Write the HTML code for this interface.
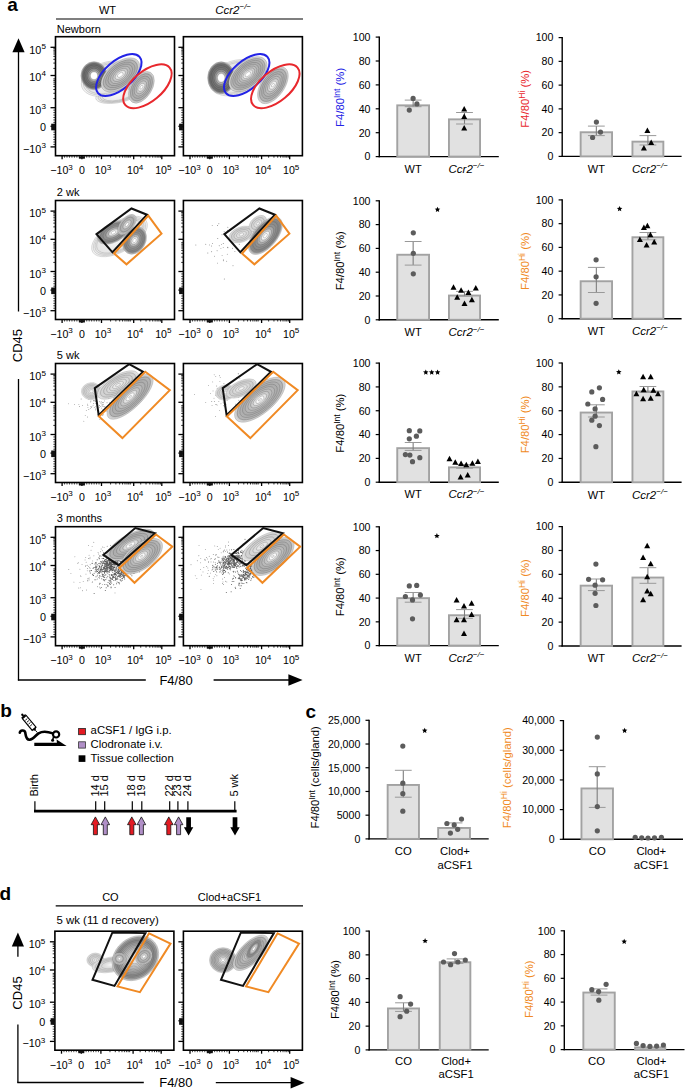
<!DOCTYPE html>
<html><head><meta charset="utf-8"><style>
html,body{margin:0;padding:0;background:#fff;}
svg{display:block;font-family:"Liberation Sans", sans-serif;}
</style></head><body>
<svg width="685" height="1090" viewBox="0 0 685 1090">
<rect width="685" height="1090" fill="#fff"/>
<defs><radialGradient id="g_vdark" cx="0.5" cy="0.5" r="0.5"><stop offset="0" stop-color="#ffffff"/><stop offset="0.2" stop-color="#ffffff"/><stop offset="0.36" stop-color="#b0b0b0"/><stop offset="0.55" stop-color="#7a7a7a"/><stop offset="0.82" stop-color="#6c6c6c"/><stop offset="0.93" stop-color="#8c8c8c"/><stop offset="1" stop-color="#d8d8d8"/></radialGradient><radialGradient id="g_dark" cx="0.5" cy="0.5" r="0.5"><stop offset="0" stop-color="#ffffff"/><stop offset="0.14" stop-color="#ffffff"/><stop offset="0.3" stop-color="#c8c8c8"/><stop offset="0.5" stop-color="#959595"/><stop offset="0.8" stop-color="#848484"/><stop offset="0.92" stop-color="#a0a0a0"/><stop offset="1" stop-color="#e0e0e0"/></radialGradient><radialGradient id="g_med" cx="0.5" cy="0.5" r="0.5"><stop offset="0" stop-color="#ffffff"/><stop offset="0.12" stop-color="#fbfbfb"/><stop offset="0.35" stop-color="#c4c4c4"/><stop offset="0.65" stop-color="#acacac"/><stop offset="0.88" stop-color="#b6b6b6"/><stop offset="1" stop-color="#e6e6e6"/></radialGradient><radialGradient id="g_light" cx="0.5" cy="0.5" r="0.5"><stop offset="0" stop-color="#f6f6f6"/><stop offset="0.3" stop-color="#e0e0e0"/><stop offset="0.7" stop-color="#d0d0d0"/><stop offset="0.9" stop-color="#d8d8d8"/><stop offset="1" stop-color="#f2f2f2"/></radialGradient><radialGradient id="g_ring" cx="0.5" cy="0.5" r="0.5"><stop offset="0" stop-color="#eeeeee"/><stop offset="0.35" stop-color="#d4d4d4"/><stop offset="0.6" stop-color="#a8a8a8"/><stop offset="0.8" stop-color="#858585"/><stop offset="0.92" stop-color="#a4a4a4"/><stop offset="1" stop-color="#e4e4e4"/></radialGradient><radialGradient id="g_faint" cx="0.5" cy="0.5" r="0.5"><stop offset="0" stop-color="#f8f8f8"/><stop offset="0.5" stop-color="#eeeeee"/><stop offset="0.85" stop-color="#e4e4e4"/><stop offset="1" stop-color="#f8f8f8"/></radialGradient></defs>
<text x="7.2" y="10.6" font-size="19" text-anchor="start" fill="#000" font-weight="bold" font-style="normal">a</text>
<text x="0.2" y="717.4" font-size="19" text-anchor="start" fill="#000" font-weight="bold" font-style="normal">b</text>
<text x="305.6" y="717.8" font-size="19" text-anchor="start" fill="#000" font-weight="bold" font-style="normal">c</text>
<text x="-0.6" y="899.6" font-size="19" text-anchor="start" fill="#000" font-weight="bold" font-style="normal">d</text>
<text x="107.5" y="13.8" font-size="11" text-anchor="middle" fill="#000" font-weight="normal" font-style="normal">WT</text>
<text x="215.2" y="13.8" font-size="11" text-anchor="start" fill="#000" font-weight="normal" font-style="italic"><tspan font-size="11.5">Ccr2</tspan><tspan dy="-4.5" font-size="8">−/−</tspan></text>
<line x1="56" y1="19" x2="303" y2="19" stroke="#000" stroke-width="1.2"/>
<line x1="18.5" y1="50" x2="18.5" y2="311.6" stroke="#000" stroke-width="1.3"/>
<line x1="18.5" y1="379" x2="18.5" y2="680.6" stroke="#000" stroke-width="1.3"/>
<polygon points="18.5,38.2 12.4,52.3 24.6,52.3" fill="#000"/>
<text x="22" y="345.6" font-size="13" text-anchor="middle" fill="#000" font-weight="normal" font-style="normal" transform="rotate(-90 22 345.6)">CD45</text>
<line x1="17.9" y1="680" x2="145.8" y2="680" stroke="#000" stroke-width="1.3"/>
<line x1="213.6" y1="680" x2="290" y2="680" stroke="#000" stroke-width="1.3"/>
<polygon points="302.6,680 288.4,674.2 288.4,685.8" fill="#000"/>
<text x="159.4" y="685.2" font-size="13" text-anchor="start" fill="#000" font-weight="normal" font-style="normal">F4/80</text>
<text x="56.8" y="32.8" font-size="11" text-anchor="start" fill="#000" font-weight="normal" font-style="normal">Newborn</text>
<rect x="55.5" y="36.7" width="119" height="119" fill="none" stroke="#000" stroke-width="1.6"/>
<line x1="50.5" y1="47.3" x2="55.5" y2="47.3" stroke="#000" stroke-width="1.3"/>
<line x1="50.5" y1="75.5" x2="55.5" y2="75.5" stroke="#000" stroke-width="1.3"/>
<line x1="50.5" y1="107.7" x2="55.5" y2="107.7" stroke="#000" stroke-width="1.3"/>
<line x1="50.5" y1="126.3" x2="55.5" y2="126.3" stroke="#000" stroke-width="1.3"/>
<line x1="50.5" y1="146.9" x2="55.5" y2="146.9" stroke="#000" stroke-width="1.3"/>
<line x1="53.3" y1="98.61" x2="55.5" y2="98.61" stroke="#000" stroke-width="0.8"/>
<line x1="53.3" y1="93.29" x2="55.5" y2="93.29" stroke="#000" stroke-width="0.8"/>
<line x1="53.3" y1="89.52" x2="55.5" y2="89.52" stroke="#000" stroke-width="0.8"/>
<line x1="53.3" y1="86.59" x2="55.5" y2="86.59" stroke="#000" stroke-width="0.8"/>
<line x1="53.3" y1="84.2" x2="55.5" y2="84.2" stroke="#000" stroke-width="0.8"/>
<line x1="53.3" y1="82.18" x2="55.5" y2="82.18" stroke="#000" stroke-width="0.8"/>
<line x1="53.3" y1="80.43" x2="55.5" y2="80.43" stroke="#000" stroke-width="0.8"/>
<line x1="53.3" y1="78.88" x2="55.5" y2="78.88" stroke="#000" stroke-width="0.8"/>
<line x1="53.3" y1="68.41" x2="55.5" y2="68.41" stroke="#000" stroke-width="0.8"/>
<line x1="53.3" y1="63.09" x2="55.5" y2="63.09" stroke="#000" stroke-width="0.8"/>
<line x1="53.3" y1="59.32" x2="55.5" y2="59.32" stroke="#000" stroke-width="0.8"/>
<line x1="53.3" y1="56.39" x2="55.5" y2="56.39" stroke="#000" stroke-width="0.8"/>
<line x1="53.3" y1="54" x2="55.5" y2="54" stroke="#000" stroke-width="0.8"/>
<line x1="53.3" y1="51.98" x2="55.5" y2="51.98" stroke="#000" stroke-width="0.8"/>
<line x1="53.3" y1="50.23" x2="55.5" y2="50.23" stroke="#000" stroke-width="0.8"/>
<line x1="53.3" y1="48.68" x2="55.5" y2="48.68" stroke="#000" stroke-width="0.8"/>
<line x1="53.3" y1="110.15" x2="55.5" y2="110.15" stroke="#000" stroke-width="0.7"/>
<line x1="53.3" y1="112.6" x2="55.5" y2="112.6" stroke="#000" stroke-width="0.7"/>
<line x1="53.3" y1="115.05" x2="55.5" y2="115.05" stroke="#000" stroke-width="0.7"/>
<line x1="53.3" y1="117.5" x2="55.5" y2="117.5" stroke="#000" stroke-width="0.7"/>
<line x1="53.3" y1="119.95" x2="55.5" y2="119.95" stroke="#000" stroke-width="0.7"/>
<line x1="53.3" y1="122.4" x2="55.5" y2="122.4" stroke="#000" stroke-width="0.7"/>
<line x1="53.3" y1="124.85" x2="55.5" y2="124.85" stroke="#000" stroke-width="0.7"/>
<line x1="53.3" y1="127.3" x2="55.5" y2="127.3" stroke="#000" stroke-width="0.7"/>
<line x1="53.3" y1="129.75" x2="55.5" y2="129.75" stroke="#000" stroke-width="0.7"/>
<line x1="53.3" y1="132.2" x2="55.5" y2="132.2" stroke="#000" stroke-width="0.7"/>
<line x1="53.3" y1="134.65" x2="55.5" y2="134.65" stroke="#000" stroke-width="0.7"/>
<line x1="53.3" y1="137.1" x2="55.5" y2="137.1" stroke="#000" stroke-width="0.7"/>
<line x1="53.3" y1="139.55" x2="55.5" y2="139.55" stroke="#000" stroke-width="0.7"/>
<line x1="53.3" y1="142" x2="55.5" y2="142" stroke="#000" stroke-width="0.7"/>
<line x1="53.3" y1="144.45" x2="55.5" y2="144.45" stroke="#000" stroke-width="0.7"/>
<rect x="51.2" y="123.7" width="3.8" height="6.6" fill="#111"/>
<line x1="62.1" y1="155.7" x2="62.1" y2="159.2" stroke="#000" stroke-width="1.3"/>
<line x1="81.9" y1="155.7" x2="81.9" y2="159.2" stroke="#000" stroke-width="1.3"/>
<line x1="101.5" y1="155.7" x2="101.5" y2="159.2" stroke="#000" stroke-width="1.3"/>
<line x1="133.7" y1="155.7" x2="133.7" y2="159.2" stroke="#000" stroke-width="1.3"/>
<line x1="161.8" y1="155.7" x2="161.8" y2="159.2" stroke="#000" stroke-width="1.3"/>
<line x1="110.58" y1="155.7" x2="110.58" y2="157.7" stroke="#000" stroke-width="0.8"/>
<line x1="115.89" y1="155.7" x2="115.89" y2="157.7" stroke="#000" stroke-width="0.8"/>
<line x1="119.65" y1="155.7" x2="119.65" y2="157.7" stroke="#000" stroke-width="0.8"/>
<line x1="122.57" y1="155.7" x2="122.57" y2="157.7" stroke="#000" stroke-width="0.8"/>
<line x1="124.96" y1="155.7" x2="124.96" y2="157.7" stroke="#000" stroke-width="0.8"/>
<line x1="126.98" y1="155.7" x2="126.98" y2="157.7" stroke="#000" stroke-width="0.8"/>
<line x1="128.73" y1="155.7" x2="128.73" y2="157.7" stroke="#000" stroke-width="0.8"/>
<line x1="130.27" y1="155.7" x2="130.27" y2="157.7" stroke="#000" stroke-width="0.8"/>
<line x1="140.73" y1="155.7" x2="140.73" y2="157.7" stroke="#000" stroke-width="0.8"/>
<line x1="146.04" y1="155.7" x2="146.04" y2="157.7" stroke="#000" stroke-width="0.8"/>
<line x1="149.8" y1="155.7" x2="149.8" y2="157.7" stroke="#000" stroke-width="0.8"/>
<line x1="152.72" y1="155.7" x2="152.72" y2="157.7" stroke="#000" stroke-width="0.8"/>
<line x1="155.11" y1="155.7" x2="155.11" y2="157.7" stroke="#000" stroke-width="0.8"/>
<line x1="157.13" y1="155.7" x2="157.13" y2="157.7" stroke="#000" stroke-width="0.8"/>
<line x1="158.88" y1="155.7" x2="158.88" y2="157.7" stroke="#000" stroke-width="0.8"/>
<line x1="160.42" y1="155.7" x2="160.42" y2="157.7" stroke="#000" stroke-width="0.8"/>
<line x1="64.56" y1="155.7" x2="64.56" y2="157.7" stroke="#000" stroke-width="0.7"/>
<line x1="67.03" y1="155.7" x2="67.03" y2="157.7" stroke="#000" stroke-width="0.7"/>
<line x1="69.49" y1="155.7" x2="69.49" y2="157.7" stroke="#000" stroke-width="0.7"/>
<line x1="71.95" y1="155.7" x2="71.95" y2="157.7" stroke="#000" stroke-width="0.7"/>
<line x1="74.41" y1="155.7" x2="74.41" y2="157.7" stroke="#000" stroke-width="0.7"/>
<line x1="76.88" y1="155.7" x2="76.88" y2="157.7" stroke="#000" stroke-width="0.7"/>
<line x1="79.34" y1="155.7" x2="79.34" y2="157.7" stroke="#000" stroke-width="0.7"/>
<line x1="81.8" y1="155.7" x2="81.8" y2="157.7" stroke="#000" stroke-width="0.7"/>
<line x1="84.26" y1="155.7" x2="84.26" y2="157.7" stroke="#000" stroke-width="0.7"/>
<line x1="86.72" y1="155.7" x2="86.72" y2="157.7" stroke="#000" stroke-width="0.7"/>
<line x1="89.19" y1="155.7" x2="89.19" y2="157.7" stroke="#000" stroke-width="0.7"/>
<line x1="91.65" y1="155.7" x2="91.65" y2="157.7" stroke="#000" stroke-width="0.7"/>
<line x1="94.11" y1="155.7" x2="94.11" y2="157.7" stroke="#000" stroke-width="0.7"/>
<line x1="96.58" y1="155.7" x2="96.58" y2="157.7" stroke="#000" stroke-width="0.7"/>
<line x1="99.04" y1="155.7" x2="99.04" y2="157.7" stroke="#000" stroke-width="0.7"/>
<rect x="78.9" y="156.3" width="6" height="2.4" fill="#111"/>
<text x="61.6" y="174.1" font-size="10.6" text-anchor="middle" fill="#000" font-weight="normal" font-style="normal">−10<tspan dy="-4.5" font-size="8.1">3</tspan></text>
<text x="81.9" y="174.1" font-size="10.6" text-anchor="middle" fill="#000" font-weight="normal" font-style="normal">0</text>
<text x="103" y="174.1" font-size="10.6" text-anchor="middle" fill="#000" font-weight="normal" font-style="normal">10<tspan dy="-4.5" font-size="8.1">3</tspan></text>
<text x="135.2" y="174.1" font-size="10.6" text-anchor="middle" fill="#000" font-weight="normal" font-style="normal">10<tspan dy="-4.5" font-size="8.1">4</tspan></text>
<text x="163.3" y="174.1" font-size="10.6" text-anchor="middle" fill="#000" font-weight="normal" font-style="normal">10<tspan dy="-4.5" font-size="8.1">5</tspan></text>
<text x="45.9" y="53.5" font-size="10.8" text-anchor="end" fill="#000" font-weight="normal" font-style="normal">10<tspan dy="-4.5" font-size="8.1">5</tspan></text>
<text x="45.9" y="80.5" font-size="10.8" text-anchor="end" fill="#000" font-weight="normal" font-style="normal">10<tspan dy="-4.5" font-size="8.1">4</tspan></text>
<text x="45.9" y="113.7" font-size="10.8" text-anchor="end" fill="#000" font-weight="normal" font-style="normal">10<tspan dy="-4.5" font-size="8.1">3</tspan></text>
<text x="45.9" y="131.1" font-size="10.8" text-anchor="end" fill="#000" font-weight="normal" font-style="normal">0</text>
<text x="45.9" y="152.9" font-size="10.8" text-anchor="end" fill="#000" font-weight="normal" font-style="normal">−10<tspan dy="-4.5" font-size="8.1">3</tspan></text>
<rect x="183.4" y="36.7" width="119" height="119" fill="none" stroke="#000" stroke-width="1.6"/>
<line x1="178.4" y1="47.3" x2="183.4" y2="47.3" stroke="#000" stroke-width="1.3"/>
<line x1="178.4" y1="75.5" x2="183.4" y2="75.5" stroke="#000" stroke-width="1.3"/>
<line x1="178.4" y1="107.7" x2="183.4" y2="107.7" stroke="#000" stroke-width="1.3"/>
<line x1="178.4" y1="126.3" x2="183.4" y2="126.3" stroke="#000" stroke-width="1.3"/>
<line x1="178.4" y1="146.9" x2="183.4" y2="146.9" stroke="#000" stroke-width="1.3"/>
<line x1="181.2" y1="98.61" x2="183.4" y2="98.61" stroke="#000" stroke-width="0.8"/>
<line x1="181.2" y1="93.29" x2="183.4" y2="93.29" stroke="#000" stroke-width="0.8"/>
<line x1="181.2" y1="89.52" x2="183.4" y2="89.52" stroke="#000" stroke-width="0.8"/>
<line x1="181.2" y1="86.59" x2="183.4" y2="86.59" stroke="#000" stroke-width="0.8"/>
<line x1="181.2" y1="84.2" x2="183.4" y2="84.2" stroke="#000" stroke-width="0.8"/>
<line x1="181.2" y1="82.18" x2="183.4" y2="82.18" stroke="#000" stroke-width="0.8"/>
<line x1="181.2" y1="80.43" x2="183.4" y2="80.43" stroke="#000" stroke-width="0.8"/>
<line x1="181.2" y1="78.88" x2="183.4" y2="78.88" stroke="#000" stroke-width="0.8"/>
<line x1="181.2" y1="68.41" x2="183.4" y2="68.41" stroke="#000" stroke-width="0.8"/>
<line x1="181.2" y1="63.09" x2="183.4" y2="63.09" stroke="#000" stroke-width="0.8"/>
<line x1="181.2" y1="59.32" x2="183.4" y2="59.32" stroke="#000" stroke-width="0.8"/>
<line x1="181.2" y1="56.39" x2="183.4" y2="56.39" stroke="#000" stroke-width="0.8"/>
<line x1="181.2" y1="54" x2="183.4" y2="54" stroke="#000" stroke-width="0.8"/>
<line x1="181.2" y1="51.98" x2="183.4" y2="51.98" stroke="#000" stroke-width="0.8"/>
<line x1="181.2" y1="50.23" x2="183.4" y2="50.23" stroke="#000" stroke-width="0.8"/>
<line x1="181.2" y1="48.68" x2="183.4" y2="48.68" stroke="#000" stroke-width="0.8"/>
<line x1="181.2" y1="110.15" x2="183.4" y2="110.15" stroke="#000" stroke-width="0.7"/>
<line x1="181.2" y1="112.6" x2="183.4" y2="112.6" stroke="#000" stroke-width="0.7"/>
<line x1="181.2" y1="115.05" x2="183.4" y2="115.05" stroke="#000" stroke-width="0.7"/>
<line x1="181.2" y1="117.5" x2="183.4" y2="117.5" stroke="#000" stroke-width="0.7"/>
<line x1="181.2" y1="119.95" x2="183.4" y2="119.95" stroke="#000" stroke-width="0.7"/>
<line x1="181.2" y1="122.4" x2="183.4" y2="122.4" stroke="#000" stroke-width="0.7"/>
<line x1="181.2" y1="124.85" x2="183.4" y2="124.85" stroke="#000" stroke-width="0.7"/>
<line x1="181.2" y1="127.3" x2="183.4" y2="127.3" stroke="#000" stroke-width="0.7"/>
<line x1="181.2" y1="129.75" x2="183.4" y2="129.75" stroke="#000" stroke-width="0.7"/>
<line x1="181.2" y1="132.2" x2="183.4" y2="132.2" stroke="#000" stroke-width="0.7"/>
<line x1="181.2" y1="134.65" x2="183.4" y2="134.65" stroke="#000" stroke-width="0.7"/>
<line x1="181.2" y1="137.1" x2="183.4" y2="137.1" stroke="#000" stroke-width="0.7"/>
<line x1="181.2" y1="139.55" x2="183.4" y2="139.55" stroke="#000" stroke-width="0.7"/>
<line x1="181.2" y1="142" x2="183.4" y2="142" stroke="#000" stroke-width="0.7"/>
<line x1="181.2" y1="144.45" x2="183.4" y2="144.45" stroke="#000" stroke-width="0.7"/>
<rect x="179.1" y="123.7" width="3.8" height="6.6" fill="#111"/>
<line x1="190" y1="155.7" x2="190" y2="159.2" stroke="#000" stroke-width="1.3"/>
<line x1="209.8" y1="155.7" x2="209.8" y2="159.2" stroke="#000" stroke-width="1.3"/>
<line x1="229.4" y1="155.7" x2="229.4" y2="159.2" stroke="#000" stroke-width="1.3"/>
<line x1="261.6" y1="155.7" x2="261.6" y2="159.2" stroke="#000" stroke-width="1.3"/>
<line x1="289.7" y1="155.7" x2="289.7" y2="159.2" stroke="#000" stroke-width="1.3"/>
<line x1="238.48" y1="155.7" x2="238.48" y2="157.7" stroke="#000" stroke-width="0.8"/>
<line x1="243.79" y1="155.7" x2="243.79" y2="157.7" stroke="#000" stroke-width="0.8"/>
<line x1="247.55" y1="155.7" x2="247.55" y2="157.7" stroke="#000" stroke-width="0.8"/>
<line x1="250.47" y1="155.7" x2="250.47" y2="157.7" stroke="#000" stroke-width="0.8"/>
<line x1="252.86" y1="155.7" x2="252.86" y2="157.7" stroke="#000" stroke-width="0.8"/>
<line x1="254.88" y1="155.7" x2="254.88" y2="157.7" stroke="#000" stroke-width="0.8"/>
<line x1="256.63" y1="155.7" x2="256.63" y2="157.7" stroke="#000" stroke-width="0.8"/>
<line x1="258.17" y1="155.7" x2="258.17" y2="157.7" stroke="#000" stroke-width="0.8"/>
<line x1="268.63" y1="155.7" x2="268.63" y2="157.7" stroke="#000" stroke-width="0.8"/>
<line x1="273.94" y1="155.7" x2="273.94" y2="157.7" stroke="#000" stroke-width="0.8"/>
<line x1="277.7" y1="155.7" x2="277.7" y2="157.7" stroke="#000" stroke-width="0.8"/>
<line x1="280.62" y1="155.7" x2="280.62" y2="157.7" stroke="#000" stroke-width="0.8"/>
<line x1="283.01" y1="155.7" x2="283.01" y2="157.7" stroke="#000" stroke-width="0.8"/>
<line x1="285.03" y1="155.7" x2="285.03" y2="157.7" stroke="#000" stroke-width="0.8"/>
<line x1="286.78" y1="155.7" x2="286.78" y2="157.7" stroke="#000" stroke-width="0.8"/>
<line x1="288.32" y1="155.7" x2="288.32" y2="157.7" stroke="#000" stroke-width="0.8"/>
<line x1="192.46" y1="155.7" x2="192.46" y2="157.7" stroke="#000" stroke-width="0.7"/>
<line x1="194.93" y1="155.7" x2="194.93" y2="157.7" stroke="#000" stroke-width="0.7"/>
<line x1="197.39" y1="155.7" x2="197.39" y2="157.7" stroke="#000" stroke-width="0.7"/>
<line x1="199.85" y1="155.7" x2="199.85" y2="157.7" stroke="#000" stroke-width="0.7"/>
<line x1="202.31" y1="155.7" x2="202.31" y2="157.7" stroke="#000" stroke-width="0.7"/>
<line x1="204.78" y1="155.7" x2="204.78" y2="157.7" stroke="#000" stroke-width="0.7"/>
<line x1="207.24" y1="155.7" x2="207.24" y2="157.7" stroke="#000" stroke-width="0.7"/>
<line x1="209.7" y1="155.7" x2="209.7" y2="157.7" stroke="#000" stroke-width="0.7"/>
<line x1="212.16" y1="155.7" x2="212.16" y2="157.7" stroke="#000" stroke-width="0.7"/>
<line x1="214.62" y1="155.7" x2="214.62" y2="157.7" stroke="#000" stroke-width="0.7"/>
<line x1="217.09" y1="155.7" x2="217.09" y2="157.7" stroke="#000" stroke-width="0.7"/>
<line x1="219.55" y1="155.7" x2="219.55" y2="157.7" stroke="#000" stroke-width="0.7"/>
<line x1="222.01" y1="155.7" x2="222.01" y2="157.7" stroke="#000" stroke-width="0.7"/>
<line x1="224.47" y1="155.7" x2="224.47" y2="157.7" stroke="#000" stroke-width="0.7"/>
<line x1="226.94" y1="155.7" x2="226.94" y2="157.7" stroke="#000" stroke-width="0.7"/>
<rect x="206.8" y="156.3" width="6" height="2.4" fill="#111"/>
<text x="189.5" y="174.1" font-size="10.6" text-anchor="middle" fill="#000" font-weight="normal" font-style="normal">−10<tspan dy="-4.5" font-size="8.1">3</tspan></text>
<text x="209.8" y="174.1" font-size="10.6" text-anchor="middle" fill="#000" font-weight="normal" font-style="normal">0</text>
<text x="230.9" y="174.1" font-size="10.6" text-anchor="middle" fill="#000" font-weight="normal" font-style="normal">10<tspan dy="-4.5" font-size="8.1">3</tspan></text>
<text x="263.1" y="174.1" font-size="10.6" text-anchor="middle" fill="#000" font-weight="normal" font-style="normal">10<tspan dy="-4.5" font-size="8.1">4</tspan></text>
<text x="291.2" y="174.1" font-size="10.6" text-anchor="middle" fill="#000" font-weight="normal" font-style="normal">10<tspan dy="-4.5" font-size="8.1">5</tspan></text>
<text x="56.8" y="196.3" font-size="11" text-anchor="start" fill="#000" font-weight="normal" font-style="normal">2 wk</text>
<rect x="55.5" y="200.5" width="119" height="119" fill="none" stroke="#000" stroke-width="1.6"/>
<line x1="50.5" y1="211.1" x2="55.5" y2="211.1" stroke="#000" stroke-width="1.3"/>
<line x1="50.5" y1="239.3" x2="55.5" y2="239.3" stroke="#000" stroke-width="1.3"/>
<line x1="50.5" y1="271.5" x2="55.5" y2="271.5" stroke="#000" stroke-width="1.3"/>
<line x1="50.5" y1="290.1" x2="55.5" y2="290.1" stroke="#000" stroke-width="1.3"/>
<line x1="50.5" y1="310.7" x2="55.5" y2="310.7" stroke="#000" stroke-width="1.3"/>
<line x1="53.3" y1="262.41" x2="55.5" y2="262.41" stroke="#000" stroke-width="0.8"/>
<line x1="53.3" y1="257.09" x2="55.5" y2="257.09" stroke="#000" stroke-width="0.8"/>
<line x1="53.3" y1="253.32" x2="55.5" y2="253.32" stroke="#000" stroke-width="0.8"/>
<line x1="53.3" y1="250.39" x2="55.5" y2="250.39" stroke="#000" stroke-width="0.8"/>
<line x1="53.3" y1="248" x2="55.5" y2="248" stroke="#000" stroke-width="0.8"/>
<line x1="53.3" y1="245.98" x2="55.5" y2="245.98" stroke="#000" stroke-width="0.8"/>
<line x1="53.3" y1="244.23" x2="55.5" y2="244.23" stroke="#000" stroke-width="0.8"/>
<line x1="53.3" y1="242.68" x2="55.5" y2="242.68" stroke="#000" stroke-width="0.8"/>
<line x1="53.3" y1="232.21" x2="55.5" y2="232.21" stroke="#000" stroke-width="0.8"/>
<line x1="53.3" y1="226.89" x2="55.5" y2="226.89" stroke="#000" stroke-width="0.8"/>
<line x1="53.3" y1="223.12" x2="55.5" y2="223.12" stroke="#000" stroke-width="0.8"/>
<line x1="53.3" y1="220.19" x2="55.5" y2="220.19" stroke="#000" stroke-width="0.8"/>
<line x1="53.3" y1="217.8" x2="55.5" y2="217.8" stroke="#000" stroke-width="0.8"/>
<line x1="53.3" y1="215.78" x2="55.5" y2="215.78" stroke="#000" stroke-width="0.8"/>
<line x1="53.3" y1="214.03" x2="55.5" y2="214.03" stroke="#000" stroke-width="0.8"/>
<line x1="53.3" y1="212.48" x2="55.5" y2="212.48" stroke="#000" stroke-width="0.8"/>
<line x1="53.3" y1="273.95" x2="55.5" y2="273.95" stroke="#000" stroke-width="0.7"/>
<line x1="53.3" y1="276.4" x2="55.5" y2="276.4" stroke="#000" stroke-width="0.7"/>
<line x1="53.3" y1="278.85" x2="55.5" y2="278.85" stroke="#000" stroke-width="0.7"/>
<line x1="53.3" y1="281.3" x2="55.5" y2="281.3" stroke="#000" stroke-width="0.7"/>
<line x1="53.3" y1="283.75" x2="55.5" y2="283.75" stroke="#000" stroke-width="0.7"/>
<line x1="53.3" y1="286.2" x2="55.5" y2="286.2" stroke="#000" stroke-width="0.7"/>
<line x1="53.3" y1="288.65" x2="55.5" y2="288.65" stroke="#000" stroke-width="0.7"/>
<line x1="53.3" y1="291.1" x2="55.5" y2="291.1" stroke="#000" stroke-width="0.7"/>
<line x1="53.3" y1="293.55" x2="55.5" y2="293.55" stroke="#000" stroke-width="0.7"/>
<line x1="53.3" y1="296" x2="55.5" y2="296" stroke="#000" stroke-width="0.7"/>
<line x1="53.3" y1="298.45" x2="55.5" y2="298.45" stroke="#000" stroke-width="0.7"/>
<line x1="53.3" y1="300.9" x2="55.5" y2="300.9" stroke="#000" stroke-width="0.7"/>
<line x1="53.3" y1="303.35" x2="55.5" y2="303.35" stroke="#000" stroke-width="0.7"/>
<line x1="53.3" y1="305.8" x2="55.5" y2="305.8" stroke="#000" stroke-width="0.7"/>
<line x1="53.3" y1="308.25" x2="55.5" y2="308.25" stroke="#000" stroke-width="0.7"/>
<rect x="51.2" y="287.5" width="3.8" height="6.6" fill="#111"/>
<line x1="62.1" y1="319.5" x2="62.1" y2="323" stroke="#000" stroke-width="1.3"/>
<line x1="81.9" y1="319.5" x2="81.9" y2="323" stroke="#000" stroke-width="1.3"/>
<line x1="101.5" y1="319.5" x2="101.5" y2="323" stroke="#000" stroke-width="1.3"/>
<line x1="133.7" y1="319.5" x2="133.7" y2="323" stroke="#000" stroke-width="1.3"/>
<line x1="161.8" y1="319.5" x2="161.8" y2="323" stroke="#000" stroke-width="1.3"/>
<line x1="110.58" y1="319.5" x2="110.58" y2="321.5" stroke="#000" stroke-width="0.8"/>
<line x1="115.89" y1="319.5" x2="115.89" y2="321.5" stroke="#000" stroke-width="0.8"/>
<line x1="119.65" y1="319.5" x2="119.65" y2="321.5" stroke="#000" stroke-width="0.8"/>
<line x1="122.57" y1="319.5" x2="122.57" y2="321.5" stroke="#000" stroke-width="0.8"/>
<line x1="124.96" y1="319.5" x2="124.96" y2="321.5" stroke="#000" stroke-width="0.8"/>
<line x1="126.98" y1="319.5" x2="126.98" y2="321.5" stroke="#000" stroke-width="0.8"/>
<line x1="128.73" y1="319.5" x2="128.73" y2="321.5" stroke="#000" stroke-width="0.8"/>
<line x1="130.27" y1="319.5" x2="130.27" y2="321.5" stroke="#000" stroke-width="0.8"/>
<line x1="140.73" y1="319.5" x2="140.73" y2="321.5" stroke="#000" stroke-width="0.8"/>
<line x1="146.04" y1="319.5" x2="146.04" y2="321.5" stroke="#000" stroke-width="0.8"/>
<line x1="149.8" y1="319.5" x2="149.8" y2="321.5" stroke="#000" stroke-width="0.8"/>
<line x1="152.72" y1="319.5" x2="152.72" y2="321.5" stroke="#000" stroke-width="0.8"/>
<line x1="155.11" y1="319.5" x2="155.11" y2="321.5" stroke="#000" stroke-width="0.8"/>
<line x1="157.13" y1="319.5" x2="157.13" y2="321.5" stroke="#000" stroke-width="0.8"/>
<line x1="158.88" y1="319.5" x2="158.88" y2="321.5" stroke="#000" stroke-width="0.8"/>
<line x1="160.42" y1="319.5" x2="160.42" y2="321.5" stroke="#000" stroke-width="0.8"/>
<line x1="64.56" y1="319.5" x2="64.56" y2="321.5" stroke="#000" stroke-width="0.7"/>
<line x1="67.03" y1="319.5" x2="67.03" y2="321.5" stroke="#000" stroke-width="0.7"/>
<line x1="69.49" y1="319.5" x2="69.49" y2="321.5" stroke="#000" stroke-width="0.7"/>
<line x1="71.95" y1="319.5" x2="71.95" y2="321.5" stroke="#000" stroke-width="0.7"/>
<line x1="74.41" y1="319.5" x2="74.41" y2="321.5" stroke="#000" stroke-width="0.7"/>
<line x1="76.88" y1="319.5" x2="76.88" y2="321.5" stroke="#000" stroke-width="0.7"/>
<line x1="79.34" y1="319.5" x2="79.34" y2="321.5" stroke="#000" stroke-width="0.7"/>
<line x1="81.8" y1="319.5" x2="81.8" y2="321.5" stroke="#000" stroke-width="0.7"/>
<line x1="84.26" y1="319.5" x2="84.26" y2="321.5" stroke="#000" stroke-width="0.7"/>
<line x1="86.72" y1="319.5" x2="86.72" y2="321.5" stroke="#000" stroke-width="0.7"/>
<line x1="89.19" y1="319.5" x2="89.19" y2="321.5" stroke="#000" stroke-width="0.7"/>
<line x1="91.65" y1="319.5" x2="91.65" y2="321.5" stroke="#000" stroke-width="0.7"/>
<line x1="94.11" y1="319.5" x2="94.11" y2="321.5" stroke="#000" stroke-width="0.7"/>
<line x1="96.58" y1="319.5" x2="96.58" y2="321.5" stroke="#000" stroke-width="0.7"/>
<line x1="99.04" y1="319.5" x2="99.04" y2="321.5" stroke="#000" stroke-width="0.7"/>
<rect x="78.9" y="320.1" width="6" height="2.4" fill="#111"/>
<text x="61.6" y="337.9" font-size="10.6" text-anchor="middle" fill="#000" font-weight="normal" font-style="normal">−10<tspan dy="-4.5" font-size="8.1">3</tspan></text>
<text x="81.9" y="337.9" font-size="10.6" text-anchor="middle" fill="#000" font-weight="normal" font-style="normal">0</text>
<text x="103" y="337.9" font-size="10.6" text-anchor="middle" fill="#000" font-weight="normal" font-style="normal">10<tspan dy="-4.5" font-size="8.1">3</tspan></text>
<text x="135.2" y="337.9" font-size="10.6" text-anchor="middle" fill="#000" font-weight="normal" font-style="normal">10<tspan dy="-4.5" font-size="8.1">4</tspan></text>
<text x="163.3" y="337.9" font-size="10.6" text-anchor="middle" fill="#000" font-weight="normal" font-style="normal">10<tspan dy="-4.5" font-size="8.1">5</tspan></text>
<text x="45.9" y="217.3" font-size="10.8" text-anchor="end" fill="#000" font-weight="normal" font-style="normal">10<tspan dy="-4.5" font-size="8.1">5</tspan></text>
<text x="45.9" y="244.3" font-size="10.8" text-anchor="end" fill="#000" font-weight="normal" font-style="normal">10<tspan dy="-4.5" font-size="8.1">4</tspan></text>
<text x="45.9" y="277.5" font-size="10.8" text-anchor="end" fill="#000" font-weight="normal" font-style="normal">10<tspan dy="-4.5" font-size="8.1">3</tspan></text>
<text x="45.9" y="294.9" font-size="10.8" text-anchor="end" fill="#000" font-weight="normal" font-style="normal">0</text>
<text x="45.9" y="316.7" font-size="10.8" text-anchor="end" fill="#000" font-weight="normal" font-style="normal">−10<tspan dy="-4.5" font-size="8.1">3</tspan></text>
<rect x="183.4" y="200.5" width="119" height="119" fill="none" stroke="#000" stroke-width="1.6"/>
<line x1="178.4" y1="211.1" x2="183.4" y2="211.1" stroke="#000" stroke-width="1.3"/>
<line x1="178.4" y1="239.3" x2="183.4" y2="239.3" stroke="#000" stroke-width="1.3"/>
<line x1="178.4" y1="271.5" x2="183.4" y2="271.5" stroke="#000" stroke-width="1.3"/>
<line x1="178.4" y1="290.1" x2="183.4" y2="290.1" stroke="#000" stroke-width="1.3"/>
<line x1="178.4" y1="310.7" x2="183.4" y2="310.7" stroke="#000" stroke-width="1.3"/>
<line x1="181.2" y1="262.41" x2="183.4" y2="262.41" stroke="#000" stroke-width="0.8"/>
<line x1="181.2" y1="257.09" x2="183.4" y2="257.09" stroke="#000" stroke-width="0.8"/>
<line x1="181.2" y1="253.32" x2="183.4" y2="253.32" stroke="#000" stroke-width="0.8"/>
<line x1="181.2" y1="250.39" x2="183.4" y2="250.39" stroke="#000" stroke-width="0.8"/>
<line x1="181.2" y1="248" x2="183.4" y2="248" stroke="#000" stroke-width="0.8"/>
<line x1="181.2" y1="245.98" x2="183.4" y2="245.98" stroke="#000" stroke-width="0.8"/>
<line x1="181.2" y1="244.23" x2="183.4" y2="244.23" stroke="#000" stroke-width="0.8"/>
<line x1="181.2" y1="242.68" x2="183.4" y2="242.68" stroke="#000" stroke-width="0.8"/>
<line x1="181.2" y1="232.21" x2="183.4" y2="232.21" stroke="#000" stroke-width="0.8"/>
<line x1="181.2" y1="226.89" x2="183.4" y2="226.89" stroke="#000" stroke-width="0.8"/>
<line x1="181.2" y1="223.12" x2="183.4" y2="223.12" stroke="#000" stroke-width="0.8"/>
<line x1="181.2" y1="220.19" x2="183.4" y2="220.19" stroke="#000" stroke-width="0.8"/>
<line x1="181.2" y1="217.8" x2="183.4" y2="217.8" stroke="#000" stroke-width="0.8"/>
<line x1="181.2" y1="215.78" x2="183.4" y2="215.78" stroke="#000" stroke-width="0.8"/>
<line x1="181.2" y1="214.03" x2="183.4" y2="214.03" stroke="#000" stroke-width="0.8"/>
<line x1="181.2" y1="212.48" x2="183.4" y2="212.48" stroke="#000" stroke-width="0.8"/>
<line x1="181.2" y1="273.95" x2="183.4" y2="273.95" stroke="#000" stroke-width="0.7"/>
<line x1="181.2" y1="276.4" x2="183.4" y2="276.4" stroke="#000" stroke-width="0.7"/>
<line x1="181.2" y1="278.85" x2="183.4" y2="278.85" stroke="#000" stroke-width="0.7"/>
<line x1="181.2" y1="281.3" x2="183.4" y2="281.3" stroke="#000" stroke-width="0.7"/>
<line x1="181.2" y1="283.75" x2="183.4" y2="283.75" stroke="#000" stroke-width="0.7"/>
<line x1="181.2" y1="286.2" x2="183.4" y2="286.2" stroke="#000" stroke-width="0.7"/>
<line x1="181.2" y1="288.65" x2="183.4" y2="288.65" stroke="#000" stroke-width="0.7"/>
<line x1="181.2" y1="291.1" x2="183.4" y2="291.1" stroke="#000" stroke-width="0.7"/>
<line x1="181.2" y1="293.55" x2="183.4" y2="293.55" stroke="#000" stroke-width="0.7"/>
<line x1="181.2" y1="296" x2="183.4" y2="296" stroke="#000" stroke-width="0.7"/>
<line x1="181.2" y1="298.45" x2="183.4" y2="298.45" stroke="#000" stroke-width="0.7"/>
<line x1="181.2" y1="300.9" x2="183.4" y2="300.9" stroke="#000" stroke-width="0.7"/>
<line x1="181.2" y1="303.35" x2="183.4" y2="303.35" stroke="#000" stroke-width="0.7"/>
<line x1="181.2" y1="305.8" x2="183.4" y2="305.8" stroke="#000" stroke-width="0.7"/>
<line x1="181.2" y1="308.25" x2="183.4" y2="308.25" stroke="#000" stroke-width="0.7"/>
<rect x="179.1" y="287.5" width="3.8" height="6.6" fill="#111"/>
<line x1="190" y1="319.5" x2="190" y2="323" stroke="#000" stroke-width="1.3"/>
<line x1="209.8" y1="319.5" x2="209.8" y2="323" stroke="#000" stroke-width="1.3"/>
<line x1="229.4" y1="319.5" x2="229.4" y2="323" stroke="#000" stroke-width="1.3"/>
<line x1="261.6" y1="319.5" x2="261.6" y2="323" stroke="#000" stroke-width="1.3"/>
<line x1="289.7" y1="319.5" x2="289.7" y2="323" stroke="#000" stroke-width="1.3"/>
<line x1="238.48" y1="319.5" x2="238.48" y2="321.5" stroke="#000" stroke-width="0.8"/>
<line x1="243.79" y1="319.5" x2="243.79" y2="321.5" stroke="#000" stroke-width="0.8"/>
<line x1="247.55" y1="319.5" x2="247.55" y2="321.5" stroke="#000" stroke-width="0.8"/>
<line x1="250.47" y1="319.5" x2="250.47" y2="321.5" stroke="#000" stroke-width="0.8"/>
<line x1="252.86" y1="319.5" x2="252.86" y2="321.5" stroke="#000" stroke-width="0.8"/>
<line x1="254.88" y1="319.5" x2="254.88" y2="321.5" stroke="#000" stroke-width="0.8"/>
<line x1="256.63" y1="319.5" x2="256.63" y2="321.5" stroke="#000" stroke-width="0.8"/>
<line x1="258.17" y1="319.5" x2="258.17" y2="321.5" stroke="#000" stroke-width="0.8"/>
<line x1="268.63" y1="319.5" x2="268.63" y2="321.5" stroke="#000" stroke-width="0.8"/>
<line x1="273.94" y1="319.5" x2="273.94" y2="321.5" stroke="#000" stroke-width="0.8"/>
<line x1="277.7" y1="319.5" x2="277.7" y2="321.5" stroke="#000" stroke-width="0.8"/>
<line x1="280.62" y1="319.5" x2="280.62" y2="321.5" stroke="#000" stroke-width="0.8"/>
<line x1="283.01" y1="319.5" x2="283.01" y2="321.5" stroke="#000" stroke-width="0.8"/>
<line x1="285.03" y1="319.5" x2="285.03" y2="321.5" stroke="#000" stroke-width="0.8"/>
<line x1="286.78" y1="319.5" x2="286.78" y2="321.5" stroke="#000" stroke-width="0.8"/>
<line x1="288.32" y1="319.5" x2="288.32" y2="321.5" stroke="#000" stroke-width="0.8"/>
<line x1="192.46" y1="319.5" x2="192.46" y2="321.5" stroke="#000" stroke-width="0.7"/>
<line x1="194.93" y1="319.5" x2="194.93" y2="321.5" stroke="#000" stroke-width="0.7"/>
<line x1="197.39" y1="319.5" x2="197.39" y2="321.5" stroke="#000" stroke-width="0.7"/>
<line x1="199.85" y1="319.5" x2="199.85" y2="321.5" stroke="#000" stroke-width="0.7"/>
<line x1="202.31" y1="319.5" x2="202.31" y2="321.5" stroke="#000" stroke-width="0.7"/>
<line x1="204.78" y1="319.5" x2="204.78" y2="321.5" stroke="#000" stroke-width="0.7"/>
<line x1="207.24" y1="319.5" x2="207.24" y2="321.5" stroke="#000" stroke-width="0.7"/>
<line x1="209.7" y1="319.5" x2="209.7" y2="321.5" stroke="#000" stroke-width="0.7"/>
<line x1="212.16" y1="319.5" x2="212.16" y2="321.5" stroke="#000" stroke-width="0.7"/>
<line x1="214.62" y1="319.5" x2="214.62" y2="321.5" stroke="#000" stroke-width="0.7"/>
<line x1="217.09" y1="319.5" x2="217.09" y2="321.5" stroke="#000" stroke-width="0.7"/>
<line x1="219.55" y1="319.5" x2="219.55" y2="321.5" stroke="#000" stroke-width="0.7"/>
<line x1="222.01" y1="319.5" x2="222.01" y2="321.5" stroke="#000" stroke-width="0.7"/>
<line x1="224.47" y1="319.5" x2="224.47" y2="321.5" stroke="#000" stroke-width="0.7"/>
<line x1="226.94" y1="319.5" x2="226.94" y2="321.5" stroke="#000" stroke-width="0.7"/>
<rect x="206.8" y="320.1" width="6" height="2.4" fill="#111"/>
<text x="189.5" y="337.9" font-size="10.6" text-anchor="middle" fill="#000" font-weight="normal" font-style="normal">−10<tspan dy="-4.5" font-size="8.1">3</tspan></text>
<text x="209.8" y="337.9" font-size="10.6" text-anchor="middle" fill="#000" font-weight="normal" font-style="normal">0</text>
<text x="230.9" y="337.9" font-size="10.6" text-anchor="middle" fill="#000" font-weight="normal" font-style="normal">10<tspan dy="-4.5" font-size="8.1">3</tspan></text>
<text x="263.1" y="337.9" font-size="10.6" text-anchor="middle" fill="#000" font-weight="normal" font-style="normal">10<tspan dy="-4.5" font-size="8.1">4</tspan></text>
<text x="291.2" y="337.9" font-size="10.6" text-anchor="middle" fill="#000" font-weight="normal" font-style="normal">10<tspan dy="-4.5" font-size="8.1">5</tspan></text>
<text x="56.8" y="359.4" font-size="11" text-anchor="start" fill="#000" font-weight="normal" font-style="normal">5 wk</text>
<rect x="55.5" y="363.5" width="119" height="119" fill="none" stroke="#000" stroke-width="1.6"/>
<line x1="50.5" y1="374.1" x2="55.5" y2="374.1" stroke="#000" stroke-width="1.3"/>
<line x1="50.5" y1="402.3" x2="55.5" y2="402.3" stroke="#000" stroke-width="1.3"/>
<line x1="50.5" y1="434.5" x2="55.5" y2="434.5" stroke="#000" stroke-width="1.3"/>
<line x1="50.5" y1="453.1" x2="55.5" y2="453.1" stroke="#000" stroke-width="1.3"/>
<line x1="50.5" y1="473.7" x2="55.5" y2="473.7" stroke="#000" stroke-width="1.3"/>
<line x1="53.3" y1="425.41" x2="55.5" y2="425.41" stroke="#000" stroke-width="0.8"/>
<line x1="53.3" y1="420.09" x2="55.5" y2="420.09" stroke="#000" stroke-width="0.8"/>
<line x1="53.3" y1="416.32" x2="55.5" y2="416.32" stroke="#000" stroke-width="0.8"/>
<line x1="53.3" y1="413.39" x2="55.5" y2="413.39" stroke="#000" stroke-width="0.8"/>
<line x1="53.3" y1="411" x2="55.5" y2="411" stroke="#000" stroke-width="0.8"/>
<line x1="53.3" y1="408.98" x2="55.5" y2="408.98" stroke="#000" stroke-width="0.8"/>
<line x1="53.3" y1="407.23" x2="55.5" y2="407.23" stroke="#000" stroke-width="0.8"/>
<line x1="53.3" y1="405.68" x2="55.5" y2="405.68" stroke="#000" stroke-width="0.8"/>
<line x1="53.3" y1="395.21" x2="55.5" y2="395.21" stroke="#000" stroke-width="0.8"/>
<line x1="53.3" y1="389.89" x2="55.5" y2="389.89" stroke="#000" stroke-width="0.8"/>
<line x1="53.3" y1="386.12" x2="55.5" y2="386.12" stroke="#000" stroke-width="0.8"/>
<line x1="53.3" y1="383.19" x2="55.5" y2="383.19" stroke="#000" stroke-width="0.8"/>
<line x1="53.3" y1="380.8" x2="55.5" y2="380.8" stroke="#000" stroke-width="0.8"/>
<line x1="53.3" y1="378.78" x2="55.5" y2="378.78" stroke="#000" stroke-width="0.8"/>
<line x1="53.3" y1="377.03" x2="55.5" y2="377.03" stroke="#000" stroke-width="0.8"/>
<line x1="53.3" y1="375.48" x2="55.5" y2="375.48" stroke="#000" stroke-width="0.8"/>
<line x1="53.3" y1="436.95" x2="55.5" y2="436.95" stroke="#000" stroke-width="0.7"/>
<line x1="53.3" y1="439.4" x2="55.5" y2="439.4" stroke="#000" stroke-width="0.7"/>
<line x1="53.3" y1="441.85" x2="55.5" y2="441.85" stroke="#000" stroke-width="0.7"/>
<line x1="53.3" y1="444.3" x2="55.5" y2="444.3" stroke="#000" stroke-width="0.7"/>
<line x1="53.3" y1="446.75" x2="55.5" y2="446.75" stroke="#000" stroke-width="0.7"/>
<line x1="53.3" y1="449.2" x2="55.5" y2="449.2" stroke="#000" stroke-width="0.7"/>
<line x1="53.3" y1="451.65" x2="55.5" y2="451.65" stroke="#000" stroke-width="0.7"/>
<line x1="53.3" y1="454.1" x2="55.5" y2="454.1" stroke="#000" stroke-width="0.7"/>
<line x1="53.3" y1="456.55" x2="55.5" y2="456.55" stroke="#000" stroke-width="0.7"/>
<line x1="53.3" y1="459" x2="55.5" y2="459" stroke="#000" stroke-width="0.7"/>
<line x1="53.3" y1="461.45" x2="55.5" y2="461.45" stroke="#000" stroke-width="0.7"/>
<line x1="53.3" y1="463.9" x2="55.5" y2="463.9" stroke="#000" stroke-width="0.7"/>
<line x1="53.3" y1="466.35" x2="55.5" y2="466.35" stroke="#000" stroke-width="0.7"/>
<line x1="53.3" y1="468.8" x2="55.5" y2="468.8" stroke="#000" stroke-width="0.7"/>
<line x1="53.3" y1="471.25" x2="55.5" y2="471.25" stroke="#000" stroke-width="0.7"/>
<rect x="51.2" y="450.5" width="3.8" height="6.6" fill="#111"/>
<line x1="62.1" y1="482.5" x2="62.1" y2="486" stroke="#000" stroke-width="1.3"/>
<line x1="81.9" y1="482.5" x2="81.9" y2="486" stroke="#000" stroke-width="1.3"/>
<line x1="101.5" y1="482.5" x2="101.5" y2="486" stroke="#000" stroke-width="1.3"/>
<line x1="133.7" y1="482.5" x2="133.7" y2="486" stroke="#000" stroke-width="1.3"/>
<line x1="161.8" y1="482.5" x2="161.8" y2="486" stroke="#000" stroke-width="1.3"/>
<line x1="110.58" y1="482.5" x2="110.58" y2="484.5" stroke="#000" stroke-width="0.8"/>
<line x1="115.89" y1="482.5" x2="115.89" y2="484.5" stroke="#000" stroke-width="0.8"/>
<line x1="119.65" y1="482.5" x2="119.65" y2="484.5" stroke="#000" stroke-width="0.8"/>
<line x1="122.57" y1="482.5" x2="122.57" y2="484.5" stroke="#000" stroke-width="0.8"/>
<line x1="124.96" y1="482.5" x2="124.96" y2="484.5" stroke="#000" stroke-width="0.8"/>
<line x1="126.98" y1="482.5" x2="126.98" y2="484.5" stroke="#000" stroke-width="0.8"/>
<line x1="128.73" y1="482.5" x2="128.73" y2="484.5" stroke="#000" stroke-width="0.8"/>
<line x1="130.27" y1="482.5" x2="130.27" y2="484.5" stroke="#000" stroke-width="0.8"/>
<line x1="140.73" y1="482.5" x2="140.73" y2="484.5" stroke="#000" stroke-width="0.8"/>
<line x1="146.04" y1="482.5" x2="146.04" y2="484.5" stroke="#000" stroke-width="0.8"/>
<line x1="149.8" y1="482.5" x2="149.8" y2="484.5" stroke="#000" stroke-width="0.8"/>
<line x1="152.72" y1="482.5" x2="152.72" y2="484.5" stroke="#000" stroke-width="0.8"/>
<line x1="155.11" y1="482.5" x2="155.11" y2="484.5" stroke="#000" stroke-width="0.8"/>
<line x1="157.13" y1="482.5" x2="157.13" y2="484.5" stroke="#000" stroke-width="0.8"/>
<line x1="158.88" y1="482.5" x2="158.88" y2="484.5" stroke="#000" stroke-width="0.8"/>
<line x1="160.42" y1="482.5" x2="160.42" y2="484.5" stroke="#000" stroke-width="0.8"/>
<line x1="64.56" y1="482.5" x2="64.56" y2="484.5" stroke="#000" stroke-width="0.7"/>
<line x1="67.03" y1="482.5" x2="67.03" y2="484.5" stroke="#000" stroke-width="0.7"/>
<line x1="69.49" y1="482.5" x2="69.49" y2="484.5" stroke="#000" stroke-width="0.7"/>
<line x1="71.95" y1="482.5" x2="71.95" y2="484.5" stroke="#000" stroke-width="0.7"/>
<line x1="74.41" y1="482.5" x2="74.41" y2="484.5" stroke="#000" stroke-width="0.7"/>
<line x1="76.88" y1="482.5" x2="76.88" y2="484.5" stroke="#000" stroke-width="0.7"/>
<line x1="79.34" y1="482.5" x2="79.34" y2="484.5" stroke="#000" stroke-width="0.7"/>
<line x1="81.8" y1="482.5" x2="81.8" y2="484.5" stroke="#000" stroke-width="0.7"/>
<line x1="84.26" y1="482.5" x2="84.26" y2="484.5" stroke="#000" stroke-width="0.7"/>
<line x1="86.72" y1="482.5" x2="86.72" y2="484.5" stroke="#000" stroke-width="0.7"/>
<line x1="89.19" y1="482.5" x2="89.19" y2="484.5" stroke="#000" stroke-width="0.7"/>
<line x1="91.65" y1="482.5" x2="91.65" y2="484.5" stroke="#000" stroke-width="0.7"/>
<line x1="94.11" y1="482.5" x2="94.11" y2="484.5" stroke="#000" stroke-width="0.7"/>
<line x1="96.58" y1="482.5" x2="96.58" y2="484.5" stroke="#000" stroke-width="0.7"/>
<line x1="99.04" y1="482.5" x2="99.04" y2="484.5" stroke="#000" stroke-width="0.7"/>
<rect x="78.9" y="483.1" width="6" height="2.4" fill="#111"/>
<text x="61.6" y="500.9" font-size="10.6" text-anchor="middle" fill="#000" font-weight="normal" font-style="normal">−10<tspan dy="-4.5" font-size="8.1">3</tspan></text>
<text x="81.9" y="500.9" font-size="10.6" text-anchor="middle" fill="#000" font-weight="normal" font-style="normal">0</text>
<text x="103" y="500.9" font-size="10.6" text-anchor="middle" fill="#000" font-weight="normal" font-style="normal">10<tspan dy="-4.5" font-size="8.1">3</tspan></text>
<text x="135.2" y="500.9" font-size="10.6" text-anchor="middle" fill="#000" font-weight="normal" font-style="normal">10<tspan dy="-4.5" font-size="8.1">4</tspan></text>
<text x="163.3" y="500.9" font-size="10.6" text-anchor="middle" fill="#000" font-weight="normal" font-style="normal">10<tspan dy="-4.5" font-size="8.1">5</tspan></text>
<text x="45.9" y="380.3" font-size="10.8" text-anchor="end" fill="#000" font-weight="normal" font-style="normal">10<tspan dy="-4.5" font-size="8.1">5</tspan></text>
<text x="45.9" y="407.3" font-size="10.8" text-anchor="end" fill="#000" font-weight="normal" font-style="normal">10<tspan dy="-4.5" font-size="8.1">4</tspan></text>
<text x="45.9" y="440.5" font-size="10.8" text-anchor="end" fill="#000" font-weight="normal" font-style="normal">10<tspan dy="-4.5" font-size="8.1">3</tspan></text>
<text x="45.9" y="457.9" font-size="10.8" text-anchor="end" fill="#000" font-weight="normal" font-style="normal">0</text>
<text x="45.9" y="479.7" font-size="10.8" text-anchor="end" fill="#000" font-weight="normal" font-style="normal">−10<tspan dy="-4.5" font-size="8.1">3</tspan></text>
<rect x="183.4" y="363.5" width="119" height="119" fill="none" stroke="#000" stroke-width="1.6"/>
<line x1="178.4" y1="374.1" x2="183.4" y2="374.1" stroke="#000" stroke-width="1.3"/>
<line x1="178.4" y1="402.3" x2="183.4" y2="402.3" stroke="#000" stroke-width="1.3"/>
<line x1="178.4" y1="434.5" x2="183.4" y2="434.5" stroke="#000" stroke-width="1.3"/>
<line x1="178.4" y1="453.1" x2="183.4" y2="453.1" stroke="#000" stroke-width="1.3"/>
<line x1="178.4" y1="473.7" x2="183.4" y2="473.7" stroke="#000" stroke-width="1.3"/>
<line x1="181.2" y1="425.41" x2="183.4" y2="425.41" stroke="#000" stroke-width="0.8"/>
<line x1="181.2" y1="420.09" x2="183.4" y2="420.09" stroke="#000" stroke-width="0.8"/>
<line x1="181.2" y1="416.32" x2="183.4" y2="416.32" stroke="#000" stroke-width="0.8"/>
<line x1="181.2" y1="413.39" x2="183.4" y2="413.39" stroke="#000" stroke-width="0.8"/>
<line x1="181.2" y1="411" x2="183.4" y2="411" stroke="#000" stroke-width="0.8"/>
<line x1="181.2" y1="408.98" x2="183.4" y2="408.98" stroke="#000" stroke-width="0.8"/>
<line x1="181.2" y1="407.23" x2="183.4" y2="407.23" stroke="#000" stroke-width="0.8"/>
<line x1="181.2" y1="405.68" x2="183.4" y2="405.68" stroke="#000" stroke-width="0.8"/>
<line x1="181.2" y1="395.21" x2="183.4" y2="395.21" stroke="#000" stroke-width="0.8"/>
<line x1="181.2" y1="389.89" x2="183.4" y2="389.89" stroke="#000" stroke-width="0.8"/>
<line x1="181.2" y1="386.12" x2="183.4" y2="386.12" stroke="#000" stroke-width="0.8"/>
<line x1="181.2" y1="383.19" x2="183.4" y2="383.19" stroke="#000" stroke-width="0.8"/>
<line x1="181.2" y1="380.8" x2="183.4" y2="380.8" stroke="#000" stroke-width="0.8"/>
<line x1="181.2" y1="378.78" x2="183.4" y2="378.78" stroke="#000" stroke-width="0.8"/>
<line x1="181.2" y1="377.03" x2="183.4" y2="377.03" stroke="#000" stroke-width="0.8"/>
<line x1="181.2" y1="375.48" x2="183.4" y2="375.48" stroke="#000" stroke-width="0.8"/>
<line x1="181.2" y1="436.95" x2="183.4" y2="436.95" stroke="#000" stroke-width="0.7"/>
<line x1="181.2" y1="439.4" x2="183.4" y2="439.4" stroke="#000" stroke-width="0.7"/>
<line x1="181.2" y1="441.85" x2="183.4" y2="441.85" stroke="#000" stroke-width="0.7"/>
<line x1="181.2" y1="444.3" x2="183.4" y2="444.3" stroke="#000" stroke-width="0.7"/>
<line x1="181.2" y1="446.75" x2="183.4" y2="446.75" stroke="#000" stroke-width="0.7"/>
<line x1="181.2" y1="449.2" x2="183.4" y2="449.2" stroke="#000" stroke-width="0.7"/>
<line x1="181.2" y1="451.65" x2="183.4" y2="451.65" stroke="#000" stroke-width="0.7"/>
<line x1="181.2" y1="454.1" x2="183.4" y2="454.1" stroke="#000" stroke-width="0.7"/>
<line x1="181.2" y1="456.55" x2="183.4" y2="456.55" stroke="#000" stroke-width="0.7"/>
<line x1="181.2" y1="459" x2="183.4" y2="459" stroke="#000" stroke-width="0.7"/>
<line x1="181.2" y1="461.45" x2="183.4" y2="461.45" stroke="#000" stroke-width="0.7"/>
<line x1="181.2" y1="463.9" x2="183.4" y2="463.9" stroke="#000" stroke-width="0.7"/>
<line x1="181.2" y1="466.35" x2="183.4" y2="466.35" stroke="#000" stroke-width="0.7"/>
<line x1="181.2" y1="468.8" x2="183.4" y2="468.8" stroke="#000" stroke-width="0.7"/>
<line x1="181.2" y1="471.25" x2="183.4" y2="471.25" stroke="#000" stroke-width="0.7"/>
<rect x="179.1" y="450.5" width="3.8" height="6.6" fill="#111"/>
<line x1="190" y1="482.5" x2="190" y2="486" stroke="#000" stroke-width="1.3"/>
<line x1="209.8" y1="482.5" x2="209.8" y2="486" stroke="#000" stroke-width="1.3"/>
<line x1="229.4" y1="482.5" x2="229.4" y2="486" stroke="#000" stroke-width="1.3"/>
<line x1="261.6" y1="482.5" x2="261.6" y2="486" stroke="#000" stroke-width="1.3"/>
<line x1="289.7" y1="482.5" x2="289.7" y2="486" stroke="#000" stroke-width="1.3"/>
<line x1="238.48" y1="482.5" x2="238.48" y2="484.5" stroke="#000" stroke-width="0.8"/>
<line x1="243.79" y1="482.5" x2="243.79" y2="484.5" stroke="#000" stroke-width="0.8"/>
<line x1="247.55" y1="482.5" x2="247.55" y2="484.5" stroke="#000" stroke-width="0.8"/>
<line x1="250.47" y1="482.5" x2="250.47" y2="484.5" stroke="#000" stroke-width="0.8"/>
<line x1="252.86" y1="482.5" x2="252.86" y2="484.5" stroke="#000" stroke-width="0.8"/>
<line x1="254.88" y1="482.5" x2="254.88" y2="484.5" stroke="#000" stroke-width="0.8"/>
<line x1="256.63" y1="482.5" x2="256.63" y2="484.5" stroke="#000" stroke-width="0.8"/>
<line x1="258.17" y1="482.5" x2="258.17" y2="484.5" stroke="#000" stroke-width="0.8"/>
<line x1="268.63" y1="482.5" x2="268.63" y2="484.5" stroke="#000" stroke-width="0.8"/>
<line x1="273.94" y1="482.5" x2="273.94" y2="484.5" stroke="#000" stroke-width="0.8"/>
<line x1="277.7" y1="482.5" x2="277.7" y2="484.5" stroke="#000" stroke-width="0.8"/>
<line x1="280.62" y1="482.5" x2="280.62" y2="484.5" stroke="#000" stroke-width="0.8"/>
<line x1="283.01" y1="482.5" x2="283.01" y2="484.5" stroke="#000" stroke-width="0.8"/>
<line x1="285.03" y1="482.5" x2="285.03" y2="484.5" stroke="#000" stroke-width="0.8"/>
<line x1="286.78" y1="482.5" x2="286.78" y2="484.5" stroke="#000" stroke-width="0.8"/>
<line x1="288.32" y1="482.5" x2="288.32" y2="484.5" stroke="#000" stroke-width="0.8"/>
<line x1="192.46" y1="482.5" x2="192.46" y2="484.5" stroke="#000" stroke-width="0.7"/>
<line x1="194.93" y1="482.5" x2="194.93" y2="484.5" stroke="#000" stroke-width="0.7"/>
<line x1="197.39" y1="482.5" x2="197.39" y2="484.5" stroke="#000" stroke-width="0.7"/>
<line x1="199.85" y1="482.5" x2="199.85" y2="484.5" stroke="#000" stroke-width="0.7"/>
<line x1="202.31" y1="482.5" x2="202.31" y2="484.5" stroke="#000" stroke-width="0.7"/>
<line x1="204.78" y1="482.5" x2="204.78" y2="484.5" stroke="#000" stroke-width="0.7"/>
<line x1="207.24" y1="482.5" x2="207.24" y2="484.5" stroke="#000" stroke-width="0.7"/>
<line x1="209.7" y1="482.5" x2="209.7" y2="484.5" stroke="#000" stroke-width="0.7"/>
<line x1="212.16" y1="482.5" x2="212.16" y2="484.5" stroke="#000" stroke-width="0.7"/>
<line x1="214.62" y1="482.5" x2="214.62" y2="484.5" stroke="#000" stroke-width="0.7"/>
<line x1="217.09" y1="482.5" x2="217.09" y2="484.5" stroke="#000" stroke-width="0.7"/>
<line x1="219.55" y1="482.5" x2="219.55" y2="484.5" stroke="#000" stroke-width="0.7"/>
<line x1="222.01" y1="482.5" x2="222.01" y2="484.5" stroke="#000" stroke-width="0.7"/>
<line x1="224.47" y1="482.5" x2="224.47" y2="484.5" stroke="#000" stroke-width="0.7"/>
<line x1="226.94" y1="482.5" x2="226.94" y2="484.5" stroke="#000" stroke-width="0.7"/>
<rect x="206.8" y="483.1" width="6" height="2.4" fill="#111"/>
<text x="189.5" y="500.9" font-size="10.6" text-anchor="middle" fill="#000" font-weight="normal" font-style="normal">−10<tspan dy="-4.5" font-size="8.1">3</tspan></text>
<text x="209.8" y="500.9" font-size="10.6" text-anchor="middle" fill="#000" font-weight="normal" font-style="normal">0</text>
<text x="230.9" y="500.9" font-size="10.6" text-anchor="middle" fill="#000" font-weight="normal" font-style="normal">10<tspan dy="-4.5" font-size="8.1">3</tspan></text>
<text x="263.1" y="500.9" font-size="10.6" text-anchor="middle" fill="#000" font-weight="normal" font-style="normal">10<tspan dy="-4.5" font-size="8.1">4</tspan></text>
<text x="291.2" y="500.9" font-size="10.6" text-anchor="middle" fill="#000" font-weight="normal" font-style="normal">10<tspan dy="-4.5" font-size="8.1">5</tspan></text>
<text x="56.8" y="522.3" font-size="11" text-anchor="start" fill="#000" font-weight="normal" font-style="normal">3 months</text>
<rect x="55.5" y="526.7" width="119" height="119" fill="none" stroke="#000" stroke-width="1.6"/>
<line x1="50.5" y1="537.3" x2="55.5" y2="537.3" stroke="#000" stroke-width="1.3"/>
<line x1="50.5" y1="565.5" x2="55.5" y2="565.5" stroke="#000" stroke-width="1.3"/>
<line x1="50.5" y1="597.7" x2="55.5" y2="597.7" stroke="#000" stroke-width="1.3"/>
<line x1="50.5" y1="616.3" x2="55.5" y2="616.3" stroke="#000" stroke-width="1.3"/>
<line x1="50.5" y1="636.9" x2="55.5" y2="636.9" stroke="#000" stroke-width="1.3"/>
<line x1="53.3" y1="588.61" x2="55.5" y2="588.61" stroke="#000" stroke-width="0.8"/>
<line x1="53.3" y1="583.29" x2="55.5" y2="583.29" stroke="#000" stroke-width="0.8"/>
<line x1="53.3" y1="579.52" x2="55.5" y2="579.52" stroke="#000" stroke-width="0.8"/>
<line x1="53.3" y1="576.59" x2="55.5" y2="576.59" stroke="#000" stroke-width="0.8"/>
<line x1="53.3" y1="574.2" x2="55.5" y2="574.2" stroke="#000" stroke-width="0.8"/>
<line x1="53.3" y1="572.18" x2="55.5" y2="572.18" stroke="#000" stroke-width="0.8"/>
<line x1="53.3" y1="570.43" x2="55.5" y2="570.43" stroke="#000" stroke-width="0.8"/>
<line x1="53.3" y1="568.88" x2="55.5" y2="568.88" stroke="#000" stroke-width="0.8"/>
<line x1="53.3" y1="558.41" x2="55.5" y2="558.41" stroke="#000" stroke-width="0.8"/>
<line x1="53.3" y1="553.09" x2="55.5" y2="553.09" stroke="#000" stroke-width="0.8"/>
<line x1="53.3" y1="549.32" x2="55.5" y2="549.32" stroke="#000" stroke-width="0.8"/>
<line x1="53.3" y1="546.39" x2="55.5" y2="546.39" stroke="#000" stroke-width="0.8"/>
<line x1="53.3" y1="544" x2="55.5" y2="544" stroke="#000" stroke-width="0.8"/>
<line x1="53.3" y1="541.98" x2="55.5" y2="541.98" stroke="#000" stroke-width="0.8"/>
<line x1="53.3" y1="540.23" x2="55.5" y2="540.23" stroke="#000" stroke-width="0.8"/>
<line x1="53.3" y1="538.68" x2="55.5" y2="538.68" stroke="#000" stroke-width="0.8"/>
<line x1="53.3" y1="600.15" x2="55.5" y2="600.15" stroke="#000" stroke-width="0.7"/>
<line x1="53.3" y1="602.6" x2="55.5" y2="602.6" stroke="#000" stroke-width="0.7"/>
<line x1="53.3" y1="605.05" x2="55.5" y2="605.05" stroke="#000" stroke-width="0.7"/>
<line x1="53.3" y1="607.5" x2="55.5" y2="607.5" stroke="#000" stroke-width="0.7"/>
<line x1="53.3" y1="609.95" x2="55.5" y2="609.95" stroke="#000" stroke-width="0.7"/>
<line x1="53.3" y1="612.4" x2="55.5" y2="612.4" stroke="#000" stroke-width="0.7"/>
<line x1="53.3" y1="614.85" x2="55.5" y2="614.85" stroke="#000" stroke-width="0.7"/>
<line x1="53.3" y1="617.3" x2="55.5" y2="617.3" stroke="#000" stroke-width="0.7"/>
<line x1="53.3" y1="619.75" x2="55.5" y2="619.75" stroke="#000" stroke-width="0.7"/>
<line x1="53.3" y1="622.2" x2="55.5" y2="622.2" stroke="#000" stroke-width="0.7"/>
<line x1="53.3" y1="624.65" x2="55.5" y2="624.65" stroke="#000" stroke-width="0.7"/>
<line x1="53.3" y1="627.1" x2="55.5" y2="627.1" stroke="#000" stroke-width="0.7"/>
<line x1="53.3" y1="629.55" x2="55.5" y2="629.55" stroke="#000" stroke-width="0.7"/>
<line x1="53.3" y1="632" x2="55.5" y2="632" stroke="#000" stroke-width="0.7"/>
<line x1="53.3" y1="634.45" x2="55.5" y2="634.45" stroke="#000" stroke-width="0.7"/>
<rect x="51.2" y="613.7" width="3.8" height="6.6" fill="#111"/>
<line x1="62.1" y1="645.7" x2="62.1" y2="649.2" stroke="#000" stroke-width="1.3"/>
<line x1="81.9" y1="645.7" x2="81.9" y2="649.2" stroke="#000" stroke-width="1.3"/>
<line x1="101.5" y1="645.7" x2="101.5" y2="649.2" stroke="#000" stroke-width="1.3"/>
<line x1="133.7" y1="645.7" x2="133.7" y2="649.2" stroke="#000" stroke-width="1.3"/>
<line x1="161.8" y1="645.7" x2="161.8" y2="649.2" stroke="#000" stroke-width="1.3"/>
<line x1="110.58" y1="645.7" x2="110.58" y2="647.7" stroke="#000" stroke-width="0.8"/>
<line x1="115.89" y1="645.7" x2="115.89" y2="647.7" stroke="#000" stroke-width="0.8"/>
<line x1="119.65" y1="645.7" x2="119.65" y2="647.7" stroke="#000" stroke-width="0.8"/>
<line x1="122.57" y1="645.7" x2="122.57" y2="647.7" stroke="#000" stroke-width="0.8"/>
<line x1="124.96" y1="645.7" x2="124.96" y2="647.7" stroke="#000" stroke-width="0.8"/>
<line x1="126.98" y1="645.7" x2="126.98" y2="647.7" stroke="#000" stroke-width="0.8"/>
<line x1="128.73" y1="645.7" x2="128.73" y2="647.7" stroke="#000" stroke-width="0.8"/>
<line x1="130.27" y1="645.7" x2="130.27" y2="647.7" stroke="#000" stroke-width="0.8"/>
<line x1="140.73" y1="645.7" x2="140.73" y2="647.7" stroke="#000" stroke-width="0.8"/>
<line x1="146.04" y1="645.7" x2="146.04" y2="647.7" stroke="#000" stroke-width="0.8"/>
<line x1="149.8" y1="645.7" x2="149.8" y2="647.7" stroke="#000" stroke-width="0.8"/>
<line x1="152.72" y1="645.7" x2="152.72" y2="647.7" stroke="#000" stroke-width="0.8"/>
<line x1="155.11" y1="645.7" x2="155.11" y2="647.7" stroke="#000" stroke-width="0.8"/>
<line x1="157.13" y1="645.7" x2="157.13" y2="647.7" stroke="#000" stroke-width="0.8"/>
<line x1="158.88" y1="645.7" x2="158.88" y2="647.7" stroke="#000" stroke-width="0.8"/>
<line x1="160.42" y1="645.7" x2="160.42" y2="647.7" stroke="#000" stroke-width="0.8"/>
<line x1="64.56" y1="645.7" x2="64.56" y2="647.7" stroke="#000" stroke-width="0.7"/>
<line x1="67.03" y1="645.7" x2="67.03" y2="647.7" stroke="#000" stroke-width="0.7"/>
<line x1="69.49" y1="645.7" x2="69.49" y2="647.7" stroke="#000" stroke-width="0.7"/>
<line x1="71.95" y1="645.7" x2="71.95" y2="647.7" stroke="#000" stroke-width="0.7"/>
<line x1="74.41" y1="645.7" x2="74.41" y2="647.7" stroke="#000" stroke-width="0.7"/>
<line x1="76.88" y1="645.7" x2="76.88" y2="647.7" stroke="#000" stroke-width="0.7"/>
<line x1="79.34" y1="645.7" x2="79.34" y2="647.7" stroke="#000" stroke-width="0.7"/>
<line x1="81.8" y1="645.7" x2="81.8" y2="647.7" stroke="#000" stroke-width="0.7"/>
<line x1="84.26" y1="645.7" x2="84.26" y2="647.7" stroke="#000" stroke-width="0.7"/>
<line x1="86.72" y1="645.7" x2="86.72" y2="647.7" stroke="#000" stroke-width="0.7"/>
<line x1="89.19" y1="645.7" x2="89.19" y2="647.7" stroke="#000" stroke-width="0.7"/>
<line x1="91.65" y1="645.7" x2="91.65" y2="647.7" stroke="#000" stroke-width="0.7"/>
<line x1="94.11" y1="645.7" x2="94.11" y2="647.7" stroke="#000" stroke-width="0.7"/>
<line x1="96.58" y1="645.7" x2="96.58" y2="647.7" stroke="#000" stroke-width="0.7"/>
<line x1="99.04" y1="645.7" x2="99.04" y2="647.7" stroke="#000" stroke-width="0.7"/>
<rect x="78.9" y="646.3" width="6" height="2.4" fill="#111"/>
<text x="61.6" y="664.1" font-size="10.6" text-anchor="middle" fill="#000" font-weight="normal" font-style="normal">−10<tspan dy="-4.5" font-size="8.1">3</tspan></text>
<text x="81.9" y="664.1" font-size="10.6" text-anchor="middle" fill="#000" font-weight="normal" font-style="normal">0</text>
<text x="103" y="664.1" font-size="10.6" text-anchor="middle" fill="#000" font-weight="normal" font-style="normal">10<tspan dy="-4.5" font-size="8.1">3</tspan></text>
<text x="135.2" y="664.1" font-size="10.6" text-anchor="middle" fill="#000" font-weight="normal" font-style="normal">10<tspan dy="-4.5" font-size="8.1">4</tspan></text>
<text x="163.3" y="664.1" font-size="10.6" text-anchor="middle" fill="#000" font-weight="normal" font-style="normal">10<tspan dy="-4.5" font-size="8.1">5</tspan></text>
<text x="45.9" y="543.5" font-size="10.8" text-anchor="end" fill="#000" font-weight="normal" font-style="normal">10<tspan dy="-4.5" font-size="8.1">5</tspan></text>
<text x="45.9" y="570.5" font-size="10.8" text-anchor="end" fill="#000" font-weight="normal" font-style="normal">10<tspan dy="-4.5" font-size="8.1">4</tspan></text>
<text x="45.9" y="603.7" font-size="10.8" text-anchor="end" fill="#000" font-weight="normal" font-style="normal">10<tspan dy="-4.5" font-size="8.1">3</tspan></text>
<text x="45.9" y="621.1" font-size="10.8" text-anchor="end" fill="#000" font-weight="normal" font-style="normal">0</text>
<text x="45.9" y="642.9" font-size="10.8" text-anchor="end" fill="#000" font-weight="normal" font-style="normal">−10<tspan dy="-4.5" font-size="8.1">3</tspan></text>
<rect x="183.4" y="526.7" width="119" height="119" fill="none" stroke="#000" stroke-width="1.6"/>
<line x1="178.4" y1="537.3" x2="183.4" y2="537.3" stroke="#000" stroke-width="1.3"/>
<line x1="178.4" y1="565.5" x2="183.4" y2="565.5" stroke="#000" stroke-width="1.3"/>
<line x1="178.4" y1="597.7" x2="183.4" y2="597.7" stroke="#000" stroke-width="1.3"/>
<line x1="178.4" y1="616.3" x2="183.4" y2="616.3" stroke="#000" stroke-width="1.3"/>
<line x1="178.4" y1="636.9" x2="183.4" y2="636.9" stroke="#000" stroke-width="1.3"/>
<line x1="181.2" y1="588.61" x2="183.4" y2="588.61" stroke="#000" stroke-width="0.8"/>
<line x1="181.2" y1="583.29" x2="183.4" y2="583.29" stroke="#000" stroke-width="0.8"/>
<line x1="181.2" y1="579.52" x2="183.4" y2="579.52" stroke="#000" stroke-width="0.8"/>
<line x1="181.2" y1="576.59" x2="183.4" y2="576.59" stroke="#000" stroke-width="0.8"/>
<line x1="181.2" y1="574.2" x2="183.4" y2="574.2" stroke="#000" stroke-width="0.8"/>
<line x1="181.2" y1="572.18" x2="183.4" y2="572.18" stroke="#000" stroke-width="0.8"/>
<line x1="181.2" y1="570.43" x2="183.4" y2="570.43" stroke="#000" stroke-width="0.8"/>
<line x1="181.2" y1="568.88" x2="183.4" y2="568.88" stroke="#000" stroke-width="0.8"/>
<line x1="181.2" y1="558.41" x2="183.4" y2="558.41" stroke="#000" stroke-width="0.8"/>
<line x1="181.2" y1="553.09" x2="183.4" y2="553.09" stroke="#000" stroke-width="0.8"/>
<line x1="181.2" y1="549.32" x2="183.4" y2="549.32" stroke="#000" stroke-width="0.8"/>
<line x1="181.2" y1="546.39" x2="183.4" y2="546.39" stroke="#000" stroke-width="0.8"/>
<line x1="181.2" y1="544" x2="183.4" y2="544" stroke="#000" stroke-width="0.8"/>
<line x1="181.2" y1="541.98" x2="183.4" y2="541.98" stroke="#000" stroke-width="0.8"/>
<line x1="181.2" y1="540.23" x2="183.4" y2="540.23" stroke="#000" stroke-width="0.8"/>
<line x1="181.2" y1="538.68" x2="183.4" y2="538.68" stroke="#000" stroke-width="0.8"/>
<line x1="181.2" y1="600.15" x2="183.4" y2="600.15" stroke="#000" stroke-width="0.7"/>
<line x1="181.2" y1="602.6" x2="183.4" y2="602.6" stroke="#000" stroke-width="0.7"/>
<line x1="181.2" y1="605.05" x2="183.4" y2="605.05" stroke="#000" stroke-width="0.7"/>
<line x1="181.2" y1="607.5" x2="183.4" y2="607.5" stroke="#000" stroke-width="0.7"/>
<line x1="181.2" y1="609.95" x2="183.4" y2="609.95" stroke="#000" stroke-width="0.7"/>
<line x1="181.2" y1="612.4" x2="183.4" y2="612.4" stroke="#000" stroke-width="0.7"/>
<line x1="181.2" y1="614.85" x2="183.4" y2="614.85" stroke="#000" stroke-width="0.7"/>
<line x1="181.2" y1="617.3" x2="183.4" y2="617.3" stroke="#000" stroke-width="0.7"/>
<line x1="181.2" y1="619.75" x2="183.4" y2="619.75" stroke="#000" stroke-width="0.7"/>
<line x1="181.2" y1="622.2" x2="183.4" y2="622.2" stroke="#000" stroke-width="0.7"/>
<line x1="181.2" y1="624.65" x2="183.4" y2="624.65" stroke="#000" stroke-width="0.7"/>
<line x1="181.2" y1="627.1" x2="183.4" y2="627.1" stroke="#000" stroke-width="0.7"/>
<line x1="181.2" y1="629.55" x2="183.4" y2="629.55" stroke="#000" stroke-width="0.7"/>
<line x1="181.2" y1="632" x2="183.4" y2="632" stroke="#000" stroke-width="0.7"/>
<line x1="181.2" y1="634.45" x2="183.4" y2="634.45" stroke="#000" stroke-width="0.7"/>
<rect x="179.1" y="613.7" width="3.8" height="6.6" fill="#111"/>
<line x1="190" y1="645.7" x2="190" y2="649.2" stroke="#000" stroke-width="1.3"/>
<line x1="209.8" y1="645.7" x2="209.8" y2="649.2" stroke="#000" stroke-width="1.3"/>
<line x1="229.4" y1="645.7" x2="229.4" y2="649.2" stroke="#000" stroke-width="1.3"/>
<line x1="261.6" y1="645.7" x2="261.6" y2="649.2" stroke="#000" stroke-width="1.3"/>
<line x1="289.7" y1="645.7" x2="289.7" y2="649.2" stroke="#000" stroke-width="1.3"/>
<line x1="238.48" y1="645.7" x2="238.48" y2="647.7" stroke="#000" stroke-width="0.8"/>
<line x1="243.79" y1="645.7" x2="243.79" y2="647.7" stroke="#000" stroke-width="0.8"/>
<line x1="247.55" y1="645.7" x2="247.55" y2="647.7" stroke="#000" stroke-width="0.8"/>
<line x1="250.47" y1="645.7" x2="250.47" y2="647.7" stroke="#000" stroke-width="0.8"/>
<line x1="252.86" y1="645.7" x2="252.86" y2="647.7" stroke="#000" stroke-width="0.8"/>
<line x1="254.88" y1="645.7" x2="254.88" y2="647.7" stroke="#000" stroke-width="0.8"/>
<line x1="256.63" y1="645.7" x2="256.63" y2="647.7" stroke="#000" stroke-width="0.8"/>
<line x1="258.17" y1="645.7" x2="258.17" y2="647.7" stroke="#000" stroke-width="0.8"/>
<line x1="268.63" y1="645.7" x2="268.63" y2="647.7" stroke="#000" stroke-width="0.8"/>
<line x1="273.94" y1="645.7" x2="273.94" y2="647.7" stroke="#000" stroke-width="0.8"/>
<line x1="277.7" y1="645.7" x2="277.7" y2="647.7" stroke="#000" stroke-width="0.8"/>
<line x1="280.62" y1="645.7" x2="280.62" y2="647.7" stroke="#000" stroke-width="0.8"/>
<line x1="283.01" y1="645.7" x2="283.01" y2="647.7" stroke="#000" stroke-width="0.8"/>
<line x1="285.03" y1="645.7" x2="285.03" y2="647.7" stroke="#000" stroke-width="0.8"/>
<line x1="286.78" y1="645.7" x2="286.78" y2="647.7" stroke="#000" stroke-width="0.8"/>
<line x1="288.32" y1="645.7" x2="288.32" y2="647.7" stroke="#000" stroke-width="0.8"/>
<line x1="192.46" y1="645.7" x2="192.46" y2="647.7" stroke="#000" stroke-width="0.7"/>
<line x1="194.93" y1="645.7" x2="194.93" y2="647.7" stroke="#000" stroke-width="0.7"/>
<line x1="197.39" y1="645.7" x2="197.39" y2="647.7" stroke="#000" stroke-width="0.7"/>
<line x1="199.85" y1="645.7" x2="199.85" y2="647.7" stroke="#000" stroke-width="0.7"/>
<line x1="202.31" y1="645.7" x2="202.31" y2="647.7" stroke="#000" stroke-width="0.7"/>
<line x1="204.78" y1="645.7" x2="204.78" y2="647.7" stroke="#000" stroke-width="0.7"/>
<line x1="207.24" y1="645.7" x2="207.24" y2="647.7" stroke="#000" stroke-width="0.7"/>
<line x1="209.7" y1="645.7" x2="209.7" y2="647.7" stroke="#000" stroke-width="0.7"/>
<line x1="212.16" y1="645.7" x2="212.16" y2="647.7" stroke="#000" stroke-width="0.7"/>
<line x1="214.62" y1="645.7" x2="214.62" y2="647.7" stroke="#000" stroke-width="0.7"/>
<line x1="217.09" y1="645.7" x2="217.09" y2="647.7" stroke="#000" stroke-width="0.7"/>
<line x1="219.55" y1="645.7" x2="219.55" y2="647.7" stroke="#000" stroke-width="0.7"/>
<line x1="222.01" y1="645.7" x2="222.01" y2="647.7" stroke="#000" stroke-width="0.7"/>
<line x1="224.47" y1="645.7" x2="224.47" y2="647.7" stroke="#000" stroke-width="0.7"/>
<line x1="226.94" y1="645.7" x2="226.94" y2="647.7" stroke="#000" stroke-width="0.7"/>
<rect x="206.8" y="646.3" width="6" height="2.4" fill="#111"/>
<text x="189.5" y="664.1" font-size="10.6" text-anchor="middle" fill="#000" font-weight="normal" font-style="normal">−10<tspan dy="-4.5" font-size="8.1">3</tspan></text>
<text x="209.8" y="664.1" font-size="10.6" text-anchor="middle" fill="#000" font-weight="normal" font-style="normal">0</text>
<text x="230.9" y="664.1" font-size="10.6" text-anchor="middle" fill="#000" font-weight="normal" font-style="normal">10<tspan dy="-4.5" font-size="8.1">3</tspan></text>
<text x="263.1" y="664.1" font-size="10.6" text-anchor="middle" fill="#000" font-weight="normal" font-style="normal">10<tspan dy="-4.5" font-size="8.1">4</tspan></text>
<text x="291.2" y="664.1" font-size="10.6" text-anchor="middle" fill="#000" font-weight="normal" font-style="normal">10<tspan dy="-4.5" font-size="8.1">5</tspan></text>
<line x1="379.3" y1="36.5" x2="379.3" y2="157.2" stroke="#000" stroke-width="1.4"/>
<line x1="378.6" y1="156.6" x2="498.8" y2="156.6" stroke="#000" stroke-width="1.4"/>
<line x1="375.7" y1="156.6" x2="379.3" y2="156.6" stroke="#000" stroke-width="1.2"/>
<text x="370.5" y="160.4" font-size="10.6" text-anchor="end" fill="#000" font-weight="normal" font-style="normal">0</text>
<line x1="375.7" y1="132.7" x2="379.3" y2="132.7" stroke="#000" stroke-width="1.2"/>
<text x="370.5" y="136.5" font-size="10.6" text-anchor="end" fill="#000" font-weight="normal" font-style="normal">20</text>
<line x1="375.7" y1="108.8" x2="379.3" y2="108.8" stroke="#000" stroke-width="1.2"/>
<text x="370.5" y="112.6" font-size="10.6" text-anchor="end" fill="#000" font-weight="normal" font-style="normal">40</text>
<line x1="375.7" y1="84.9" x2="379.3" y2="84.9" stroke="#000" stroke-width="1.2"/>
<text x="370.5" y="88.7" font-size="10.6" text-anchor="end" fill="#000" font-weight="normal" font-style="normal">60</text>
<line x1="375.7" y1="61" x2="379.3" y2="61" stroke="#000" stroke-width="1.2"/>
<text x="370.5" y="64.8" font-size="10.6" text-anchor="end" fill="#000" font-weight="normal" font-style="normal">80</text>
<line x1="375.7" y1="37.1" x2="379.3" y2="37.1" stroke="#000" stroke-width="1.2"/>
<text x="370.5" y="40.9" font-size="10.6" text-anchor="end" fill="#000" font-weight="normal" font-style="normal">100</text>
<rect x="397.25" y="105.35" width="31.8" height="51.25" fill="#e1e1e1" stroke="#a2a2a2" stroke-width="1.9"/>
<rect x="448.95" y="119.35" width="31.1" height="37.25" fill="#e1e1e1" stroke="#a2a2a2" stroke-width="1.9"/>
<g stroke="#999" stroke-width="1">
<line x1="413.15" y1="100.1" x2="413.15" y2="106.7" stroke="#7e7e7e" stroke-width="1.1"/>
<line x1="404.75" y1="100.1" x2="421.55" y2="100.1" stroke="#999" stroke-width="1"/>
<line x1="404.75" y1="106.7" x2="421.55" y2="106.7" stroke="#999" stroke-width="1"/>
</g>
<circle cx="413.1" cy="98.4" r="2.6" fill="#5c5c5c"/>
<circle cx="416.9" cy="103.9" r="2.6" fill="#5c5c5c"/>
<circle cx="409.3" cy="110.1" r="2.6" fill="#5c5c5c"/>
<g stroke="#999" stroke-width="1">
<line x1="464.5" y1="112.5" x2="464.5" y2="124" stroke="#7e7e7e" stroke-width="1.1"/>
<line x1="456.1" y1="112.5" x2="472.9" y2="112.5" stroke="#999" stroke-width="1"/>
<line x1="456.1" y1="124" x2="472.9" y2="124" stroke="#999" stroke-width="1"/>
</g>
<polygon points="464.2,106 461.2,111.5 467.2,111.5" fill="#000"/>
<polygon points="464.2,113.4 461.2,118.9 467.2,118.9" fill="#000"/>
<polygon points="464.2,124.9 461.2,130.4 467.2,130.4" fill="#000"/>
<text x="343.8" y="97.35" font-size="11.3" text-anchor="middle" fill="#2323e6" font-weight="normal" font-style="normal" transform="rotate(-90 343.8 97.35)">F4/80<tspan dy="-3.9" font-size="8.5">Int</tspan><tspan dy="3.9"> (%)</tspan></text>
<text x="413.15" y="172.8" font-size="11" text-anchor="middle" fill="#000" font-weight="normal" font-style="normal">WT</text>
<text x="466.5" y="172.8" font-size="11" text-anchor="middle" fill="#000" font-weight="normal" font-style="italic"><tspan font-size="11.5">Ccr2</tspan><tspan dy="-4.5" font-size="8">−/−</tspan></text>
<line x1="562.2" y1="37" x2="562.2" y2="157" stroke="#000" stroke-width="1.4"/>
<line x1="561.5" y1="156.4" x2="681.6" y2="156.4" stroke="#000" stroke-width="1.4"/>
<line x1="558.6" y1="156.4" x2="562.2" y2="156.4" stroke="#000" stroke-width="1.2"/>
<text x="553.4" y="160.2" font-size="10.6" text-anchor="end" fill="#000" font-weight="normal" font-style="normal">0</text>
<line x1="558.6" y1="132.64" x2="562.2" y2="132.64" stroke="#000" stroke-width="1.2"/>
<text x="553.4" y="136.44" font-size="10.6" text-anchor="end" fill="#000" font-weight="normal" font-style="normal">20</text>
<line x1="558.6" y1="108.88" x2="562.2" y2="108.88" stroke="#000" stroke-width="1.2"/>
<text x="553.4" y="112.68" font-size="10.6" text-anchor="end" fill="#000" font-weight="normal" font-style="normal">40</text>
<line x1="558.6" y1="85.12" x2="562.2" y2="85.12" stroke="#000" stroke-width="1.2"/>
<text x="553.4" y="88.92" font-size="10.6" text-anchor="end" fill="#000" font-weight="normal" font-style="normal">60</text>
<line x1="558.6" y1="61.36" x2="562.2" y2="61.36" stroke="#000" stroke-width="1.2"/>
<text x="553.4" y="65.16" font-size="10.6" text-anchor="end" fill="#000" font-weight="normal" font-style="normal">80</text>
<line x1="558.6" y1="37.6" x2="562.2" y2="37.6" stroke="#000" stroke-width="1.2"/>
<text x="553.4" y="41.4" font-size="10.6" text-anchor="end" fill="#000" font-weight="normal" font-style="normal">100</text>
<rect x="580.65" y="132.25" width="31.4" height="24.15" fill="#e1e1e1" stroke="#a2a2a2" stroke-width="1.9"/>
<rect x="632.45" y="141.65" width="30.9" height="14.75" fill="#e1e1e1" stroke="#a2a2a2" stroke-width="1.9"/>
<g stroke="#999" stroke-width="1">
<line x1="596.35" y1="126.1" x2="596.35" y2="135.6" stroke="#7e7e7e" stroke-width="1.1"/>
<line x1="587.95" y1="126.1" x2="604.75" y2="126.1" stroke="#999" stroke-width="1"/>
<line x1="587.95" y1="135.6" x2="604.75" y2="135.6" stroke="#999" stroke-width="1"/>
</g>
<circle cx="596.4" cy="122.1" r="2.6" fill="#5c5c5c"/>
<circle cx="600.5" cy="132.1" r="2.6" fill="#5c5c5c"/>
<circle cx="592.6" cy="137.5" r="2.6" fill="#5c5c5c"/>
<g stroke="#999" stroke-width="1">
<line x1="647.9" y1="135.6" x2="647.9" y2="145" stroke="#7e7e7e" stroke-width="1.1"/>
<line x1="639.5" y1="135.6" x2="656.3" y2="135.6" stroke="#999" stroke-width="1"/>
<line x1="639.5" y1="145" x2="656.3" y2="145" stroke="#999" stroke-width="1"/>
</g>
<polygon points="647.4,127.4 644.4,132.9 650.4,132.9" fill="#000"/>
<polygon points="651.2,139.6 648.2,145.1 654.2,145.1" fill="#000"/>
<polygon points="643.9,145 640.9,150.5 646.9,150.5" fill="#000"/>
<text x="528.6" y="98.8" font-size="11.3" text-anchor="middle" fill="#e8282d" font-weight="normal" font-style="normal" transform="rotate(-90 528.6 98.8)">F4/80<tspan dy="-3.9" font-size="8.5">Hi</tspan><tspan dy="3.9"> (%)</tspan></text>
<text x="596.35" y="172.6" font-size="11" text-anchor="middle" fill="#000" font-weight="normal" font-style="normal">WT</text>
<text x="649.9" y="172.6" font-size="11" text-anchor="middle" fill="#000" font-weight="normal" font-style="italic"><tspan font-size="11.5">Ccr2</tspan><tspan dy="-4.5" font-size="8">−/−</tspan></text>
<line x1="379.3" y1="200.2" x2="379.3" y2="320.4" stroke="#000" stroke-width="1.4"/>
<line x1="378.6" y1="319.8" x2="498.8" y2="319.8" stroke="#000" stroke-width="1.4"/>
<line x1="375.7" y1="319.8" x2="379.3" y2="319.8" stroke="#000" stroke-width="1.2"/>
<text x="370.5" y="323.6" font-size="10.6" text-anchor="end" fill="#000" font-weight="normal" font-style="normal">0</text>
<line x1="375.7" y1="296" x2="379.3" y2="296" stroke="#000" stroke-width="1.2"/>
<text x="370.5" y="299.8" font-size="10.6" text-anchor="end" fill="#000" font-weight="normal" font-style="normal">20</text>
<line x1="375.7" y1="272.2" x2="379.3" y2="272.2" stroke="#000" stroke-width="1.2"/>
<text x="370.5" y="276" font-size="10.6" text-anchor="end" fill="#000" font-weight="normal" font-style="normal">40</text>
<line x1="375.7" y1="248.4" x2="379.3" y2="248.4" stroke="#000" stroke-width="1.2"/>
<text x="370.5" y="252.2" font-size="10.6" text-anchor="end" fill="#000" font-weight="normal" font-style="normal">60</text>
<line x1="375.7" y1="224.6" x2="379.3" y2="224.6" stroke="#000" stroke-width="1.2"/>
<text x="370.5" y="228.4" font-size="10.6" text-anchor="end" fill="#000" font-weight="normal" font-style="normal">80</text>
<line x1="375.7" y1="200.8" x2="379.3" y2="200.8" stroke="#000" stroke-width="1.2"/>
<text x="370.5" y="204.6" font-size="10.6" text-anchor="end" fill="#000" font-weight="normal" font-style="normal">100</text>
<rect x="397.25" y="254.75" width="31.8" height="65.05" fill="#e1e1e1" stroke="#a2a2a2" stroke-width="1.9"/>
<rect x="448.95" y="295.55" width="31.1" height="24.25" fill="#e1e1e1" stroke="#a2a2a2" stroke-width="1.9"/>
<g stroke="#999" stroke-width="1">
<line x1="413.15" y1="241.5" x2="413.15" y2="265.1" stroke="#7e7e7e" stroke-width="1.1"/>
<line x1="404.75" y1="241.5" x2="421.55" y2="241.5" stroke="#999" stroke-width="1"/>
<line x1="404.75" y1="265.1" x2="421.55" y2="265.1" stroke="#999" stroke-width="1"/>
</g>
<circle cx="413.3" cy="232.8" r="2.6" fill="#5c5c5c"/>
<circle cx="413.3" cy="253.3" r="2.6" fill="#5c5c5c"/>
<circle cx="413.3" cy="273.8" r="2.6" fill="#5c5c5c"/>
<g stroke="#999" stroke-width="1">
<line x1="464.5" y1="291.4" x2="464.5" y2="296.1" stroke="#7e7e7e" stroke-width="1.1"/>
<line x1="456.1" y1="291.4" x2="472.9" y2="291.4" stroke="#999" stroke-width="1"/>
<line x1="456.1" y1="296.1" x2="472.9" y2="296.1" stroke="#999" stroke-width="1"/>
</g>
<polygon points="453.5,284.2 450.5,289.7 456.5,289.7" fill="#000"/>
<polygon points="461.1,287.3 458.1,292.8 464.1,292.8" fill="#000"/>
<polygon points="475.8,285 472.8,290.5 478.8,290.5" fill="#000"/>
<polygon points="457.2,294.2 454.2,299.7 460.2,299.7" fill="#000"/>
<polygon points="468.4,289.4 465.4,294.9 471.4,294.9" fill="#000"/>
<polygon points="471.9,296.8 468.9,302.3 474.9,302.3" fill="#000"/>
<polygon points="464.5,300.5 461.5,306 467.5,306" fill="#000"/>
<text x="343.8" y="260.8" font-size="11.3" text-anchor="middle" fill="#000" font-weight="normal" font-style="normal" transform="rotate(-90 343.8 260.8)">F4/80<tspan dy="-3.9" font-size="8.5">Int</tspan><tspan dy="3.9"> (%)</tspan></text>
<text x="413.15" y="336" font-size="11" text-anchor="middle" fill="#000" font-weight="normal" font-style="normal">WT</text>
<text x="466.5" y="336" font-size="11" text-anchor="middle" fill="#000" font-weight="normal" font-style="italic"><tspan font-size="11.5">Ccr2</tspan><tspan dy="-4.5" font-size="8">−/−</tspan></text>
<polygon points="437.5,206.7 438.29,208.51 440.26,208.7 438.78,210.02 439.2,211.95 437.5,210.95 435.8,211.95 436.22,210.02 434.74,208.7 436.71,208.51" fill="#000"/>
<line x1="562.2" y1="199.3" x2="562.2" y2="319.3" stroke="#000" stroke-width="1.4"/>
<line x1="561.5" y1="318.7" x2="681.6" y2="318.7" stroke="#000" stroke-width="1.4"/>
<line x1="558.6" y1="318.7" x2="562.2" y2="318.7" stroke="#000" stroke-width="1.2"/>
<text x="553.4" y="322.5" font-size="10.6" text-anchor="end" fill="#000" font-weight="normal" font-style="normal">0</text>
<line x1="558.6" y1="294.94" x2="562.2" y2="294.94" stroke="#000" stroke-width="1.2"/>
<text x="553.4" y="298.74" font-size="10.6" text-anchor="end" fill="#000" font-weight="normal" font-style="normal">20</text>
<line x1="558.6" y1="271.18" x2="562.2" y2="271.18" stroke="#000" stroke-width="1.2"/>
<text x="553.4" y="274.98" font-size="10.6" text-anchor="end" fill="#000" font-weight="normal" font-style="normal">40</text>
<line x1="558.6" y1="247.42" x2="562.2" y2="247.42" stroke="#000" stroke-width="1.2"/>
<text x="553.4" y="251.22" font-size="10.6" text-anchor="end" fill="#000" font-weight="normal" font-style="normal">60</text>
<line x1="558.6" y1="223.66" x2="562.2" y2="223.66" stroke="#000" stroke-width="1.2"/>
<text x="553.4" y="227.46" font-size="10.6" text-anchor="end" fill="#000" font-weight="normal" font-style="normal">80</text>
<line x1="558.6" y1="199.9" x2="562.2" y2="199.9" stroke="#000" stroke-width="1.2"/>
<text x="553.4" y="203.7" font-size="10.6" text-anchor="end" fill="#000" font-weight="normal" font-style="normal">100</text>
<rect x="580.65" y="281.25" width="31.4" height="37.45" fill="#e1e1e1" stroke="#a2a2a2" stroke-width="1.9"/>
<rect x="632.45" y="237.25" width="30.9" height="81.45" fill="#e1e1e1" stroke="#a2a2a2" stroke-width="1.9"/>
<g stroke="#999" stroke-width="1">
<line x1="596.35" y1="267.4" x2="596.35" y2="292.5" stroke="#7e7e7e" stroke-width="1.1"/>
<line x1="587.95" y1="267.4" x2="604.75" y2="267.4" stroke="#999" stroke-width="1"/>
<line x1="587.95" y1="292.5" x2="604.75" y2="292.5" stroke="#999" stroke-width="1"/>
</g>
<circle cx="596.1" cy="259.8" r="2.6" fill="#5c5c5c"/>
<circle cx="596.1" cy="276.8" r="2.6" fill="#5c5c5c"/>
<circle cx="596.1" cy="303.3" r="2.6" fill="#5c5c5c"/>
<g stroke="#999" stroke-width="1">
<line x1="647.9" y1="232.5" x2="647.9" y2="239.8" stroke="#7e7e7e" stroke-width="1.1"/>
<line x1="639.5" y1="232.5" x2="656.3" y2="232.5" stroke="#999" stroke-width="1"/>
<line x1="639.5" y1="239.8" x2="656.3" y2="239.8" stroke="#999" stroke-width="1"/>
</g>
<polygon points="643.9,224.4 640.9,229.9 646.9,229.9" fill="#000"/>
<polygon points="647.4,222.7 644.4,228.2 650.4,228.2" fill="#000"/>
<polygon points="650.4,231.7 647.4,237.2 653.4,237.2" fill="#000"/>
<polygon points="639.9,236.5 636.9,242 642.9,242" fill="#000"/>
<polygon points="654.2,239 651.2,244.5 657.2,244.5" fill="#000"/>
<polygon points="646.6,241.9 643.6,247.4 649.6,247.4" fill="#000"/>
<text x="528.6" y="261.1" font-size="11.3" text-anchor="middle" fill="#f08a24" font-weight="normal" font-style="normal" transform="rotate(-90 528.6 261.1)">F4/80<tspan dy="-3.9" font-size="8.5">Hi</tspan><tspan dy="3.9"> (%)</tspan></text>
<text x="596.35" y="334.9" font-size="11" text-anchor="middle" fill="#000" font-weight="normal" font-style="normal">WT</text>
<text x="649.9" y="334.9" font-size="11" text-anchor="middle" fill="#000" font-weight="normal" font-style="italic"><tspan font-size="11.5">Ccr2</tspan><tspan dy="-4.5" font-size="8">−/−</tspan></text>
<polygon points="619.6,205.9 620.39,207.71 622.36,207.9 620.88,209.22 621.3,211.15 619.6,210.15 617.9,211.15 618.32,209.22 616.84,207.9 618.81,207.71" fill="#000"/>
<line x1="379.3" y1="362.5" x2="379.3" y2="482.8" stroke="#000" stroke-width="1.4"/>
<line x1="378.6" y1="482.2" x2="498.8" y2="482.2" stroke="#000" stroke-width="1.4"/>
<line x1="375.7" y1="482.2" x2="379.3" y2="482.2" stroke="#000" stroke-width="1.2"/>
<text x="370.5" y="486" font-size="10.6" text-anchor="end" fill="#000" font-weight="normal" font-style="normal">0</text>
<line x1="375.7" y1="458.38" x2="379.3" y2="458.38" stroke="#000" stroke-width="1.2"/>
<text x="370.5" y="462.18" font-size="10.6" text-anchor="end" fill="#000" font-weight="normal" font-style="normal">20</text>
<line x1="375.7" y1="434.56" x2="379.3" y2="434.56" stroke="#000" stroke-width="1.2"/>
<text x="370.5" y="438.36" font-size="10.6" text-anchor="end" fill="#000" font-weight="normal" font-style="normal">40</text>
<line x1="375.7" y1="410.74" x2="379.3" y2="410.74" stroke="#000" stroke-width="1.2"/>
<text x="370.5" y="414.54" font-size="10.6" text-anchor="end" fill="#000" font-weight="normal" font-style="normal">60</text>
<line x1="375.7" y1="386.92" x2="379.3" y2="386.92" stroke="#000" stroke-width="1.2"/>
<text x="370.5" y="390.72" font-size="10.6" text-anchor="end" fill="#000" font-weight="normal" font-style="normal">80</text>
<line x1="375.7" y1="363.1" x2="379.3" y2="363.1" stroke="#000" stroke-width="1.2"/>
<text x="370.5" y="366.9" font-size="10.6" text-anchor="end" fill="#000" font-weight="normal" font-style="normal">100</text>
<rect x="397.25" y="448.15" width="31.8" height="34.05" fill="#e1e1e1" stroke="#a2a2a2" stroke-width="1.9"/>
<rect x="448.95" y="467.35" width="31.1" height="14.85" fill="#e1e1e1" stroke="#a2a2a2" stroke-width="1.9"/>
<g stroke="#999" stroke-width="1">
<line x1="413.15" y1="442.5" x2="413.15" y2="450.4" stroke="#7e7e7e" stroke-width="1.1"/>
<line x1="404.75" y1="442.5" x2="421.55" y2="442.5" stroke="#999" stroke-width="1"/>
<line x1="404.75" y1="450.4" x2="421.55" y2="450.4" stroke="#999" stroke-width="1"/>
</g>
<circle cx="409.3" cy="430.7" r="2.6" fill="#5c5c5c"/>
<circle cx="419.8" cy="430.9" r="2.6" fill="#5c5c5c"/>
<circle cx="416.4" cy="436.2" r="2.6" fill="#5c5c5c"/>
<circle cx="409.3" cy="438.8" r="2.6" fill="#5c5c5c"/>
<circle cx="405.4" cy="454.6" r="2.6" fill="#5c5c5c"/>
<circle cx="409.9" cy="455.1" r="2.6" fill="#5c5c5c"/>
<circle cx="419.8" cy="457.7" r="2.6" fill="#5c5c5c"/>
<circle cx="412.5" cy="461.7" r="2.6" fill="#5c5c5c"/>
<g stroke="#999" stroke-width="1">
<line x1="464.5" y1="464.6" x2="464.5" y2="468.2" stroke="#7e7e7e" stroke-width="1.1"/>
<line x1="456.1" y1="464.6" x2="472.9" y2="464.6" stroke="#999" stroke-width="1"/>
<line x1="456.1" y1="468.2" x2="472.9" y2="468.2" stroke="#999" stroke-width="1"/>
</g>
<polygon points="449.5,455.7 446.5,461.2 452.5,461.2" fill="#000"/>
<polygon points="455.3,459.2 452.3,464.7 458.3,464.7" fill="#000"/>
<polygon points="461.1,460.5 458.1,466 464.1,466" fill="#000"/>
<polygon points="466.3,461.8 463.3,467.3 469.3,467.3" fill="#000"/>
<polygon points="472.4,460.2 469.4,465.7 475.4,465.7" fill="#000"/>
<polygon points="477.9,458.4 474.9,463.9 480.9,463.9" fill="#000"/>
<polygon points="460.6,474.1 457.6,479.6 463.6,479.6" fill="#000"/>
<polygon points="467.7,472 464.7,477.5 470.7,477.5" fill="#000"/>
<text x="343.8" y="423.15" font-size="11.3" text-anchor="middle" fill="#000" font-weight="normal" font-style="normal" transform="rotate(-90 343.8 423.15)">F4/80<tspan dy="-3.9" font-size="8.5">Int</tspan><tspan dy="3.9"> (%)</tspan></text>
<text x="413.15" y="498.4" font-size="11" text-anchor="middle" fill="#000" font-weight="normal" font-style="normal">WT</text>
<text x="466.5" y="498.4" font-size="11" text-anchor="middle" fill="#000" font-weight="normal" font-style="italic"><tspan font-size="11.5">Ccr2</tspan><tspan dy="-4.5" font-size="8">−/−</tspan></text>
<polygon points="425.8,369.5 426.59,371.31 428.56,371.5 427.08,372.82 427.5,374.75 425.8,373.75 424.1,374.75 424.52,372.82 423.04,371.5 425.01,371.31" fill="#000"/>
<polygon points="431.7,369.5 432.49,371.31 434.46,371.5 432.98,372.82 433.4,374.75 431.7,373.75 430,374.75 430.42,372.82 428.94,371.5 430.91,371.31" fill="#000"/>
<polygon points="437.6,369.5 438.39,371.31 440.36,371.5 438.88,372.82 439.3,374.75 437.6,373.75 435.9,374.75 436.32,372.82 434.84,371.5 436.81,371.31" fill="#000"/>
<line x1="562.2" y1="362.4" x2="562.2" y2="482.9" stroke="#000" stroke-width="1.4"/>
<line x1="561.5" y1="482.3" x2="681.6" y2="482.3" stroke="#000" stroke-width="1.4"/>
<line x1="558.6" y1="482.3" x2="562.2" y2="482.3" stroke="#000" stroke-width="1.2"/>
<text x="553.4" y="486.1" font-size="10.6" text-anchor="end" fill="#000" font-weight="normal" font-style="normal">0</text>
<line x1="558.6" y1="458.44" x2="562.2" y2="458.44" stroke="#000" stroke-width="1.2"/>
<text x="553.4" y="462.24" font-size="10.6" text-anchor="end" fill="#000" font-weight="normal" font-style="normal">20</text>
<line x1="558.6" y1="434.58" x2="562.2" y2="434.58" stroke="#000" stroke-width="1.2"/>
<text x="553.4" y="438.38" font-size="10.6" text-anchor="end" fill="#000" font-weight="normal" font-style="normal">40</text>
<line x1="558.6" y1="410.72" x2="562.2" y2="410.72" stroke="#000" stroke-width="1.2"/>
<text x="553.4" y="414.52" font-size="10.6" text-anchor="end" fill="#000" font-weight="normal" font-style="normal">60</text>
<line x1="558.6" y1="386.86" x2="562.2" y2="386.86" stroke="#000" stroke-width="1.2"/>
<text x="553.4" y="390.66" font-size="10.6" text-anchor="end" fill="#000" font-weight="normal" font-style="normal">80</text>
<line x1="558.6" y1="363" x2="562.2" y2="363" stroke="#000" stroke-width="1.2"/>
<text x="553.4" y="366.8" font-size="10.6" text-anchor="end" fill="#000" font-weight="normal" font-style="normal">100</text>
<rect x="580.65" y="412.55" width="31.4" height="69.75" fill="#e1e1e1" stroke="#a2a2a2" stroke-width="1.9"/>
<rect x="632.45" y="391.45" width="30.9" height="90.85" fill="#e1e1e1" stroke="#a2a2a2" stroke-width="1.9"/>
<g stroke="#999" stroke-width="1">
<line x1="596.35" y1="404.8" x2="596.35" y2="417" stroke="#7e7e7e" stroke-width="1.1"/>
<line x1="587.95" y1="404.8" x2="604.75" y2="404.8" stroke="#999" stroke-width="1"/>
<line x1="587.95" y1="417" x2="604.75" y2="417" stroke="#999" stroke-width="1"/>
</g>
<circle cx="599.4" cy="387.8" r="2.6" fill="#5c5c5c"/>
<circle cx="591.8" cy="391.9" r="2.6" fill="#5c5c5c"/>
<circle cx="602.6" cy="399.4" r="2.6" fill="#5c5c5c"/>
<circle cx="587.8" cy="404" r="2.6" fill="#5c5c5c"/>
<circle cx="595.1" cy="408.9" r="2.6" fill="#5c5c5c"/>
<circle cx="595.1" cy="416.2" r="2.6" fill="#5c5c5c"/>
<circle cx="591.8" cy="420.2" r="2.6" fill="#5c5c5c"/>
<circle cx="599.4" cy="425.6" r="2.6" fill="#5c5c5c"/>
<circle cx="595.9" cy="446.7" r="2.6" fill="#5c5c5c"/>
<g stroke="#999" stroke-width="1">
<line x1="647.9" y1="386.5" x2="647.9" y2="392.4" stroke="#7e7e7e" stroke-width="1.1"/>
<line x1="639.5" y1="386.5" x2="656.3" y2="386.5" stroke="#999" stroke-width="1"/>
<line x1="639.5" y1="392.4" x2="656.3" y2="392.4" stroke="#999" stroke-width="1"/>
</g>
<polygon points="643.1,373.7 640.1,379.2 646.1,379.2" fill="#000"/>
<polygon points="650.7,373.7 647.7,379.2 653.7,379.2" fill="#000"/>
<polygon points="636.4,390.7 633.4,396.2 639.4,396.2" fill="#000"/>
<polygon points="643.7,386.7 640.7,392.2 646.7,392.2" fill="#000"/>
<polygon points="653.4,387.2 650.4,392.7 656.4,392.7" fill="#000"/>
<polygon points="658,390.7 655,396.2 661,396.2" fill="#000"/>
<polygon points="643.1,395.8 640.1,401.3 646.1,401.3" fill="#000"/>
<polygon points="650.7,395.3 647.7,400.8 653.7,400.8" fill="#000"/>
<text x="528.6" y="424.45" font-size="11.3" text-anchor="middle" fill="#f08a24" font-weight="normal" font-style="normal" transform="rotate(-90 528.6 424.45)">F4/80<tspan dy="-3.9" font-size="8.5">Hi</tspan><tspan dy="3.9"> (%)</tspan></text>
<text x="596.35" y="498.5" font-size="11" text-anchor="middle" fill="#000" font-weight="normal" font-style="normal">WT</text>
<text x="649.9" y="498.5" font-size="11" text-anchor="middle" fill="#000" font-weight="normal" font-style="italic"><tspan font-size="11.5">Ccr2</tspan><tspan dy="-4.5" font-size="8">−/−</tspan></text>
<polygon points="618.8,369.2 619.59,371.01 621.56,371.2 620.08,372.52 620.5,374.45 618.8,373.45 617.1,374.45 617.52,372.52 616.04,371.2 618.01,371.01" fill="#000"/>
<line x1="379.3" y1="526.2" x2="379.3" y2="646.2" stroke="#000" stroke-width="1.4"/>
<line x1="378.6" y1="645.6" x2="498.8" y2="645.6" stroke="#000" stroke-width="1.4"/>
<line x1="375.7" y1="645.6" x2="379.3" y2="645.6" stroke="#000" stroke-width="1.2"/>
<text x="370.5" y="649.4" font-size="10.6" text-anchor="end" fill="#000" font-weight="normal" font-style="normal">0</text>
<line x1="375.7" y1="621.84" x2="379.3" y2="621.84" stroke="#000" stroke-width="1.2"/>
<text x="370.5" y="625.64" font-size="10.6" text-anchor="end" fill="#000" font-weight="normal" font-style="normal">20</text>
<line x1="375.7" y1="598.08" x2="379.3" y2="598.08" stroke="#000" stroke-width="1.2"/>
<text x="370.5" y="601.88" font-size="10.6" text-anchor="end" fill="#000" font-weight="normal" font-style="normal">40</text>
<line x1="375.7" y1="574.32" x2="379.3" y2="574.32" stroke="#000" stroke-width="1.2"/>
<text x="370.5" y="578.12" font-size="10.6" text-anchor="end" fill="#000" font-weight="normal" font-style="normal">60</text>
<line x1="375.7" y1="550.56" x2="379.3" y2="550.56" stroke="#000" stroke-width="1.2"/>
<text x="370.5" y="554.36" font-size="10.6" text-anchor="end" fill="#000" font-weight="normal" font-style="normal">80</text>
<line x1="375.7" y1="526.8" x2="379.3" y2="526.8" stroke="#000" stroke-width="1.2"/>
<text x="370.5" y="530.6" font-size="10.6" text-anchor="end" fill="#000" font-weight="normal" font-style="normal">100</text>
<rect x="397.25" y="598.15" width="31.8" height="47.45" fill="#e1e1e1" stroke="#a2a2a2" stroke-width="1.9"/>
<rect x="448.95" y="615.25" width="31.1" height="30.35" fill="#e1e1e1" stroke="#a2a2a2" stroke-width="1.9"/>
<g stroke="#999" stroke-width="1">
<line x1="413.15" y1="592.5" x2="413.15" y2="602.2" stroke="#7e7e7e" stroke-width="1.1"/>
<line x1="404.75" y1="592.5" x2="421.55" y2="592.5" stroke="#999" stroke-width="1"/>
<line x1="404.75" y1="602.2" x2="421.55" y2="602.2" stroke="#999" stroke-width="1"/>
</g>
<circle cx="409.3" cy="585.9" r="2.6" fill="#5c5c5c"/>
<circle cx="416.7" cy="585.4" r="2.6" fill="#5c5c5c"/>
<circle cx="405.4" cy="596.5" r="2.6" fill="#5c5c5c"/>
<circle cx="420.4" cy="595.1" r="2.6" fill="#5c5c5c"/>
<circle cx="412.5" cy="599.9" r="2.6" fill="#5c5c5c"/>
<circle cx="412.5" cy="618.8" r="2.6" fill="#5c5c5c"/>
<g stroke="#999" stroke-width="1">
<line x1="464.5" y1="609.6" x2="464.5" y2="618.3" stroke="#7e7e7e" stroke-width="1.1"/>
<line x1="456.1" y1="609.6" x2="472.9" y2="609.6" stroke="#999" stroke-width="1"/>
<line x1="456.1" y1="618.3" x2="472.9" y2="618.3" stroke="#999" stroke-width="1"/>
</g>
<polygon points="456.6,597.1 453.6,602.6 459.6,602.6" fill="#000"/>
<polygon points="471.6,600.2 468.6,605.7 474.6,605.7" fill="#000"/>
<polygon points="464,602.9 461,608.4 467,608.4" fill="#000"/>
<polygon points="471.6,611.5 468.6,617 474.6,617" fill="#000"/>
<polygon points="456.6,616.8 453.6,622.3 459.6,622.3" fill="#000"/>
<polygon points="464,616.8 461,622.3 467,622.3" fill="#000"/>
<polygon points="464,630.5 461,636 467,636" fill="#000"/>
<text x="343.8" y="586.7" font-size="11.3" text-anchor="middle" fill="#000" font-weight="normal" font-style="normal" transform="rotate(-90 343.8 586.7)">F4/80<tspan dy="-3.9" font-size="8.5">Int</tspan><tspan dy="3.9"> (%)</tspan></text>
<text x="413.15" y="661.8" font-size="11" text-anchor="middle" fill="#000" font-weight="normal" font-style="normal">WT</text>
<text x="466.5" y="661.8" font-size="11" text-anchor="middle" fill="#000" font-weight="normal" font-style="italic"><tspan font-size="11.5">Ccr2</tspan><tspan dy="-4.5" font-size="8">−/−</tspan></text>
<polygon points="436.9,533.1 437.69,534.91 439.66,535.1 438.18,536.42 438.6,538.35 436.9,537.35 435.2,538.35 435.62,536.42 434.14,535.1 436.11,534.91" fill="#000"/>
<line x1="562.2" y1="526" x2="562.2" y2="646.6" stroke="#000" stroke-width="1.4"/>
<line x1="561.5" y1="646" x2="681.6" y2="646" stroke="#000" stroke-width="1.4"/>
<line x1="558.6" y1="646" x2="562.2" y2="646" stroke="#000" stroke-width="1.2"/>
<text x="553.4" y="649.8" font-size="10.6" text-anchor="end" fill="#000" font-weight="normal" font-style="normal">0</text>
<line x1="558.6" y1="622.12" x2="562.2" y2="622.12" stroke="#000" stroke-width="1.2"/>
<text x="553.4" y="625.92" font-size="10.6" text-anchor="end" fill="#000" font-weight="normal" font-style="normal">20</text>
<line x1="558.6" y1="598.24" x2="562.2" y2="598.24" stroke="#000" stroke-width="1.2"/>
<text x="553.4" y="602.04" font-size="10.6" text-anchor="end" fill="#000" font-weight="normal" font-style="normal">40</text>
<line x1="558.6" y1="574.36" x2="562.2" y2="574.36" stroke="#000" stroke-width="1.2"/>
<text x="553.4" y="578.16" font-size="10.6" text-anchor="end" fill="#000" font-weight="normal" font-style="normal">60</text>
<line x1="558.6" y1="550.48" x2="562.2" y2="550.48" stroke="#000" stroke-width="1.2"/>
<text x="553.4" y="554.28" font-size="10.6" text-anchor="end" fill="#000" font-weight="normal" font-style="normal">80</text>
<line x1="558.6" y1="526.6" x2="562.2" y2="526.6" stroke="#000" stroke-width="1.2"/>
<text x="553.4" y="530.4" font-size="10.6" text-anchor="end" fill="#000" font-weight="normal" font-style="normal">100</text>
<rect x="580.65" y="585.65" width="31.4" height="60.35" fill="#e1e1e1" stroke="#a2a2a2" stroke-width="1.9"/>
<rect x="632.45" y="577.55" width="30.9" height="68.45" fill="#e1e1e1" stroke="#a2a2a2" stroke-width="1.9"/>
<g stroke="#999" stroke-width="1">
<line x1="596.35" y1="579" x2="596.35" y2="590.6" stroke="#7e7e7e" stroke-width="1.1"/>
<line x1="587.95" y1="579" x2="604.75" y2="579" stroke="#999" stroke-width="1"/>
<line x1="587.95" y1="590.6" x2="604.75" y2="590.6" stroke="#999" stroke-width="1"/>
</g>
<circle cx="595.9" cy="564.1" r="2.6" fill="#5c5c5c"/>
<circle cx="588.6" cy="579.3" r="2.6" fill="#5c5c5c"/>
<circle cx="602.6" cy="579.8" r="2.6" fill="#5c5c5c"/>
<circle cx="595.1" cy="585.2" r="2.6" fill="#5c5c5c"/>
<circle cx="595.1" cy="593.3" r="2.6" fill="#5c5c5c"/>
<circle cx="595.9" cy="605.5" r="2.6" fill="#5c5c5c"/>
<g stroke="#999" stroke-width="1">
<line x1="647.9" y1="567.7" x2="647.9" y2="583.3" stroke="#7e7e7e" stroke-width="1.1"/>
<line x1="639.5" y1="567.7" x2="656.3" y2="567.7" stroke="#999" stroke-width="1"/>
<line x1="639.5" y1="583.3" x2="656.3" y2="583.3" stroke="#999" stroke-width="1"/>
</g>
<polygon points="647.2,542.8 644.2,548.3 650.2,548.3" fill="#000"/>
<polygon points="643.1,554.4 640.1,559.9 646.1,559.9" fill="#000"/>
<polygon points="650.7,560.8 647.7,566.3 653.7,566.3" fill="#000"/>
<polygon points="647.2,573.8 644.2,579.3 650.2,579.3" fill="#000"/>
<polygon points="647.2,588.1 644.2,593.6 650.2,593.6" fill="#000"/>
<polygon points="650.7,590.8 647.7,596.3 653.7,596.3" fill="#000"/>
<polygon points="643.1,596.8 640.1,602.3 646.1,602.3" fill="#000"/>
<text x="528.6" y="588.1" font-size="11.3" text-anchor="middle" fill="#f08a24" font-weight="normal" font-style="normal" transform="rotate(-90 528.6 588.1)">F4/80<tspan dy="-3.9" font-size="8.5">Hi</tspan><tspan dy="3.9"> (%)</tspan></text>
<text x="596.35" y="662.2" font-size="11" text-anchor="middle" fill="#000" font-weight="normal" font-style="normal">WT</text>
<text x="649.9" y="662.2" font-size="11" text-anchor="middle" fill="#000" font-weight="normal" font-style="italic"><tspan font-size="11.5">Ccr2</tspan><tspan dy="-4.5" font-size="8">−/−</tspan></text>
<rect x="78.6" y="728.4" width="6.8" height="6.3" fill="#e31b23" stroke="#222" stroke-width="0.8"/>
<rect x="78.6" y="741.8" width="6.8" height="6.3" fill="#b08fc7" stroke="#333" stroke-width="0.8"/>
<rect x="78.6" y="755.3" width="6.8" height="6.6" fill="#000"/>
<text x="90.6" y="734.4" font-size="11.3" text-anchor="start" fill="#000" font-weight="normal" font-style="normal">aCSF1 / IgG i.p.</text>
<text x="90.6" y="748.2" font-size="11.3" text-anchor="start" fill="#000" font-weight="normal" font-style="normal">Clodronate i.v.</text>
<text x="90.6" y="762" font-size="11.3" text-anchor="start" fill="#000" font-weight="normal" font-style="normal">Tissue collection</text>
<line x1="34" y1="811.1" x2="236.6" y2="811.1" stroke="#000" stroke-width="2.6"/>
<line x1="34.9" y1="801.2" x2="34.9" y2="811" stroke="#000" stroke-width="1.2"/>
<text transform="translate(37.9 796.6) rotate(-90) scale(1 0.94)" font-size="11">Birth</text>
<line x1="95.7" y1="801.2" x2="95.7" y2="811" stroke="#000" stroke-width="1.2"/>
<text transform="translate(98.7 796.6) rotate(-90) scale(1 0.94)" font-size="11">14 d</text>
<line x1="104.7" y1="801.2" x2="104.7" y2="811" stroke="#000" stroke-width="1.2"/>
<text transform="translate(107.7 796.6) rotate(-90) scale(1 0.94)" font-size="11">15 d</text>
<line x1="132.3" y1="801.2" x2="132.3" y2="811" stroke="#000" stroke-width="1.2"/>
<text transform="translate(135.3 796.6) rotate(-90) scale(1 0.94)" font-size="11">18 d</text>
<line x1="141.8" y1="801.2" x2="141.8" y2="811" stroke="#000" stroke-width="1.2"/>
<text transform="translate(144.8 796.6) rotate(-90) scale(1 0.94)" font-size="11">19 d</text>
<line x1="169.7" y1="801.2" x2="169.7" y2="811" stroke="#000" stroke-width="1.2"/>
<text transform="translate(172.7 796.6) rotate(-90) scale(1 0.94)" font-size="11">22 d</text>
<line x1="177.9" y1="801.2" x2="177.9" y2="811" stroke="#000" stroke-width="1.2"/>
<text transform="translate(180.9 796.6) rotate(-90) scale(1 0.94)" font-size="11">23 d</text>
<line x1="187.9" y1="801.2" x2="187.9" y2="811" stroke="#000" stroke-width="1.2"/>
<text transform="translate(190.9 796.6) rotate(-90) scale(1 0.94)" font-size="11">24 d</text>
<line x1="234.8" y1="801.2" x2="234.8" y2="811" stroke="#000" stroke-width="1.2"/>
<text transform="translate(237.8 796.6) rotate(-90) scale(1 0.94)" font-size="11">5 wk</text>
<polygon points="95.4,816.9 99.7,824.7 97.4,824.7 97.4,834.7 93.4,834.7 93.4,824.7 91.1,824.7" fill="#e31b23" stroke="#111" stroke-width="0.8" stroke-linejoin="miter"/>
<polygon points="131.8,816.9 136.1,824.7 133.8,824.7 133.8,834.7 129.8,834.7 129.8,824.7 127.5,824.7" fill="#e31b23" stroke="#111" stroke-width="0.8" stroke-linejoin="miter"/>
<polygon points="168.8,816.9 173.1,824.7 170.8,824.7 170.8,834.7 166.8,834.7 166.8,824.7 164.5,824.7" fill="#e31b23" stroke="#111" stroke-width="0.8" stroke-linejoin="miter"/>
<polygon points="105.3,816.9 109.6,824.7 107.3,824.7 107.3,834.7 103.3,834.7 103.3,824.7 101,824.7" fill="#b08fc7" stroke="#111" stroke-width="0.8" stroke-linejoin="miter"/>
<polygon points="141.4,816.9 145.7,824.7 143.4,824.7 143.4,834.7 139.4,834.7 139.4,824.7 137.1,824.7" fill="#b08fc7" stroke="#111" stroke-width="0.8" stroke-linejoin="miter"/>
<polygon points="178.6,816.9 182.9,824.7 180.6,824.7 180.6,834.7 176.6,834.7 176.6,824.7 174.3,824.7" fill="#b08fc7" stroke="#111" stroke-width="0.8" stroke-linejoin="miter"/>
<polygon points="188.6,835.6 193.3,827.3 190.95,827.3 190.95,817.2 186.25,817.2 186.25,827.3 183.9,827.3" fill="#000"/>
<polygon points="235,835.6 239.7,827.3 237.35,827.3 237.35,817.2 232.65,817.2 232.65,827.3 230.3,827.3" fill="#000"/>
<line x1="369.1" y1="719.7" x2="369.1" y2="839.5" stroke="#000" stroke-width="1.4"/>
<line x1="368.4" y1="838.9" x2="488.7" y2="838.9" stroke="#000" stroke-width="1.4"/>
<line x1="365.5" y1="838.9" x2="369.1" y2="838.9" stroke="#000" stroke-width="1.2"/>
<text x="360.3" y="842.7" font-size="10.6" text-anchor="end" fill="#000" font-weight="normal" font-style="normal">0</text>
<line x1="365.5" y1="815.18" x2="369.1" y2="815.18" stroke="#000" stroke-width="1.2"/>
<text x="360.3" y="818.98" font-size="10.6" text-anchor="end" fill="#000" font-weight="normal" font-style="normal">5000</text>
<line x1="365.5" y1="791.46" x2="369.1" y2="791.46" stroke="#000" stroke-width="1.2"/>
<text x="360.3" y="795.26" font-size="10.6" text-anchor="end" fill="#000" font-weight="normal" font-style="normal">10,000</text>
<line x1="365.5" y1="767.74" x2="369.1" y2="767.74" stroke="#000" stroke-width="1.2"/>
<text x="360.3" y="771.54" font-size="10.6" text-anchor="end" fill="#000" font-weight="normal" font-style="normal">15,000</text>
<line x1="365.5" y1="744.02" x2="369.1" y2="744.02" stroke="#000" stroke-width="1.2"/>
<text x="360.3" y="747.82" font-size="10.6" text-anchor="end" fill="#000" font-weight="normal" font-style="normal">20,000</text>
<line x1="365.5" y1="720.3" x2="369.1" y2="720.3" stroke="#000" stroke-width="1.2"/>
<text x="360.3" y="724.1" font-size="10.6" text-anchor="end" fill="#000" font-weight="normal" font-style="normal">25,000</text>
<rect x="387.65" y="784.95" width="31.3" height="53.95" fill="#e1e1e1" stroke="#a2a2a2" stroke-width="1.9"/>
<rect x="438.15" y="827.95" width="31.8" height="10.95" fill="#e1e1e1" stroke="#a2a2a2" stroke-width="1.9"/>
<g stroke="#999" stroke-width="1">
<line x1="403.3" y1="770.3" x2="403.3" y2="797.2" stroke="#7e7e7e" stroke-width="1.1"/>
<line x1="394.9" y1="770.3" x2="411.7" y2="770.3" stroke="#999" stroke-width="1"/>
<line x1="394.9" y1="797.2" x2="411.7" y2="797.2" stroke="#999" stroke-width="1"/>
</g>
<circle cx="402.8" cy="746.1" r="2.6" fill="#5c5c5c"/>
<circle cx="402.8" cy="783.2" r="2.6" fill="#5c5c5c"/>
<circle cx="402.8" cy="793.7" r="2.6" fill="#5c5c5c"/>
<circle cx="402.8" cy="811.2" r="2.6" fill="#5c5c5c"/>
<g stroke="#999" stroke-width="1">
<line x1="454.05" y1="822.9" x2="454.05" y2="827.8" stroke="#7e7e7e" stroke-width="1.1"/>
<line x1="445.65" y1="822.9" x2="462.45" y2="822.9" stroke="#999" stroke-width="1"/>
<line x1="445.65" y1="827.8" x2="462.45" y2="827.8" stroke="#999" stroke-width="1"/>
</g>
<circle cx="446.9" cy="823.5" r="2.6" fill="#5c5c5c"/>
<circle cx="454.2" cy="824.9" r="2.6" fill="#5c5c5c"/>
<circle cx="461.5" cy="819.1" r="2.6" fill="#5c5c5c"/>
<circle cx="457.7" cy="829.3" r="2.6" fill="#5c5c5c"/>
<circle cx="450.4" cy="833.1" r="2.6" fill="#5c5c5c"/>
<text x="319.5" y="777.3" font-size="11.3" text-anchor="middle" fill="#000" font-weight="normal" font-style="normal" transform="rotate(-90 319.5 777.3)">F4/80<tspan dy="-4.2" font-size="8.5">Int</tspan><tspan dy="4.2"> (cells/gland)</tspan></text>
<text x="403.3" y="855.2" font-size="11.3" text-anchor="middle" fill="#000" font-weight="normal" font-style="normal">CO</text>
<text x="455" y="855.2" font-size="11.3" text-anchor="middle" fill="#000" font-weight="normal" font-style="normal">Clod+</text>
<text x="455" y="868.9" font-size="11.3" text-anchor="middle" fill="#000" font-weight="normal" font-style="normal">aCSF1</text>
<polygon points="424.7,727.7 425.49,729.51 427.46,729.7 425.98,731.02 426.4,732.95 424.7,731.95 423,732.95 423.42,731.02 421.94,729.7 423.91,729.51" fill="#000"/>
<line x1="563.4" y1="720" x2="563.4" y2="839.9" stroke="#000" stroke-width="1.4"/>
<line x1="562.7" y1="839.3" x2="683" y2="839.3" stroke="#000" stroke-width="1.4"/>
<line x1="559.8" y1="839.3" x2="563.4" y2="839.3" stroke="#000" stroke-width="1.2"/>
<text x="554.6" y="843.1" font-size="10.6" text-anchor="end" fill="#000" font-weight="normal" font-style="normal">0</text>
<line x1="559.8" y1="809.62" x2="563.4" y2="809.62" stroke="#000" stroke-width="1.2"/>
<text x="554.6" y="813.42" font-size="10.6" text-anchor="end" fill="#000" font-weight="normal" font-style="normal">10,000</text>
<line x1="559.8" y1="779.95" x2="563.4" y2="779.95" stroke="#000" stroke-width="1.2"/>
<text x="554.6" y="783.75" font-size="10.6" text-anchor="end" fill="#000" font-weight="normal" font-style="normal">20,000</text>
<line x1="559.8" y1="750.27" x2="563.4" y2="750.27" stroke="#000" stroke-width="1.2"/>
<text x="554.6" y="754.07" font-size="10.6" text-anchor="end" fill="#000" font-weight="normal" font-style="normal">30,000</text>
<line x1="559.8" y1="720.6" x2="563.4" y2="720.6" stroke="#000" stroke-width="1.2"/>
<text x="554.6" y="724.4" font-size="10.6" text-anchor="end" fill="#000" font-weight="normal" font-style="normal">40,000</text>
<rect x="581.45" y="788.45" width="31.5" height="50.85" fill="#e1e1e1" stroke="#a2a2a2" stroke-width="1.9"/>
<rect x="632.45" y="839.45" width="30.9" height="-0.15" fill="#e1e1e1" stroke="#a2a2a2" stroke-width="1.9"/>
<g stroke="#999" stroke-width="1">
<line x1="597.2" y1="766.7" x2="597.2" y2="807.4" stroke="#7e7e7e" stroke-width="1.1"/>
<line x1="588.8" y1="766.7" x2="605.6" y2="766.7" stroke="#999" stroke-width="1"/>
<line x1="588.8" y1="807.4" x2="605.6" y2="807.4" stroke="#999" stroke-width="1"/>
</g>
<circle cx="597.3" cy="737.1" r="2.6" fill="#5c5c5c"/>
<circle cx="597.3" cy="773.9" r="2.6" fill="#5c5c5c"/>
<circle cx="597.3" cy="806.6" r="2.6" fill="#5c5c5c"/>
<circle cx="597.3" cy="830.8" r="2.6" fill="#5c5c5c"/>
<circle cx="635.2" cy="837.3" r="2.6" fill="#5c5c5c"/>
<circle cx="641.7" cy="837.8" r="2.6" fill="#5c5c5c"/>
<circle cx="648" cy="838" r="2.6" fill="#5c5c5c"/>
<circle cx="654.5" cy="837.8" r="2.6" fill="#5c5c5c"/>
<circle cx="661.4" cy="837.3" r="2.6" fill="#5c5c5c"/>
<text x="511" y="777.65" font-size="11.3" text-anchor="middle" fill="#f08a24" font-weight="normal" font-style="normal" transform="rotate(-90 511 777.65)">F4/80<tspan dy="-4.2" font-size="8.5">Hi</tspan><tspan dy="4.2"> (cells/gland)</tspan></text>
<text x="597.3" y="855.2" font-size="11.3" text-anchor="middle" fill="#000" font-weight="normal" font-style="normal">CO</text>
<text x="651.3" y="855.2" font-size="11.3" text-anchor="middle" fill="#000" font-weight="normal" font-style="normal">Clod+</text>
<text x="651.3" y="868.9" font-size="11.3" text-anchor="middle" fill="#000" font-weight="normal" font-style="normal">aCSF1</text>
<polygon points="624.6,727.7 625.39,729.51 627.36,729.7 625.88,731.02 626.3,732.95 624.6,731.95 622.9,732.95 623.32,731.02 621.84,729.7 623.81,729.51" fill="#000"/>
<text x="110.4" y="901" font-size="11" text-anchor="middle" fill="#000" font-weight="normal" font-style="normal">CO</text>
<text x="229.5" y="901.3" font-size="11" text-anchor="middle" fill="#000" font-weight="normal" font-style="normal">Clod+aCSF1</text>
<line x1="55.7" y1="905.8" x2="303" y2="905.8" stroke="#000" stroke-width="1.2"/>
<text x="56.5" y="923.9" font-size="11.4" text-anchor="start" fill="#000" font-weight="normal" font-style="normal">5 wk (11 d recovery)</text>
<rect x="54.9" y="931.2" width="119" height="119" fill="none" stroke="#000" stroke-width="1.6"/>
<line x1="49.9" y1="941.8" x2="54.9" y2="941.8" stroke="#000" stroke-width="1.3"/>
<line x1="49.9" y1="970" x2="54.9" y2="970" stroke="#000" stroke-width="1.3"/>
<line x1="49.9" y1="1002.2" x2="54.9" y2="1002.2" stroke="#000" stroke-width="1.3"/>
<line x1="49.9" y1="1020.8" x2="54.9" y2="1020.8" stroke="#000" stroke-width="1.3"/>
<line x1="49.9" y1="1041.4" x2="54.9" y2="1041.4" stroke="#000" stroke-width="1.3"/>
<line x1="52.7" y1="993.11" x2="54.9" y2="993.11" stroke="#000" stroke-width="0.8"/>
<line x1="52.7" y1="987.79" x2="54.9" y2="987.79" stroke="#000" stroke-width="0.8"/>
<line x1="52.7" y1="984.02" x2="54.9" y2="984.02" stroke="#000" stroke-width="0.8"/>
<line x1="52.7" y1="981.09" x2="54.9" y2="981.09" stroke="#000" stroke-width="0.8"/>
<line x1="52.7" y1="978.7" x2="54.9" y2="978.7" stroke="#000" stroke-width="0.8"/>
<line x1="52.7" y1="976.68" x2="54.9" y2="976.68" stroke="#000" stroke-width="0.8"/>
<line x1="52.7" y1="974.93" x2="54.9" y2="974.93" stroke="#000" stroke-width="0.8"/>
<line x1="52.7" y1="973.38" x2="54.9" y2="973.38" stroke="#000" stroke-width="0.8"/>
<line x1="52.7" y1="962.91" x2="54.9" y2="962.91" stroke="#000" stroke-width="0.8"/>
<line x1="52.7" y1="957.59" x2="54.9" y2="957.59" stroke="#000" stroke-width="0.8"/>
<line x1="52.7" y1="953.82" x2="54.9" y2="953.82" stroke="#000" stroke-width="0.8"/>
<line x1="52.7" y1="950.89" x2="54.9" y2="950.89" stroke="#000" stroke-width="0.8"/>
<line x1="52.7" y1="948.5" x2="54.9" y2="948.5" stroke="#000" stroke-width="0.8"/>
<line x1="52.7" y1="946.48" x2="54.9" y2="946.48" stroke="#000" stroke-width="0.8"/>
<line x1="52.7" y1="944.73" x2="54.9" y2="944.73" stroke="#000" stroke-width="0.8"/>
<line x1="52.7" y1="943.18" x2="54.9" y2="943.18" stroke="#000" stroke-width="0.8"/>
<line x1="52.7" y1="1004.65" x2="54.9" y2="1004.65" stroke="#000" stroke-width="0.7"/>
<line x1="52.7" y1="1007.1" x2="54.9" y2="1007.1" stroke="#000" stroke-width="0.7"/>
<line x1="52.7" y1="1009.55" x2="54.9" y2="1009.55" stroke="#000" stroke-width="0.7"/>
<line x1="52.7" y1="1012" x2="54.9" y2="1012" stroke="#000" stroke-width="0.7"/>
<line x1="52.7" y1="1014.45" x2="54.9" y2="1014.45" stroke="#000" stroke-width="0.7"/>
<line x1="52.7" y1="1016.9" x2="54.9" y2="1016.9" stroke="#000" stroke-width="0.7"/>
<line x1="52.7" y1="1019.35" x2="54.9" y2="1019.35" stroke="#000" stroke-width="0.7"/>
<line x1="52.7" y1="1021.8" x2="54.9" y2="1021.8" stroke="#000" stroke-width="0.7"/>
<line x1="52.7" y1="1024.25" x2="54.9" y2="1024.25" stroke="#000" stroke-width="0.7"/>
<line x1="52.7" y1="1026.7" x2="54.9" y2="1026.7" stroke="#000" stroke-width="0.7"/>
<line x1="52.7" y1="1029.15" x2="54.9" y2="1029.15" stroke="#000" stroke-width="0.7"/>
<line x1="52.7" y1="1031.6" x2="54.9" y2="1031.6" stroke="#000" stroke-width="0.7"/>
<line x1="52.7" y1="1034.05" x2="54.9" y2="1034.05" stroke="#000" stroke-width="0.7"/>
<line x1="52.7" y1="1036.5" x2="54.9" y2="1036.5" stroke="#000" stroke-width="0.7"/>
<line x1="52.7" y1="1038.95" x2="54.9" y2="1038.95" stroke="#000" stroke-width="0.7"/>
<rect x="50.6" y="1018.2" width="3.8" height="6.6" fill="#111"/>
<line x1="61.5" y1="1050.2" x2="61.5" y2="1053.7" stroke="#000" stroke-width="1.3"/>
<line x1="81.3" y1="1050.2" x2="81.3" y2="1053.7" stroke="#000" stroke-width="1.3"/>
<line x1="100.9" y1="1050.2" x2="100.9" y2="1053.7" stroke="#000" stroke-width="1.3"/>
<line x1="133.1" y1="1050.2" x2="133.1" y2="1053.7" stroke="#000" stroke-width="1.3"/>
<line x1="161.2" y1="1050.2" x2="161.2" y2="1053.7" stroke="#000" stroke-width="1.3"/>
<line x1="109.98" y1="1050.2" x2="109.98" y2="1052.2" stroke="#000" stroke-width="0.8"/>
<line x1="115.29" y1="1050.2" x2="115.29" y2="1052.2" stroke="#000" stroke-width="0.8"/>
<line x1="119.05" y1="1050.2" x2="119.05" y2="1052.2" stroke="#000" stroke-width="0.8"/>
<line x1="121.97" y1="1050.2" x2="121.97" y2="1052.2" stroke="#000" stroke-width="0.8"/>
<line x1="124.36" y1="1050.2" x2="124.36" y2="1052.2" stroke="#000" stroke-width="0.8"/>
<line x1="126.38" y1="1050.2" x2="126.38" y2="1052.2" stroke="#000" stroke-width="0.8"/>
<line x1="128.13" y1="1050.2" x2="128.13" y2="1052.2" stroke="#000" stroke-width="0.8"/>
<line x1="129.67" y1="1050.2" x2="129.67" y2="1052.2" stroke="#000" stroke-width="0.8"/>
<line x1="140.13" y1="1050.2" x2="140.13" y2="1052.2" stroke="#000" stroke-width="0.8"/>
<line x1="145.44" y1="1050.2" x2="145.44" y2="1052.2" stroke="#000" stroke-width="0.8"/>
<line x1="149.2" y1="1050.2" x2="149.2" y2="1052.2" stroke="#000" stroke-width="0.8"/>
<line x1="152.12" y1="1050.2" x2="152.12" y2="1052.2" stroke="#000" stroke-width="0.8"/>
<line x1="154.51" y1="1050.2" x2="154.51" y2="1052.2" stroke="#000" stroke-width="0.8"/>
<line x1="156.53" y1="1050.2" x2="156.53" y2="1052.2" stroke="#000" stroke-width="0.8"/>
<line x1="158.28" y1="1050.2" x2="158.28" y2="1052.2" stroke="#000" stroke-width="0.8"/>
<line x1="159.82" y1="1050.2" x2="159.82" y2="1052.2" stroke="#000" stroke-width="0.8"/>
<line x1="63.96" y1="1050.2" x2="63.96" y2="1052.2" stroke="#000" stroke-width="0.7"/>
<line x1="66.42" y1="1050.2" x2="66.42" y2="1052.2" stroke="#000" stroke-width="0.7"/>
<line x1="68.89" y1="1050.2" x2="68.89" y2="1052.2" stroke="#000" stroke-width="0.7"/>
<line x1="71.35" y1="1050.2" x2="71.35" y2="1052.2" stroke="#000" stroke-width="0.7"/>
<line x1="73.81" y1="1050.2" x2="73.81" y2="1052.2" stroke="#000" stroke-width="0.7"/>
<line x1="76.28" y1="1050.2" x2="76.28" y2="1052.2" stroke="#000" stroke-width="0.7"/>
<line x1="78.74" y1="1050.2" x2="78.74" y2="1052.2" stroke="#000" stroke-width="0.7"/>
<line x1="81.2" y1="1050.2" x2="81.2" y2="1052.2" stroke="#000" stroke-width="0.7"/>
<line x1="83.66" y1="1050.2" x2="83.66" y2="1052.2" stroke="#000" stroke-width="0.7"/>
<line x1="86.12" y1="1050.2" x2="86.12" y2="1052.2" stroke="#000" stroke-width="0.7"/>
<line x1="88.59" y1="1050.2" x2="88.59" y2="1052.2" stroke="#000" stroke-width="0.7"/>
<line x1="91.05" y1="1050.2" x2="91.05" y2="1052.2" stroke="#000" stroke-width="0.7"/>
<line x1="93.51" y1="1050.2" x2="93.51" y2="1052.2" stroke="#000" stroke-width="0.7"/>
<line x1="95.97" y1="1050.2" x2="95.97" y2="1052.2" stroke="#000" stroke-width="0.7"/>
<line x1="98.44" y1="1050.2" x2="98.44" y2="1052.2" stroke="#000" stroke-width="0.7"/>
<rect x="78.3" y="1050.8" width="6" height="2.4" fill="#111"/>
<text x="61" y="1068.6" font-size="10.6" text-anchor="middle" fill="#000" font-weight="normal" font-style="normal">−10<tspan dy="-4.5" font-size="8.1">3</tspan></text>
<text x="81.3" y="1068.6" font-size="10.6" text-anchor="middle" fill="#000" font-weight="normal" font-style="normal">0</text>
<text x="102.4" y="1068.6" font-size="10.6" text-anchor="middle" fill="#000" font-weight="normal" font-style="normal">10<tspan dy="-4.5" font-size="8.1">3</tspan></text>
<text x="134.6" y="1068.6" font-size="10.6" text-anchor="middle" fill="#000" font-weight="normal" font-style="normal">10<tspan dy="-4.5" font-size="8.1">4</tspan></text>
<text x="162.7" y="1068.6" font-size="10.6" text-anchor="middle" fill="#000" font-weight="normal" font-style="normal">10<tspan dy="-4.5" font-size="8.1">5</tspan></text>
<text x="45.3" y="948" font-size="10.8" text-anchor="end" fill="#000" font-weight="normal" font-style="normal">10<tspan dy="-4.5" font-size="8.1">5</tspan></text>
<text x="45.3" y="975" font-size="10.8" text-anchor="end" fill="#000" font-weight="normal" font-style="normal">10<tspan dy="-4.5" font-size="8.1">4</tspan></text>
<text x="45.3" y="1008.2" font-size="10.8" text-anchor="end" fill="#000" font-weight="normal" font-style="normal">10<tspan dy="-4.5" font-size="8.1">3</tspan></text>
<text x="45.3" y="1025.6" font-size="10.8" text-anchor="end" fill="#000" font-weight="normal" font-style="normal">0</text>
<text x="45.3" y="1047.4" font-size="10.8" text-anchor="end" fill="#000" font-weight="normal" font-style="normal">−10<tspan dy="-4.5" font-size="8.1">3</tspan></text>
<rect x="183.4" y="931.2" width="119" height="119" fill="none" stroke="#000" stroke-width="1.6"/>
<line x1="178.4" y1="941.8" x2="183.4" y2="941.8" stroke="#000" stroke-width="1.3"/>
<line x1="178.4" y1="970" x2="183.4" y2="970" stroke="#000" stroke-width="1.3"/>
<line x1="178.4" y1="1002.2" x2="183.4" y2="1002.2" stroke="#000" stroke-width="1.3"/>
<line x1="178.4" y1="1020.8" x2="183.4" y2="1020.8" stroke="#000" stroke-width="1.3"/>
<line x1="178.4" y1="1041.4" x2="183.4" y2="1041.4" stroke="#000" stroke-width="1.3"/>
<line x1="181.2" y1="993.11" x2="183.4" y2="993.11" stroke="#000" stroke-width="0.8"/>
<line x1="181.2" y1="987.79" x2="183.4" y2="987.79" stroke="#000" stroke-width="0.8"/>
<line x1="181.2" y1="984.02" x2="183.4" y2="984.02" stroke="#000" stroke-width="0.8"/>
<line x1="181.2" y1="981.09" x2="183.4" y2="981.09" stroke="#000" stroke-width="0.8"/>
<line x1="181.2" y1="978.7" x2="183.4" y2="978.7" stroke="#000" stroke-width="0.8"/>
<line x1="181.2" y1="976.68" x2="183.4" y2="976.68" stroke="#000" stroke-width="0.8"/>
<line x1="181.2" y1="974.93" x2="183.4" y2="974.93" stroke="#000" stroke-width="0.8"/>
<line x1="181.2" y1="973.38" x2="183.4" y2="973.38" stroke="#000" stroke-width="0.8"/>
<line x1="181.2" y1="962.91" x2="183.4" y2="962.91" stroke="#000" stroke-width="0.8"/>
<line x1="181.2" y1="957.59" x2="183.4" y2="957.59" stroke="#000" stroke-width="0.8"/>
<line x1="181.2" y1="953.82" x2="183.4" y2="953.82" stroke="#000" stroke-width="0.8"/>
<line x1="181.2" y1="950.89" x2="183.4" y2="950.89" stroke="#000" stroke-width="0.8"/>
<line x1="181.2" y1="948.5" x2="183.4" y2="948.5" stroke="#000" stroke-width="0.8"/>
<line x1="181.2" y1="946.48" x2="183.4" y2="946.48" stroke="#000" stroke-width="0.8"/>
<line x1="181.2" y1="944.73" x2="183.4" y2="944.73" stroke="#000" stroke-width="0.8"/>
<line x1="181.2" y1="943.18" x2="183.4" y2="943.18" stroke="#000" stroke-width="0.8"/>
<line x1="181.2" y1="1004.65" x2="183.4" y2="1004.65" stroke="#000" stroke-width="0.7"/>
<line x1="181.2" y1="1007.1" x2="183.4" y2="1007.1" stroke="#000" stroke-width="0.7"/>
<line x1="181.2" y1="1009.55" x2="183.4" y2="1009.55" stroke="#000" stroke-width="0.7"/>
<line x1="181.2" y1="1012" x2="183.4" y2="1012" stroke="#000" stroke-width="0.7"/>
<line x1="181.2" y1="1014.45" x2="183.4" y2="1014.45" stroke="#000" stroke-width="0.7"/>
<line x1="181.2" y1="1016.9" x2="183.4" y2="1016.9" stroke="#000" stroke-width="0.7"/>
<line x1="181.2" y1="1019.35" x2="183.4" y2="1019.35" stroke="#000" stroke-width="0.7"/>
<line x1="181.2" y1="1021.8" x2="183.4" y2="1021.8" stroke="#000" stroke-width="0.7"/>
<line x1="181.2" y1="1024.25" x2="183.4" y2="1024.25" stroke="#000" stroke-width="0.7"/>
<line x1="181.2" y1="1026.7" x2="183.4" y2="1026.7" stroke="#000" stroke-width="0.7"/>
<line x1="181.2" y1="1029.15" x2="183.4" y2="1029.15" stroke="#000" stroke-width="0.7"/>
<line x1="181.2" y1="1031.6" x2="183.4" y2="1031.6" stroke="#000" stroke-width="0.7"/>
<line x1="181.2" y1="1034.05" x2="183.4" y2="1034.05" stroke="#000" stroke-width="0.7"/>
<line x1="181.2" y1="1036.5" x2="183.4" y2="1036.5" stroke="#000" stroke-width="0.7"/>
<line x1="181.2" y1="1038.95" x2="183.4" y2="1038.95" stroke="#000" stroke-width="0.7"/>
<rect x="179.1" y="1018.2" width="3.8" height="6.6" fill="#111"/>
<line x1="190" y1="1050.2" x2="190" y2="1053.7" stroke="#000" stroke-width="1.3"/>
<line x1="209.8" y1="1050.2" x2="209.8" y2="1053.7" stroke="#000" stroke-width="1.3"/>
<line x1="229.4" y1="1050.2" x2="229.4" y2="1053.7" stroke="#000" stroke-width="1.3"/>
<line x1="261.6" y1="1050.2" x2="261.6" y2="1053.7" stroke="#000" stroke-width="1.3"/>
<line x1="289.7" y1="1050.2" x2="289.7" y2="1053.7" stroke="#000" stroke-width="1.3"/>
<line x1="238.48" y1="1050.2" x2="238.48" y2="1052.2" stroke="#000" stroke-width="0.8"/>
<line x1="243.79" y1="1050.2" x2="243.79" y2="1052.2" stroke="#000" stroke-width="0.8"/>
<line x1="247.55" y1="1050.2" x2="247.55" y2="1052.2" stroke="#000" stroke-width="0.8"/>
<line x1="250.47" y1="1050.2" x2="250.47" y2="1052.2" stroke="#000" stroke-width="0.8"/>
<line x1="252.86" y1="1050.2" x2="252.86" y2="1052.2" stroke="#000" stroke-width="0.8"/>
<line x1="254.88" y1="1050.2" x2="254.88" y2="1052.2" stroke="#000" stroke-width="0.8"/>
<line x1="256.63" y1="1050.2" x2="256.63" y2="1052.2" stroke="#000" stroke-width="0.8"/>
<line x1="258.17" y1="1050.2" x2="258.17" y2="1052.2" stroke="#000" stroke-width="0.8"/>
<line x1="268.63" y1="1050.2" x2="268.63" y2="1052.2" stroke="#000" stroke-width="0.8"/>
<line x1="273.94" y1="1050.2" x2="273.94" y2="1052.2" stroke="#000" stroke-width="0.8"/>
<line x1="277.7" y1="1050.2" x2="277.7" y2="1052.2" stroke="#000" stroke-width="0.8"/>
<line x1="280.62" y1="1050.2" x2="280.62" y2="1052.2" stroke="#000" stroke-width="0.8"/>
<line x1="283.01" y1="1050.2" x2="283.01" y2="1052.2" stroke="#000" stroke-width="0.8"/>
<line x1="285.03" y1="1050.2" x2="285.03" y2="1052.2" stroke="#000" stroke-width="0.8"/>
<line x1="286.78" y1="1050.2" x2="286.78" y2="1052.2" stroke="#000" stroke-width="0.8"/>
<line x1="288.32" y1="1050.2" x2="288.32" y2="1052.2" stroke="#000" stroke-width="0.8"/>
<line x1="192.46" y1="1050.2" x2="192.46" y2="1052.2" stroke="#000" stroke-width="0.7"/>
<line x1="194.93" y1="1050.2" x2="194.93" y2="1052.2" stroke="#000" stroke-width="0.7"/>
<line x1="197.39" y1="1050.2" x2="197.39" y2="1052.2" stroke="#000" stroke-width="0.7"/>
<line x1="199.85" y1="1050.2" x2="199.85" y2="1052.2" stroke="#000" stroke-width="0.7"/>
<line x1="202.31" y1="1050.2" x2="202.31" y2="1052.2" stroke="#000" stroke-width="0.7"/>
<line x1="204.78" y1="1050.2" x2="204.78" y2="1052.2" stroke="#000" stroke-width="0.7"/>
<line x1="207.24" y1="1050.2" x2="207.24" y2="1052.2" stroke="#000" stroke-width="0.7"/>
<line x1="209.7" y1="1050.2" x2="209.7" y2="1052.2" stroke="#000" stroke-width="0.7"/>
<line x1="212.16" y1="1050.2" x2="212.16" y2="1052.2" stroke="#000" stroke-width="0.7"/>
<line x1="214.62" y1="1050.2" x2="214.62" y2="1052.2" stroke="#000" stroke-width="0.7"/>
<line x1="217.09" y1="1050.2" x2="217.09" y2="1052.2" stroke="#000" stroke-width="0.7"/>
<line x1="219.55" y1="1050.2" x2="219.55" y2="1052.2" stroke="#000" stroke-width="0.7"/>
<line x1="222.01" y1="1050.2" x2="222.01" y2="1052.2" stroke="#000" stroke-width="0.7"/>
<line x1="224.47" y1="1050.2" x2="224.47" y2="1052.2" stroke="#000" stroke-width="0.7"/>
<line x1="226.94" y1="1050.2" x2="226.94" y2="1052.2" stroke="#000" stroke-width="0.7"/>
<rect x="206.8" y="1050.8" width="6" height="2.4" fill="#111"/>
<text x="189.5" y="1068.6" font-size="10.6" text-anchor="middle" fill="#000" font-weight="normal" font-style="normal">−10<tspan dy="-4.5" font-size="8.1">3</tspan></text>
<text x="209.8" y="1068.6" font-size="10.6" text-anchor="middle" fill="#000" font-weight="normal" font-style="normal">0</text>
<text x="230.9" y="1068.6" font-size="10.6" text-anchor="middle" fill="#000" font-weight="normal" font-style="normal">10<tspan dy="-4.5" font-size="8.1">3</tspan></text>
<text x="263.1" y="1068.6" font-size="10.6" text-anchor="middle" fill="#000" font-weight="normal" font-style="normal">10<tspan dy="-4.5" font-size="8.1">4</tspan></text>
<text x="291.2" y="1068.6" font-size="10.6" text-anchor="middle" fill="#000" font-weight="normal" font-style="normal">10<tspan dy="-4.5" font-size="8.1">5</tspan></text>
<polygon points="17.9,932.5 11.8,946.4 24.0,946.4" fill="#000"/>
<line x1="17.9" y1="945" x2="17.9" y2="956.7" stroke="#000" stroke-width="1.3"/>
<text x="21.6" y="993" font-size="13" text-anchor="middle" fill="#000" font-weight="normal" font-style="normal" transform="rotate(-90 21.6 993)">CD45</text>
<line x1="17.9" y1="1024.4" x2="17.9" y2="1082.8" stroke="#000" stroke-width="1.3"/>
<line x1="17.3" y1="1082.5" x2="143.8" y2="1082.5" stroke="#000" stroke-width="1.3"/>
<line x1="215.8" y1="1082.7" x2="292" y2="1082.7" stroke="#000" stroke-width="1.3"/>
<polygon points="304.6,1082.7 290.6,1076.9 290.6,1088.5" fill="#000"/>
<text x="159.2" y="1087.4" font-size="13" text-anchor="start" fill="#000" font-weight="normal" font-style="normal">F4/80</text>
<line x1="369.2" y1="930.5" x2="369.2" y2="1050.5" stroke="#000" stroke-width="1.4"/>
<line x1="368.5" y1="1049.9" x2="488.7" y2="1049.9" stroke="#000" stroke-width="1.4"/>
<line x1="365.6" y1="1049.9" x2="369.2" y2="1049.9" stroke="#000" stroke-width="1.2"/>
<text x="360.4" y="1053.7" font-size="10.6" text-anchor="end" fill="#000" font-weight="normal" font-style="normal">0</text>
<line x1="365.6" y1="1026.14" x2="369.2" y2="1026.14" stroke="#000" stroke-width="1.2"/>
<text x="360.4" y="1029.94" font-size="10.6" text-anchor="end" fill="#000" font-weight="normal" font-style="normal">20</text>
<line x1="365.6" y1="1002.38" x2="369.2" y2="1002.38" stroke="#000" stroke-width="1.2"/>
<text x="360.4" y="1006.18" font-size="10.6" text-anchor="end" fill="#000" font-weight="normal" font-style="normal">40</text>
<line x1="365.6" y1="978.62" x2="369.2" y2="978.62" stroke="#000" stroke-width="1.2"/>
<text x="360.4" y="982.42" font-size="10.6" text-anchor="end" fill="#000" font-weight="normal" font-style="normal">60</text>
<line x1="365.6" y1="954.86" x2="369.2" y2="954.86" stroke="#000" stroke-width="1.2"/>
<text x="360.4" y="958.66" font-size="10.6" text-anchor="end" fill="#000" font-weight="normal" font-style="normal">80</text>
<line x1="365.6" y1="931.1" x2="369.2" y2="931.1" stroke="#000" stroke-width="1.2"/>
<text x="360.4" y="934.9" font-size="10.6" text-anchor="end" fill="#000" font-weight="normal" font-style="normal">100</text>
<rect x="387.95" y="1008.45" width="31.1" height="41.45" fill="#e1e1e1" stroke="#a2a2a2" stroke-width="1.9"/>
<rect x="439.75" y="962.25" width="30.6" height="87.65" fill="#e1e1e1" stroke="#a2a2a2" stroke-width="1.9"/>
<g stroke="#999" stroke-width="1">
<line x1="403.5" y1="1002.8" x2="403.5" y2="1011.4" stroke="#7e7e7e" stroke-width="1.1"/>
<line x1="395.1" y1="1002.8" x2="411.9" y2="1002.8" stroke="#999" stroke-width="1"/>
<line x1="395.1" y1="1011.4" x2="411.9" y2="1011.4" stroke="#999" stroke-width="1"/>
</g>
<circle cx="400.1" cy="996.7" r="2.6" fill="#5c5c5c"/>
<circle cx="410.6" cy="1004.1" r="2.6" fill="#5c5c5c"/>
<circle cx="406.7" cy="1011.2" r="2.6" fill="#5c5c5c"/>
<circle cx="400.1" cy="1016.7" r="2.6" fill="#5c5c5c"/>
<g stroke="#999" stroke-width="1">
<line x1="455.05" y1="958.9" x2="455.05" y2="963.4" stroke="#7e7e7e" stroke-width="1.1"/>
<line x1="446.65" y1="958.9" x2="463.45" y2="958.9" stroke="#999" stroke-width="1"/>
<line x1="446.65" y1="963.4" x2="463.45" y2="963.4" stroke="#999" stroke-width="1"/>
</g>
<circle cx="454.5" cy="953.6" r="2.6" fill="#5c5c5c"/>
<circle cx="443.5" cy="962" r="2.6" fill="#5c5c5c"/>
<circle cx="450.6" cy="964.7" r="2.6" fill="#5c5c5c"/>
<circle cx="457.9" cy="962" r="2.6" fill="#5c5c5c"/>
<circle cx="465.3" cy="960" r="2.6" fill="#5c5c5c"/>
<text x="338.5" y="989.5" font-size="11.3" text-anchor="middle" fill="#000" font-weight="normal" font-style="normal" transform="rotate(-90 338.5 989.5)">F4/80<tspan dy="-3.9" font-size="8.5">Int</tspan><tspan dy="3.9"> (%)</tspan></text>
<text x="403.5" y="1064.6" font-size="11.3" text-anchor="middle" fill="#000" font-weight="normal" font-style="normal">CO</text>
<text x="456.1" y="1064.6" font-size="11.3" text-anchor="middle" fill="#000" font-weight="normal" font-style="normal">Clod+</text>
<text x="456.1" y="1077.8" font-size="11.3" text-anchor="middle" fill="#000" font-weight="normal" font-style="normal">aCSF1</text>
<polygon points="425.1,938.1 425.89,939.91 427.86,940.1 426.38,941.42 426.8,943.35 425.1,942.35 423.4,943.35 423.82,941.42 422.34,940.1 424.31,939.91" fill="#000"/>
<line x1="564.3" y1="930.2" x2="564.3" y2="1050.2" stroke="#000" stroke-width="1.4"/>
<line x1="563.6" y1="1049.6" x2="684.5" y2="1049.6" stroke="#000" stroke-width="1.4"/>
<line x1="560.7" y1="1049.6" x2="564.3" y2="1049.6" stroke="#000" stroke-width="1.2"/>
<text x="555.5" y="1053.4" font-size="10.6" text-anchor="end" fill="#000" font-weight="normal" font-style="normal">0</text>
<line x1="560.7" y1="1025.84" x2="564.3" y2="1025.84" stroke="#000" stroke-width="1.2"/>
<text x="555.5" y="1029.64" font-size="10.6" text-anchor="end" fill="#000" font-weight="normal" font-style="normal">20</text>
<line x1="560.7" y1="1002.08" x2="564.3" y2="1002.08" stroke="#000" stroke-width="1.2"/>
<text x="555.5" y="1005.88" font-size="10.6" text-anchor="end" fill="#000" font-weight="normal" font-style="normal">40</text>
<line x1="560.7" y1="978.32" x2="564.3" y2="978.32" stroke="#000" stroke-width="1.2"/>
<text x="555.5" y="982.12" font-size="10.6" text-anchor="end" fill="#000" font-weight="normal" font-style="normal">60</text>
<line x1="560.7" y1="954.56" x2="564.3" y2="954.56" stroke="#000" stroke-width="1.2"/>
<text x="555.5" y="958.36" font-size="10.6" text-anchor="end" fill="#000" font-weight="normal" font-style="normal">80</text>
<line x1="560.7" y1="930.8" x2="564.3" y2="930.8" stroke="#000" stroke-width="1.2"/>
<text x="555.5" y="934.6" font-size="10.6" text-anchor="end" fill="#000" font-weight="normal" font-style="normal">100</text>
<rect x="583.35" y="992.55" width="31.4" height="57.05" fill="#e1e1e1" stroke="#a2a2a2" stroke-width="1.9"/>
<rect x="635.15" y="1047.35" width="30.1" height="2.25" fill="#e1e1e1" stroke="#a2a2a2" stroke-width="1.9"/>
<g stroke="#999" stroke-width="1">
<line x1="599.05" y1="988.9" x2="599.05" y2="995.1" stroke="#7e7e7e" stroke-width="1.1"/>
<line x1="590.65" y1="988.9" x2="607.45" y2="988.9" stroke="#999" stroke-width="1"/>
<line x1="590.65" y1="995.1" x2="607.45" y2="995.1" stroke="#999" stroke-width="1"/>
</g>
<circle cx="606.1" cy="984.3" r="2.6" fill="#5c5c5c"/>
<circle cx="591.8" cy="989.7" r="2.6" fill="#5c5c5c"/>
<circle cx="598.6" cy="991.6" r="2.6" fill="#5c5c5c"/>
<circle cx="598.8" cy="1000.2" r="2.6" fill="#5c5c5c"/>
<circle cx="636.4" cy="1043.4" r="2.6" fill="#5c5c5c"/>
<circle cx="643.1" cy="1045.6" r="2.6" fill="#5c5c5c"/>
<circle cx="649.9" cy="1046.4" r="2.6" fill="#5c5c5c"/>
<circle cx="656.6" cy="1046.1" r="2.6" fill="#5c5c5c"/>
<circle cx="663.4" cy="1045" r="2.6" fill="#5c5c5c"/>
<text x="533.2" y="989.2" font-size="11.3" text-anchor="middle" fill="#f08a24" font-weight="normal" font-style="normal" transform="rotate(-90 533.2 989.2)">F4/80<tspan dy="-3.9" font-size="8.5">Hi</tspan><tspan dy="3.9"> (%)</tspan></text>
<text x="596.6" y="1064.6" font-size="11.3" text-anchor="middle" fill="#000" font-weight="normal" font-style="normal">CO</text>
<text x="651.4" y="1064.6" font-size="11.3" text-anchor="middle" fill="#000" font-weight="normal" font-style="normal">Clod+</text>
<text x="651.4" y="1077.8" font-size="11.3" text-anchor="middle" fill="#000" font-weight="normal" font-style="normal">aCSF1</text>
<polygon points="624.2,938.7 624.99,940.51 626.96,940.7 625.48,942.02 625.9,943.95 624.2,942.95 622.5,943.95 622.92,942.02 621.44,940.7 623.41,940.51" fill="#000"/>
<g fill="none" stroke="#000" stroke-linecap="round" stroke-linejoin="round"><path d="M19.8,732.8 C20.2,730.2 24.4,729.6 25.2,732.4 C26.0,735.6 25.6,739.9 29.6,739.7 C33.2,739.5 35.6,735.2 38.6,733.3 C42.2,731.2 48.4,731.8 52.8,733.4" stroke-width="2.6"/><circle cx="56.1" cy="734.4" r="3.1" stroke-width="2.2"/></g>
<circle cx="52.6" cy="740.2" r="1.5" fill="#000"/>
<line x1="53.6" y1="736.6" x2="52.8" y2="739.6" stroke="#000" stroke-width="1.6"/>
<polygon points="34.3,742.8 56.9,742.8 56.6,739.6 66.6,746.0 34.3,746.0" fill="#000"/>
<g transform="translate(29.2 722.9) rotate(50)"><rect x="-7.6" y="-2.5" width="15.2" height="5.0" fill="#fff" stroke="#000" stroke-width="1.2"/><g stroke="#000" stroke-width="0.8"><line x1="-4.5" y1="-1.3" x2="-4.5" y2="1.3"/><line x1="-2" y1="-1.3" x2="-2" y2="1.3"/><line x1="0.5" y1="-1.3" x2="0.5" y2="1.3"/><line x1="3" y1="-1.3" x2="3" y2="1.3"/></g><polygon points="7.4,-2.3 9.6,-0.6 9.6,0.6 7.4,2.3" fill="#000"/><line x1="9.6" y1="0" x2="12.6" y2="0" stroke="#000" stroke-width="0.9"/><line x1="-7.4" y1="0" x2="-9.8" y2="0" stroke="#000" stroke-width="1.4"/><line x1="-8.6" y1="-2.6" x2="-8.6" y2="2.6" stroke="#000" stroke-width="1.4"/><circle cx="-10.6" cy="0" r="1.2" fill="#000"/></g>
<g transform="translate(117.5 94.7) rotate(-10)"><ellipse rx="22" ry="8" fill="url(#g_faint)"/><g fill="none" stroke="#888" stroke-width="0.45" opacity="0.7"><ellipse rx="22" ry="8"/><ellipse rx="19.8" ry="7.2"/><ellipse rx="17.6" ry="6.4"/><ellipse rx="15.4" ry="5.6"/></g></g>
<g transform="translate(107.5 78.7) rotate(-18)"><ellipse rx="27" ry="16.5" fill="url(#g_faint)"/><g fill="none" stroke="#999" stroke-width="0.45" opacity="0.7"><ellipse rx="27" ry="16.5"/><ellipse rx="24.98" ry="15.26"/><ellipse rx="22.95" ry="14.03"/></g></g>
<g transform="translate(94 75.7) rotate(0)"><ellipse rx="13" ry="14" fill="url(#g_vdark)"/><g fill="none" stroke="#444" stroke-width="0.4" opacity="0.8"><ellipse rx="13" ry="14"/><ellipse rx="11.48" ry="12.37"/><ellipse rx="9.97" ry="10.73"/><ellipse rx="8.45" ry="9.1"/><ellipse rx="6.93" ry="7.47"/><ellipse rx="5.42" ry="5.83"/><ellipse rx="3.9" ry="4.2"/></g></g>
<g transform="translate(120.3 74.9) rotate(-38)"><ellipse rx="22.5" ry="12.5" fill="url(#g_med)"/><g fill="none" stroke="#5a5a5a" stroke-width="0.4" opacity="0.7"><ellipse rx="22.5" ry="12.5"/><ellipse rx="19.77" ry="10.98"/><ellipse rx="17.04" ry="9.46"/><ellipse rx="14.3" ry="7.95"/><ellipse rx="11.57" ry="6.43"/><ellipse rx="8.84" ry="4.91"/><ellipse rx="6.11" ry="3.39"/><ellipse rx="3.38" ry="1.88"/></g></g>
<g transform="translate(141.4 87.3) rotate(-58)"><ellipse rx="17.5" ry="10.5" fill="url(#g_med)"/><g fill="none" stroke="#5a5a5a" stroke-width="0.4" opacity="0.7"><ellipse rx="17.5" ry="10.5"/><ellipse rx="14.93" ry="8.96"/><ellipse rx="12.37" ry="7.42"/><ellipse rx="9.8" ry="5.88"/><ellipse rx="7.23" ry="4.34"/><ellipse rx="4.67" ry="2.8"/><ellipse rx="2.1" ry="1.26"/></g></g>
<ellipse cx="118.8" cy="75" rx="27.5" ry="14" transform="rotate(-41 118.8 75)" fill="none" stroke="#2323e6" stroke-width="2"/>
<ellipse cx="147.4" cy="86.3" rx="29" ry="15" transform="rotate(-40 147.4 86.3)" fill="none" stroke="#e8282d" stroke-width="2"/>
<g transform="translate(235.4 77.7) rotate(-18)"><ellipse rx="27" ry="17" fill="url(#g_faint)"/><g fill="none" stroke="#999" stroke-width="0.45" opacity="0.7"><ellipse rx="27" ry="17"/><ellipse rx="24.98" ry="15.73"/><ellipse rx="22.95" ry="14.45"/></g></g>
<g transform="translate(221.2 77.8) rotate(0)"><ellipse rx="13.5" ry="16" fill="url(#g_vdark)"/><g fill="none" stroke="#444" stroke-width="0.4" opacity="0.8"><ellipse rx="13.5" ry="16"/><ellipse rx="11.92" ry="14.13"/><ellipse rx="10.35" ry="12.27"/><ellipse rx="8.78" ry="10.4"/><ellipse rx="7.2" ry="8.53"/><ellipse rx="5.62" ry="6.67"/><ellipse rx="4.05" ry="4.8"/></g></g>
<g transform="translate(247.9 74.2) rotate(-40)"><ellipse rx="22.5" ry="12.8" fill="url(#g_med)"/><g fill="none" stroke="#5a5a5a" stroke-width="0.4" opacity="0.7"><ellipse rx="22.5" ry="12.8"/><ellipse rx="20.11" ry="11.44"/><ellipse rx="17.72" ry="10.08"/><ellipse rx="15.33" ry="8.72"/><ellipse rx="12.94" ry="7.36"/><ellipse rx="10.55" ry="6"/><ellipse rx="8.16" ry="4.64"/><ellipse rx="5.77" ry="3.28"/><ellipse rx="3.38" ry="1.92"/></g></g>
<g transform="translate(272.9 85.2) rotate(-55)"><ellipse rx="21" ry="11.5" fill="url(#g_med)"/><g fill="none" stroke="#5a5a5a" stroke-width="0.4" opacity="0.7"><ellipse rx="21" ry="11.5"/><ellipse rx="18.3" ry="10.02"/><ellipse rx="15.6" ry="8.54"/><ellipse rx="12.9" ry="7.06"/><ellipse rx="10.2" ry="5.59"/><ellipse rx="7.5" ry="4.11"/><ellipse rx="4.8" ry="2.63"/><ellipse rx="2.1" ry="1.15"/></g></g>
<ellipse cx="246.7" cy="75" rx="27.5" ry="14" transform="rotate(-41 246.7 75)" fill="none" stroke="#2323e6" stroke-width="2"/>
<ellipse cx="275.3" cy="86.3" rx="29" ry="15" transform="rotate(-40 275.3 86.3)" fill="none" stroke="#e8282d" stroke-width="2"/>
<g transform="translate(119.5 236.5) rotate(-30)"><ellipse rx="31" ry="15" fill="url(#g_faint)"/><g fill="none" stroke="#999" stroke-width="0.45" opacity="0.7"><ellipse rx="31" ry="15"/><ellipse rx="29.14" ry="14.1"/><ellipse rx="27.28" ry="13.2"/><ellipse rx="25.42" ry="12.3"/></g></g>
<g transform="translate(113.5 232.5) rotate(-28)"><ellipse rx="17.5" ry="9.5" fill="url(#g_dark)"/><g fill="none" stroke="#5a5a5a" stroke-width="0.4" opacity="0.7"><ellipse rx="17.5" ry="9.5"/><ellipse rx="14.52" ry="7.88"/><ellipse rx="11.55" ry="6.27"/><ellipse rx="8.57" ry="4.66"/><ellipse rx="5.6" ry="3.04"/><ellipse rx="2.63" ry="1.43"/></g></g>
<g transform="translate(127 224.5) rotate(-50)"><ellipse rx="12" ry="6.5" fill="url(#g_med)"/><g fill="none" stroke="#5a5a5a" stroke-width="0.4" opacity="0.7"><ellipse rx="12" ry="6.5"/><ellipse rx="8.8" ry="4.77"/><ellipse rx="5.6" ry="3.03"/><ellipse rx="2.4" ry="1.3"/></g></g>
<g transform="translate(134.5 240.5) rotate(-60)"><ellipse rx="14.5" ry="11" fill="url(#g_dark)"/><g fill="none" stroke="#5a5a5a" stroke-width="0.4" opacity="0.7"><ellipse rx="14.5" ry="11"/><ellipse rx="12.45" ry="9.44"/><ellipse rx="10.39" ry="7.88"/><ellipse rx="8.34" ry="6.32"/><ellipse rx="6.28" ry="4.77"/><ellipse rx="4.23" ry="3.21"/><ellipse rx="2.18" ry="1.65"/></g></g>
<polygon points="96.5,234.1 131.5,208.5 147,214.7 112.5,252.3" fill="none" stroke="#111" stroke-width="2" stroke-linejoin="miter"/>
<polygon points="148.3,215.7 161.5,233.7 126.5,264.3 114.1,253.5" fill="none" stroke="#f08a24" stroke-width="2" stroke-linejoin="miter"/>
<g fill="#555"><circle cx="232.99" cy="265.79" r="0.45"/><circle cx="222" cy="234.8" r="0.45"/><circle cx="211.57" cy="245.94" r="0.45"/><circle cx="212.2" cy="225.38" r="0.45"/><circle cx="223.19" cy="247.37" r="0.45"/><circle cx="226.32" cy="232.7" r="0.45"/><circle cx="221.45" cy="244.59" r="0.45"/><circle cx="207.85" cy="253.03" r="0.45"/><circle cx="224.29" cy="278.95" r="0.45"/><circle cx="223.23" cy="243.47" r="0.45"/><circle cx="232.49" cy="248.28" r="0.45"/><circle cx="229.58" cy="240.38" r="0.45"/><circle cx="223.36" cy="259.84" r="0.45"/><circle cx="227.67" cy="247.3" r="0.45"/><circle cx="211.66" cy="251.73" r="0.45"/><circle cx="222.09" cy="255.59" r="0.45"/><circle cx="223.35" cy="260.73" r="0.45"/><circle cx="220.94" cy="248.33" r="0.45"/><circle cx="227.4" cy="230.28" r="0.45"/><circle cx="217.79" cy="238.5" r="0.45"/><circle cx="239.23" cy="244.2" r="0.45"/><circle cx="227.27" cy="254.17" r="0.45"/><circle cx="218.87" cy="223.79" r="0.45"/><circle cx="230.08" cy="239.8" r="0.45"/><circle cx="227.86" cy="227.23" r="0.45"/><circle cx="217.46" cy="263.1" r="0.45"/><circle cx="234.28" cy="227.27" r="0.45"/><circle cx="209.4" cy="244.88" r="0.45"/><circle cx="227.95" cy="247.75" r="0.45"/><circle cx="224.13" cy="231.66" r="0.45"/><circle cx="226.68" cy="261.14" r="0.45"/><circle cx="217.48" cy="225.43" r="0.45"/><circle cx="214.57" cy="256.16" r="0.45"/><circle cx="205.8" cy="244.21" r="0.45"/><circle cx="212.48" cy="243.66" r="0.45"/><circle cx="219.2" cy="245.72" r="0.45"/><circle cx="234.91" cy="251.39" r="0.45"/><circle cx="233.4" cy="243.52" r="0.45"/><circle cx="217.08" cy="250.8" r="0.45"/><circle cx="195.88" cy="244.94" r="0.45"/></g>
<g transform="translate(241.4 234.5) rotate(-20)"><ellipse rx="13" ry="7.5" fill="url(#g_light)"/><g fill="none" stroke="#777" stroke-width="0.4" opacity="0.7"><ellipse rx="13" ry="7.5"/><ellipse rx="10.4" ry="6"/><ellipse rx="7.8" ry="4.5"/><ellipse rx="5.2" ry="3"/><ellipse rx="2.6" ry="1.5"/></g></g>
<g transform="translate(257.8 223.5) rotate(-40)"><ellipse rx="10" ry="6.5" fill="url(#g_light)"/><g fill="none" stroke="#777" stroke-width="0.4" opacity="0.7"><ellipse rx="10" ry="6.5"/><ellipse rx="7.33" ry="4.77"/><ellipse rx="4.67" ry="3.03"/><ellipse rx="2" ry="1.3"/></g></g>
<g transform="translate(265.4 235.7) rotate(-50)"><ellipse rx="22.5" ry="11.5" fill="url(#g_dark)"/><g fill="none" stroke="#5a5a5a" stroke-width="0.4" opacity="0.7"><ellipse rx="22.5" ry="11.5"/><ellipse rx="19.67" ry="10.05"/><ellipse rx="16.84" ry="8.61"/><ellipse rx="14.01" ry="7.16"/><ellipse rx="11.19" ry="5.72"/><ellipse rx="8.36" ry="4.27"/><ellipse rx="5.53" ry="2.83"/><ellipse rx="2.7" ry="1.38"/></g></g>
<polygon points="224.4,234.1 259.4,208.5 274.9,214.7 240.4,252.3" fill="none" stroke="#111" stroke-width="2" stroke-linejoin="miter"/>
<polygon points="276.2,215.7 289.4,233.7 254.4,264.3 242,253.5" fill="none" stroke="#f08a24" stroke-width="2" stroke-linejoin="miter"/>
<g fill="#555"><circle cx="116.21" cy="400.86" r="0.4"/><circle cx="100.66" cy="406.53" r="0.4"/><circle cx="104.18" cy="395.69" r="0.4"/><circle cx="94.18" cy="400.24" r="0.4"/><circle cx="88.9" cy="399.59" r="0.4"/><circle cx="93.4" cy="403.49" r="0.4"/><circle cx="90.25" cy="408.45" r="0.4"/><circle cx="93.12" cy="383.12" r="0.4"/><circle cx="107.03" cy="402.76" r="0.4"/><circle cx="91.55" cy="407.38" r="0.4"/><circle cx="99.34" cy="405.87" r="0.4"/><circle cx="90.66" cy="406.84" r="0.4"/><circle cx="85.2" cy="415.6" r="0.4"/><circle cx="87.38" cy="404.05" r="0.4"/><circle cx="97.65" cy="407.03" r="0.4"/><circle cx="95.53" cy="408.88" r="0.4"/><circle cx="68.42" cy="403.86" r="0.4"/><circle cx="95.18" cy="401.56" r="0.4"/><circle cx="108.71" cy="397.75" r="0.4"/><circle cx="95.8" cy="390.33" r="0.4"/><circle cx="98.64" cy="393.18" r="0.4"/><circle cx="83.83" cy="421.16" r="0.4"/><circle cx="102.11" cy="404.52" r="0.4"/><circle cx="97.82" cy="394.41" r="0.4"/><circle cx="87.95" cy="407.57" r="0.4"/><circle cx="79.34" cy="406.5" r="0.4"/><circle cx="82.4" cy="405.43" r="0.4"/><circle cx="87.43" cy="417.01" r="0.4"/><circle cx="104.69" cy="400.91" r="0.4"/><circle cx="81.11" cy="399" r="0.4"/><circle cx="95.98" cy="397.53" r="0.4"/><circle cx="98.75" cy="411.61" r="0.4"/><circle cx="96" cy="401.49" r="0.4"/><circle cx="102.79" cy="402.48" r="0.4"/><circle cx="103.35" cy="402.32" r="0.4"/><circle cx="109.57" cy="402.6" r="0.4"/><circle cx="87.84" cy="405.27" r="0.4"/><circle cx="91.32" cy="397.91" r="0.4"/><circle cx="95.43" cy="409.92" r="0.4"/><circle cx="78.89" cy="404.28" r="0.4"/><circle cx="95.24" cy="403.56" r="0.4"/><circle cx="103.01" cy="395.32" r="0.4"/><circle cx="101.86" cy="403" r="0.4"/><circle cx="97.41" cy="403.07" r="0.4"/><circle cx="93.84" cy="400.92" r="0.4"/><circle cx="99.89" cy="419.63" r="0.4"/><circle cx="105.14" cy="410.77" r="0.4"/><circle cx="101.14" cy="401.33" r="0.4"/><circle cx="101.55" cy="419.49" r="0.4"/><circle cx="86.25" cy="410.68" r="0.4"/><circle cx="104.94" cy="406.82" r="0.4"/><circle cx="103.14" cy="414.73" r="0.4"/><circle cx="114.75" cy="414.16" r="0.4"/><circle cx="110.27" cy="407.29" r="0.4"/><circle cx="103.59" cy="406.21" r="0.4"/><circle cx="99.31" cy="401.73" r="0.4"/><circle cx="102.46" cy="415.32" r="0.4"/><circle cx="95.71" cy="406.87" r="0.4"/><circle cx="102.08" cy="405.25" r="0.4"/><circle cx="104.66" cy="406.95" r="0.4"/><circle cx="87.63" cy="397.86" r="0.4"/><circle cx="103" cy="409.64" r="0.4"/><circle cx="106.07" cy="406.97" r="0.4"/><circle cx="98.82" cy="394.07" r="0.4"/><circle cx="108.46" cy="398.71" r="0.4"/><circle cx="105.62" cy="397.18" r="0.4"/><circle cx="91.86" cy="406.35" r="0.4"/><circle cx="93.79" cy="400.33" r="0.4"/><circle cx="104.49" cy="410.06" r="0.4"/><circle cx="100.45" cy="402.91" r="0.4"/><circle cx="90.62" cy="401.94" r="0.4"/><circle cx="93.06" cy="405.14" r="0.4"/><circle cx="103.5" cy="404.14" r="0.4"/><circle cx="90.94" cy="400.98" r="0.4"/><circle cx="107.66" cy="406.51" r="0.4"/><circle cx="99.24" cy="407.35" r="0.4"/><circle cx="102.14" cy="406.37" r="0.4"/><circle cx="106.86" cy="411.13" r="0.4"/><circle cx="74.62" cy="404.46" r="0.4"/><circle cx="121.14" cy="396.41" r="0.4"/><circle cx="98.45" cy="413.05" r="0.4"/><circle cx="97.45" cy="414.86" r="0.4"/><circle cx="87.29" cy="396.66" r="0.4"/><circle cx="95.95" cy="400.28" r="0.4"/><circle cx="88.84" cy="409.48" r="0.4"/><circle cx="99.65" cy="405.56" r="0.4"/><circle cx="94.24" cy="407.34" r="0.4"/><circle cx="96.53" cy="400.37" r="0.4"/><circle cx="101.6" cy="408.1" r="0.4"/><circle cx="98.15" cy="410.37" r="0.4"/></g>
<g transform="translate(91.4 391.2) rotate(-5)"><ellipse rx="10" ry="8.5" fill="url(#g_light)"/><g fill="none" stroke="#888" stroke-width="0.4" opacity="0.7"><ellipse rx="10" ry="8.5"/><ellipse rx="8.4" ry="7.14"/><ellipse rx="6.8" ry="5.78"/><ellipse rx="5.2" ry="4.42"/><ellipse rx="3.6" ry="3.06"/><ellipse rx="2" ry="1.7"/></g></g>
<g transform="translate(118 385) rotate(-30)"><ellipse rx="23" ry="9.5" fill="url(#g_light)"/><g fill="none" stroke="#6a6a6a" stroke-width="0.4" opacity="0.7"><ellipse rx="23" ry="9.5"/><ellipse rx="19.63" ry="8.11"/><ellipse rx="16.25" ry="6.71"/><ellipse rx="12.88" ry="5.32"/><ellipse rx="9.51" ry="3.93"/><ellipse rx="6.13" ry="2.53"/><ellipse rx="2.76" ry="1.14"/></g></g>
<g transform="translate(130.1 396.8) rotate(-44)"><ellipse rx="30" ry="11.5" fill="url(#g_med)"/><g fill="none" stroke="#5a5a5a" stroke-width="0.4" opacity="0.7"><ellipse rx="30" ry="11.5"/><ellipse rx="26.48" ry="10.15"/><ellipse rx="22.95" ry="8.8"/><ellipse rx="19.42" ry="7.45"/><ellipse rx="15.9" ry="6.1"/><ellipse rx="12.38" ry="4.74"/><ellipse rx="8.85" ry="3.39"/><ellipse rx="5.32" ry="2.04"/><ellipse rx="1.8" ry="0.69"/></g></g>
<polygon points="94.8,388.1 129.2,364.1 143.1,371.8 98.7,415.2" fill="none" stroke="#111" stroke-width="2" stroke-linejoin="miter"/>
<polygon points="145.3,371.8 169.8,390.2 122.4,438.1 99,416.6" fill="none" stroke="#f08a24" stroke-width="2" stroke-linejoin="miter"/>
<g fill="#555"><circle cx="224.16" cy="406.75" r="0.4"/><circle cx="215.95" cy="404.43" r="0.4"/><circle cx="221.33" cy="393.15" r="0.4"/><circle cx="238.6" cy="396.92" r="0.4"/><circle cx="223.06" cy="402.07" r="0.4"/><circle cx="232.41" cy="395.22" r="0.4"/><circle cx="228.1" cy="386.74" r="0.4"/><circle cx="220.47" cy="391.56" r="0.4"/><circle cx="212.74" cy="381.92" r="0.4"/><circle cx="210.38" cy="393.35" r="0.4"/><circle cx="222.02" cy="392.62" r="0.4"/><circle cx="223.95" cy="383.48" r="0.4"/><circle cx="222.76" cy="397.64" r="0.4"/><circle cx="229.41" cy="387.88" r="0.4"/><circle cx="220.2" cy="377.36" r="0.4"/><circle cx="219.37" cy="375.73" r="0.4"/><circle cx="212.04" cy="405.41" r="0.4"/><circle cx="205.79" cy="402.69" r="0.4"/><circle cx="226.02" cy="392.69" r="0.4"/><circle cx="227.07" cy="400.25" r="0.4"/><circle cx="231.76" cy="393.43" r="0.4"/><circle cx="218.66" cy="390.06" r="0.4"/><circle cx="215.51" cy="395.1" r="0.4"/><circle cx="217.11" cy="405.12" r="0.4"/><circle cx="208.44" cy="385.66" r="0.4"/><circle cx="215.77" cy="376.66" r="0.4"/><circle cx="238.62" cy="373.82" r="0.4"/><circle cx="221.13" cy="390.77" r="0.4"/><circle cx="236.65" cy="377.63" r="0.4"/><circle cx="231.97" cy="388.92" r="0.4"/><circle cx="222.16" cy="389.46" r="0.4"/><circle cx="228.52" cy="385.26" r="0.4"/><circle cx="222.77" cy="398.68" r="0.4"/><circle cx="238.12" cy="373.85" r="0.4"/><circle cx="235.6" cy="404.03" r="0.4"/><circle cx="219.53" cy="398.24" r="0.4"/><circle cx="219.67" cy="410.32" r="0.4"/><circle cx="225.08" cy="393.56" r="0.4"/><circle cx="221.58" cy="393.7" r="0.4"/><circle cx="221.99" cy="387.59" r="0.4"/><circle cx="239.87" cy="378.3" r="0.4"/><circle cx="194.55" cy="394.39" r="0.4"/><circle cx="222.23" cy="398.85" r="0.4"/><circle cx="221.76" cy="394.17" r="0.4"/><circle cx="226.06" cy="404.22" r="0.4"/><circle cx="219.82" cy="392.14" r="0.4"/><circle cx="238.92" cy="400.27" r="0.4"/><circle cx="215.52" cy="416.42" r="0.4"/><circle cx="229.61" cy="390.2" r="0.4"/><circle cx="214" cy="398.18" r="0.4"/><circle cx="216.74" cy="385.98" r="0.4"/><circle cx="213.03" cy="390.94" r="0.4"/><circle cx="232.26" cy="391.6" r="0.4"/><circle cx="211.8" cy="401.52" r="0.4"/><circle cx="223.93" cy="403.09" r="0.4"/><circle cx="233.01" cy="393.98" r="0.4"/><circle cx="222.24" cy="395.09" r="0.4"/><circle cx="214.32" cy="401.52" r="0.4"/><circle cx="234.38" cy="397.06" r="0.4"/><circle cx="221.5" cy="393.16" r="0.4"/><circle cx="217.16" cy="388.26" r="0.4"/><circle cx="220.19" cy="387.92" r="0.4"/><circle cx="219.9" cy="381.3" r="0.4"/><circle cx="226.2" cy="395.94" r="0.4"/><circle cx="214.18" cy="374.82" r="0.4"/><circle cx="223.34" cy="405.44" r="0.4"/><circle cx="217.53" cy="391.15" r="0.4"/><circle cx="218.85" cy="401.38" r="0.4"/><circle cx="216.07" cy="404.37" r="0.4"/><circle cx="220.98" cy="403.82" r="0.4"/></g>
<g transform="translate(225.4 392.5) rotate(-10)"><ellipse rx="10" ry="7.5" fill="url(#g_light)"/><g fill="none" stroke="#888" stroke-width="0.4" opacity="0.7"><ellipse rx="10" ry="7.5"/><ellipse rx="8" ry="6"/><ellipse rx="6" ry="4.5"/><ellipse rx="4" ry="3"/><ellipse rx="2" ry="1.5"/></g></g>
<g transform="translate(241.4 388.5) rotate(-25)"><ellipse rx="16" ry="7.5" fill="url(#g_light)"/><g fill="none" stroke="#777" stroke-width="0.4" opacity="0.7"><ellipse rx="16" ry="7.5"/><ellipse rx="12.8" ry="6"/><ellipse rx="9.6" ry="4.5"/><ellipse rx="6.4" ry="3"/><ellipse rx="3.2" ry="1.5"/></g></g>
<g transform="translate(259.9 399.7) rotate(-40)"><ellipse rx="31" ry="13.5" fill="url(#g_med)"/><g fill="none" stroke="#5a5a5a" stroke-width="0.4" opacity="0.7"><ellipse rx="31" ry="13.5"/><ellipse rx="27.76" ry="12.09"/><ellipse rx="24.52" ry="10.68"/><ellipse rx="21.29" ry="9.27"/><ellipse rx="18.05" ry="7.86"/><ellipse rx="14.81" ry="6.45"/><ellipse rx="11.57" ry="5.04"/><ellipse rx="8.34" ry="3.63"/><ellipse rx="5.1" ry="2.22"/><ellipse rx="1.86" ry="0.81"/></g></g>
<polygon points="222.7,388.1 257.1,364.1 271,371.8 226.6,415.2" fill="none" stroke="#111" stroke-width="2" stroke-linejoin="miter"/>
<polygon points="273.2,371.8 297.7,390.2 250.3,438.1 226.9,416.6" fill="none" stroke="#f08a24" stroke-width="2" stroke-linejoin="miter"/>
<g fill="#555"><circle cx="103.82" cy="568.23" r="0.42"/><circle cx="96.58" cy="570.5" r="0.42"/><circle cx="115.66" cy="562.18" r="0.42"/><circle cx="119.37" cy="547.58" r="0.42"/><circle cx="99.73" cy="558.52" r="0.42"/><circle cx="90.15" cy="568.17" r="0.42"/><circle cx="106.1" cy="566.71" r="0.42"/><circle cx="116.9" cy="579.7" r="0.42"/><circle cx="107.16" cy="546.23" r="0.42"/><circle cx="101.91" cy="558.32" r="0.42"/><circle cx="99.46" cy="578.62" r="0.42"/><circle cx="91.05" cy="550.2" r="0.42"/><circle cx="104.61" cy="560.35" r="0.42"/><circle cx="82.03" cy="564.63" r="0.42"/><circle cx="92.91" cy="568.47" r="0.42"/><circle cx="95.97" cy="567.99" r="0.42"/><circle cx="123.42" cy="546.53" r="0.42"/><circle cx="89.58" cy="567.79" r="0.42"/><circle cx="113.71" cy="551.99" r="0.42"/><circle cx="116.02" cy="544.94" r="0.42"/><circle cx="87.26" cy="570.8" r="0.42"/><circle cx="87.41" cy="565.13" r="0.42"/><circle cx="110.39" cy="567.75" r="0.42"/><circle cx="102" cy="561.74" r="0.42"/><circle cx="121.3" cy="559.46" r="0.42"/><circle cx="102.92" cy="576.1" r="0.42"/><circle cx="89.87" cy="571.76" r="0.42"/><circle cx="110.42" cy="560.43" r="0.42"/><circle cx="95.02" cy="571.2" r="0.42"/><circle cx="91.89" cy="563.27" r="0.42"/><circle cx="92.56" cy="581.83" r="0.42"/><circle cx="98.42" cy="577.6" r="0.42"/><circle cx="105.68" cy="560.16" r="0.42"/><circle cx="111.61" cy="562.69" r="0.42"/><circle cx="98.05" cy="552.64" r="0.42"/><circle cx="105.86" cy="571.54" r="0.42"/><circle cx="111.91" cy="569.73" r="0.42"/><circle cx="123.32" cy="558.6" r="0.42"/><circle cx="122.59" cy="539.84" r="0.42"/><circle cx="88.63" cy="545.63" r="0.42"/><circle cx="113.01" cy="560.27" r="0.42"/><circle cx="123.06" cy="551.01" r="0.42"/><circle cx="78.81" cy="587.97" r="0.42"/><circle cx="78.44" cy="562.86" r="0.42"/><circle cx="101.5" cy="570.93" r="0.42"/><circle cx="95.29" cy="569.44" r="0.42"/><circle cx="82.51" cy="590.73" r="0.42"/><circle cx="101.04" cy="566.1" r="0.42"/><circle cx="110.11" cy="562.37" r="0.42"/><circle cx="100.69" cy="555.86" r="0.42"/><circle cx="101.62" cy="568.99" r="0.42"/><circle cx="115.23" cy="557.11" r="0.42"/><circle cx="104.03" cy="566.87" r="0.42"/><circle cx="110.06" cy="562.76" r="0.42"/><circle cx="96.12" cy="562.14" r="0.42"/><circle cx="117.9" cy="559.99" r="0.42"/><circle cx="115.01" cy="592.94" r="0.42"/><circle cx="116.74" cy="566.06" r="0.42"/><circle cx="99.72" cy="555.45" r="0.42"/><circle cx="116.61" cy="556.78" r="0.42"/><circle cx="106.12" cy="572.74" r="0.42"/><circle cx="116.25" cy="560.21" r="0.42"/><circle cx="109.73" cy="581.69" r="0.42"/><circle cx="105.39" cy="552.7" r="0.42"/><circle cx="112.29" cy="561.17" r="0.42"/><circle cx="104.54" cy="570.06" r="0.42"/><circle cx="112.32" cy="579.57" r="0.42"/><circle cx="105.23" cy="565.46" r="0.42"/><circle cx="115.14" cy="552.74" r="0.42"/><circle cx="115.05" cy="557.78" r="0.42"/><circle cx="114.36" cy="550.27" r="0.42"/><circle cx="101.12" cy="549" r="0.42"/><circle cx="95.56" cy="567.63" r="0.42"/><circle cx="115.73" cy="577.66" r="0.42"/><circle cx="121.39" cy="542.13" r="0.42"/><circle cx="95.97" cy="579.71" r="0.42"/><circle cx="102.27" cy="550.78" r="0.42"/><circle cx="103.82" cy="552.44" r="0.42"/><circle cx="85.06" cy="559.88" r="0.42"/><circle cx="106.52" cy="584.69" r="0.42"/><circle cx="106.24" cy="561.43" r="0.42"/><circle cx="133.91" cy="545" r="0.42"/><circle cx="98.49" cy="563.49" r="0.42"/><circle cx="106.04" cy="559.5" r="0.42"/><circle cx="120.16" cy="553.1" r="0.42"/><circle cx="109.99" cy="562.97" r="0.42"/><circle cx="86.14" cy="562.18" r="0.42"/><circle cx="92.1" cy="546.34" r="0.42"/><circle cx="102.02" cy="565.25" r="0.42"/><circle cx="103.16" cy="563.17" r="0.42"/><circle cx="104.99" cy="559.62" r="0.42"/><circle cx="104.05" cy="547.37" r="0.42"/><circle cx="110.54" cy="551.77" r="0.42"/><circle cx="106.34" cy="557.84" r="0.42"/><circle cx="92.73" cy="560.95" r="0.42"/><circle cx="115.59" cy="547.36" r="0.42"/><circle cx="85.97" cy="574.1" r="0.42"/><circle cx="105.2" cy="563.41" r="0.42"/><circle cx="85.98" cy="565.5" r="0.42"/><circle cx="109.87" cy="550.59" r="0.42"/><circle cx="112.56" cy="566.76" r="0.42"/><circle cx="98.72" cy="553.99" r="0.42"/><circle cx="127.85" cy="553.67" r="0.42"/><circle cx="102.77" cy="560.41" r="0.42"/><circle cx="87.67" cy="568.53" r="0.42"/><circle cx="101.04" cy="556.58" r="0.42"/><circle cx="107.47" cy="573.32" r="0.42"/><circle cx="107.08" cy="561.16" r="0.42"/><circle cx="119.24" cy="565.54" r="0.42"/><circle cx="110.74" cy="552.54" r="0.42"/><circle cx="79.96" cy="582.65" r="0.42"/><circle cx="100.95" cy="561.31" r="0.42"/><circle cx="106.39" cy="557.97" r="0.42"/><circle cx="100" cy="583.28" r="0.42"/><circle cx="83.19" cy="581.56" r="0.42"/><circle cx="121.96" cy="572.72" r="0.42"/><circle cx="106.89" cy="567.24" r="0.42"/><circle cx="89.27" cy="570.73" r="0.42"/><circle cx="70.94" cy="573.36" r="0.42"/><circle cx="100.76" cy="564.03" r="0.42"/><circle cx="99.46" cy="577.19" r="0.42"/><circle cx="80.53" cy="575.81" r="0.42"/><circle cx="96.28" cy="567.52" r="0.42"/><circle cx="109.63" cy="580.16" r="0.42"/><circle cx="92.16" cy="582.32" r="0.42"/><circle cx="120.03" cy="554.82" r="0.42"/><circle cx="88.54" cy="558.54" r="0.42"/><circle cx="97.62" cy="586.73" r="0.42"/><circle cx="73.93" cy="582.05" r="0.42"/><circle cx="99.32" cy="584.47" r="0.42"/><circle cx="100.7" cy="551.76" r="0.42"/><circle cx="95.25" cy="569.56" r="0.42"/><circle cx="99.62" cy="556.24" r="0.42"/><circle cx="95.95" cy="562.77" r="0.42"/><circle cx="109.13" cy="563.89" r="0.42"/><circle cx="102.36" cy="558.51" r="0.42"/><circle cx="110.08" cy="555.16" r="0.42"/><circle cx="88.66" cy="566.45" r="0.42"/><circle cx="95.97" cy="564.25" r="0.42"/><circle cx="80.53" cy="587.87" r="0.42"/><circle cx="114.98" cy="571.5" r="0.42"/><circle cx="99.02" cy="573.3" r="0.42"/><circle cx="104.32" cy="563.67" r="0.42"/><circle cx="123.56" cy="548.57" r="0.42"/><circle cx="102.74" cy="547.02" r="0.42"/><circle cx="108.5" cy="559.75" r="0.42"/><circle cx="85.53" cy="566.29" r="0.42"/><circle cx="68.83" cy="569.46" r="0.42"/><circle cx="93.82" cy="542.22" r="0.42"/><circle cx="119.86" cy="565.8" r="0.42"/><circle cx="85.73" cy="557.4" r="0.42"/><circle cx="77.73" cy="563.14" r="0.42"/><circle cx="99.58" cy="587.12" r="0.42"/><circle cx="89.09" cy="577.96" r="0.42"/><circle cx="114.82" cy="549.14" r="0.42"/><circle cx="100.46" cy="571.87" r="0.42"/><circle cx="97.4" cy="578.97" r="0.42"/><circle cx="130.42" cy="550.74" r="0.42"/><circle cx="92.62" cy="574.74" r="0.42"/><circle cx="103.24" cy="556.49" r="0.42"/><circle cx="99.95" cy="566.28" r="0.42"/><circle cx="112.68" cy="570.81" r="0.42"/><circle cx="90.03" cy="557.2" r="0.42"/><circle cx="86.56" cy="590.04" r="0.42"/><circle cx="94.29" cy="564.02" r="0.42"/><circle cx="139.15" cy="558.2" r="0.42"/><circle cx="131.31" cy="549.09" r="0.42"/><circle cx="90.15" cy="564.78" r="0.42"/><circle cx="111.91" cy="564.01" r="0.42"/><circle cx="115.53" cy="580.61" r="0.42"/><circle cx="115.79" cy="547.27" r="0.42"/><circle cx="109.72" cy="566.76" r="0.42"/><circle cx="100.25" cy="588.28" r="0.42"/><circle cx="119.7" cy="571.23" r="0.42"/><circle cx="89.94" cy="558.76" r="0.42"/><circle cx="111.01" cy="558.31" r="0.42"/><circle cx="93.29" cy="567.64" r="0.42"/><circle cx="104.89" cy="564.56" r="0.42"/><circle cx="100.46" cy="569.81" r="0.42"/><circle cx="145.41" cy="555.89" r="0.42"/><circle cx="102.31" cy="584.57" r="0.42"/><circle cx="89.06" cy="555.13" r="0.42"/><circle cx="74.89" cy="556.81" r="0.42"/><circle cx="112.96" cy="548.41" r="0.42"/><circle cx="79.9" cy="569.15" r="0.42"/><circle cx="93.91" cy="555.82" r="0.42"/><circle cx="93.6" cy="568.29" r="0.42"/><circle cx="106.61" cy="552.84" r="0.42"/><circle cx="109.96" cy="563.24" r="0.42"/><circle cx="106.81" cy="556.81" r="0.42"/><circle cx="89.17" cy="579.94" r="0.42"/><circle cx="106.73" cy="555.49" r="0.42"/><circle cx="93.3" cy="575.32" r="0.42"/><circle cx="130.25" cy="554.86" r="0.42"/><circle cx="136.91" cy="551.19" r="0.42"/><circle cx="107.88" cy="566.47" r="0.42"/><circle cx="110.43" cy="545.48" r="0.42"/><circle cx="108.25" cy="574.08" r="0.42"/><circle cx="80.97" cy="576.58" r="0.42"/><circle cx="118.1" cy="573.99" r="0.42"/></g>
<g fill="#555"><circle cx="120.13" cy="563.6" r="0.5"/><circle cx="95.64" cy="562.63" r="0.5"/><circle cx="110.51" cy="568.08" r="0.5"/><circle cx="105.2" cy="559.6" r="0.5"/><circle cx="109.29" cy="572.28" r="0.5"/><circle cx="102.29" cy="574.31" r="0.5"/><circle cx="114.21" cy="564.48" r="0.5"/><circle cx="113.58" cy="559.5" r="0.5"/><circle cx="112.74" cy="572.2" r="0.5"/><circle cx="105.89" cy="564.61" r="0.5"/><circle cx="98.74" cy="568.48" r="0.5"/><circle cx="117.44" cy="566.61" r="0.5"/><circle cx="115.42" cy="564.57" r="0.5"/><circle cx="114.32" cy="563.67" r="0.5"/><circle cx="116.16" cy="560.13" r="0.5"/><circle cx="116.79" cy="560.16" r="0.5"/><circle cx="95.67" cy="566.09" r="0.5"/><circle cx="107.19" cy="563.7" r="0.5"/><circle cx="99.49" cy="566.57" r="0.5"/><circle cx="111.71" cy="565.53" r="0.5"/><circle cx="113.46" cy="557.99" r="0.5"/><circle cx="114.45" cy="567.2" r="0.5"/><circle cx="115.91" cy="570.11" r="0.5"/><circle cx="106.28" cy="566.55" r="0.5"/><circle cx="109.86" cy="562.45" r="0.5"/><circle cx="109.71" cy="565.79" r="0.5"/><circle cx="108.19" cy="562.91" r="0.5"/><circle cx="106.32" cy="566.17" r="0.5"/><circle cx="99.46" cy="571.46" r="0.5"/><circle cx="101.51" cy="568.07" r="0.5"/><circle cx="102.34" cy="569.37" r="0.5"/><circle cx="106.38" cy="565.19" r="0.5"/><circle cx="104.74" cy="568.06" r="0.5"/><circle cx="116.39" cy="551.53" r="0.5"/><circle cx="113.53" cy="563.55" r="0.5"/><circle cx="104.1" cy="561.34" r="0.5"/><circle cx="120.67" cy="559.22" r="0.5"/><circle cx="115.51" cy="559.35" r="0.5"/><circle cx="106.72" cy="571.82" r="0.5"/><circle cx="113.87" cy="560.66" r="0.5"/><circle cx="109.43" cy="567.92" r="0.5"/><circle cx="102.28" cy="564.65" r="0.5"/><circle cx="111.47" cy="568.71" r="0.5"/><circle cx="115.78" cy="562.05" r="0.5"/><circle cx="118.33" cy="558.86" r="0.5"/><circle cx="111.36" cy="575.56" r="0.5"/><circle cx="107.51" cy="568.92" r="0.5"/><circle cx="113.58" cy="562.99" r="0.5"/><circle cx="112.62" cy="566.46" r="0.5"/><circle cx="112.03" cy="560.32" r="0.5"/><circle cx="112.65" cy="569.96" r="0.5"/><circle cx="113.56" cy="560.21" r="0.5"/><circle cx="107.83" cy="560.69" r="0.5"/><circle cx="99.72" cy="567.73" r="0.5"/><circle cx="119.06" cy="556.08" r="0.5"/><circle cx="96" cy="571.98" r="0.5"/><circle cx="106.59" cy="570.19" r="0.5"/><circle cx="117.23" cy="558.61" r="0.5"/><circle cx="108.45" cy="560.84" r="0.5"/><circle cx="116.15" cy="557.23" r="0.5"/><circle cx="115.01" cy="573.62" r="0.5"/><circle cx="103.71" cy="568.96" r="0.5"/><circle cx="110.29" cy="566.66" r="0.5"/><circle cx="116.04" cy="568.52" r="0.5"/><circle cx="114.25" cy="565.07" r="0.5"/><circle cx="102.2" cy="571.03" r="0.5"/><circle cx="103.31" cy="574.49" r="0.5"/><circle cx="111.37" cy="568.6" r="0.5"/><circle cx="106.79" cy="567.5" r="0.5"/><circle cx="111.42" cy="566.47" r="0.5"/><circle cx="107.65" cy="562.88" r="0.5"/><circle cx="105.7" cy="563.69" r="0.5"/><circle cx="100.77" cy="563.68" r="0.5"/><circle cx="103.91" cy="577.55" r="0.5"/><circle cx="102.22" cy="563.38" r="0.5"/><circle cx="116.94" cy="561.93" r="0.5"/><circle cx="111.24" cy="569.52" r="0.5"/><circle cx="120.31" cy="554.24" r="0.5"/><circle cx="120.47" cy="561.34" r="0.5"/><circle cx="116.3" cy="558.16" r="0.5"/><circle cx="123.5" cy="562.58" r="0.5"/><circle cx="94.92" cy="579.63" r="0.5"/><circle cx="115.67" cy="554.21" r="0.5"/><circle cx="111.51" cy="562.72" r="0.5"/><circle cx="109.26" cy="560.57" r="0.5"/><circle cx="115.62" cy="564.98" r="0.5"/><circle cx="108.8" cy="564.83" r="0.5"/><circle cx="99.19" cy="573.48" r="0.5"/><circle cx="101.09" cy="569.74" r="0.5"/><circle cx="109.95" cy="577.71" r="0.5"/><circle cx="113.02" cy="570.52" r="0.5"/><circle cx="109.3" cy="564.68" r="0.5"/><circle cx="114.54" cy="561.71" r="0.5"/><circle cx="125" cy="554.91" r="0.5"/><circle cx="117.99" cy="553.84" r="0.5"/><circle cx="104.94" cy="570.71" r="0.5"/><circle cx="104.66" cy="577.54" r="0.5"/><circle cx="113.42" cy="562.95" r="0.5"/><circle cx="120.49" cy="555.81" r="0.5"/><circle cx="98.87" cy="557.73" r="0.5"/><circle cx="95.85" cy="571.12" r="0.5"/><circle cx="97.26" cy="575.69" r="0.5"/><circle cx="117.26" cy="562.58" r="0.5"/><circle cx="96.73" cy="567.77" r="0.5"/><circle cx="101.84" cy="572.8" r="0.5"/><circle cx="116.1" cy="559.8" r="0.5"/><circle cx="110.57" cy="565.31" r="0.5"/><circle cx="112.64" cy="558.38" r="0.5"/><circle cx="104.87" cy="571.45" r="0.5"/><circle cx="114.16" cy="564.54" r="0.5"/><circle cx="111.69" cy="567.41" r="0.5"/><circle cx="111.51" cy="560.52" r="0.5"/><circle cx="123.65" cy="562.14" r="0.5"/><circle cx="107.77" cy="565.26" r="0.5"/><circle cx="101.67" cy="562.17" r="0.5"/><circle cx="99.31" cy="563.34" r="0.5"/><circle cx="105.85" cy="568.51" r="0.5"/><circle cx="106" cy="559.45" r="0.5"/><circle cx="106.86" cy="563.05" r="0.5"/><circle cx="104.57" cy="573.26" r="0.5"/><circle cx="104.49" cy="572.28" r="0.5"/><circle cx="98.69" cy="572.41" r="0.5"/><circle cx="106.94" cy="571.15" r="0.5"/><circle cx="110.62" cy="560.11" r="0.5"/><circle cx="116.79" cy="567.09" r="0.5"/><circle cx="121.95" cy="565.12" r="0.5"/><circle cx="111.97" cy="574.39" r="0.5"/><circle cx="105.31" cy="566.49" r="0.5"/><circle cx="98.65" cy="569.93" r="0.5"/><circle cx="99.98" cy="570.84" r="0.5"/><circle cx="101.76" cy="578.81" r="0.5"/><circle cx="118.74" cy="567.63" r="0.5"/><circle cx="118.05" cy="560.68" r="0.5"/><circle cx="113.35" cy="563.6" r="0.5"/><circle cx="94.18" cy="567.6" r="0.5"/><circle cx="109.07" cy="569.86" r="0.5"/><circle cx="100.62" cy="570.89" r="0.5"/><circle cx="107.39" cy="569.82" r="0.5"/><circle cx="112.56" cy="557.67" r="0.5"/><circle cx="105.14" cy="574.89" r="0.5"/><circle cx="116.86" cy="560.42" r="0.5"/><circle cx="115.57" cy="561.62" r="0.5"/><circle cx="112.09" cy="561.3" r="0.5"/><circle cx="117.17" cy="569.01" r="0.5"/><circle cx="122.53" cy="563.83" r="0.5"/><circle cx="112.73" cy="567.93" r="0.5"/><circle cx="106.08" cy="565.26" r="0.5"/><circle cx="108.28" cy="559.89" r="0.5"/><circle cx="107.2" cy="557.27" r="0.5"/><circle cx="122.85" cy="561.47" r="0.5"/><circle cx="110.21" cy="560.8" r="0.5"/><circle cx="104.72" cy="565.54" r="0.5"/><circle cx="97.37" cy="569.62" r="0.5"/><circle cx="105.33" cy="571.59" r="0.5"/><circle cx="122.17" cy="565" r="0.5"/><circle cx="97.33" cy="564.75" r="0.5"/><circle cx="121.32" cy="562.05" r="0.5"/><circle cx="118.49" cy="563.08" r="0.5"/><circle cx="116.11" cy="571.99" r="0.5"/><circle cx="117.24" cy="563.87" r="0.5"/><circle cx="103.18" cy="569.28" r="0.5"/><circle cx="120.24" cy="561.53" r="0.5"/><circle cx="115.58" cy="560.33" r="0.5"/><circle cx="113.35" cy="559.67" r="0.5"/><circle cx="110.84" cy="569.59" r="0.5"/><circle cx="120.71" cy="556.69" r="0.5"/><circle cx="107.7" cy="564.65" r="0.5"/><circle cx="108.47" cy="565.56" r="0.5"/><circle cx="116.56" cy="562.54" r="0.5"/><circle cx="110.68" cy="566.45" r="0.5"/><circle cx="97.14" cy="571.17" r="0.5"/><circle cx="121.02" cy="552.84" r="0.5"/><circle cx="106.25" cy="568.04" r="0.5"/><circle cx="116.05" cy="559.69" r="0.5"/><circle cx="105.87" cy="574.87" r="0.5"/><circle cx="91.55" cy="570.49" r="0.5"/><circle cx="99.27" cy="558.64" r="0.5"/><circle cx="123.41" cy="566.88" r="0.5"/><circle cx="98.26" cy="569.11" r="0.5"/><circle cx="109.47" cy="568.41" r="0.5"/><circle cx="109.59" cy="567.68" r="0.5"/><circle cx="112.61" cy="562.26" r="0.5"/><circle cx="113.13" cy="569.96" r="0.5"/><circle cx="112.35" cy="566.51" r="0.5"/><circle cx="111.05" cy="567.6" r="0.5"/><circle cx="121.09" cy="558.56" r="0.5"/><circle cx="104.64" cy="563.74" r="0.5"/><circle cx="114.95" cy="557.62" r="0.5"/><circle cx="118.58" cy="572.67" r="0.5"/><circle cx="115.17" cy="570.81" r="0.5"/><circle cx="109.56" cy="564.3" r="0.5"/><circle cx="111.72" cy="558.97" r="0.5"/><circle cx="92.69" cy="574.23" r="0.5"/><circle cx="105.08" cy="568.41" r="0.5"/><circle cx="124.66" cy="559.25" r="0.5"/><circle cx="100.01" cy="572.47" r="0.5"/><circle cx="92.37" cy="563.34" r="0.5"/><circle cx="122.39" cy="552.51" r="0.5"/><circle cx="94.15" cy="573.24" r="0.5"/><circle cx="109.34" cy="567.3" r="0.5"/><circle cx="108.02" cy="564.6" r="0.5"/><circle cx="115.2" cy="560.61" r="0.5"/><circle cx="105.25" cy="569.13" r="0.5"/><circle cx="108.2" cy="571.24" r="0.5"/><circle cx="109.51" cy="563.86" r="0.5"/><circle cx="108.03" cy="568.81" r="0.5"/><circle cx="116.07" cy="559.47" r="0.5"/><circle cx="96" cy="576.69" r="0.5"/><circle cx="105.77" cy="570.19" r="0.5"/><circle cx="106.37" cy="568.76" r="0.5"/><circle cx="106.1" cy="562.57" r="0.5"/><circle cx="100.32" cy="569.6" r="0.5"/><circle cx="107.02" cy="557.65" r="0.5"/><circle cx="93.32" cy="575.54" r="0.5"/><circle cx="123.11" cy="552.74" r="0.5"/><circle cx="105.38" cy="561.5" r="0.5"/><circle cx="104.19" cy="575.72" r="0.5"/><circle cx="98.77" cy="572.32" r="0.5"/><circle cx="105.87" cy="570.01" r="0.5"/><circle cx="121.05" cy="558.98" r="0.5"/><circle cx="110.04" cy="570.26" r="0.5"/><circle cx="103.31" cy="558.57" r="0.5"/><circle cx="117.98" cy="557.19" r="0.5"/><circle cx="116.35" cy="572.62" r="0.5"/><circle cx="117.01" cy="562.16" r="0.5"/><circle cx="119.46" cy="554.4" r="0.5"/><circle cx="95.4" cy="566.98" r="0.5"/><circle cx="110.94" cy="565.19" r="0.5"/><circle cx="109.84" cy="575.98" r="0.5"/><circle cx="115.95" cy="562.12" r="0.5"/><circle cx="104.72" cy="567.28" r="0.5"/><circle cx="111" cy="562.05" r="0.5"/><circle cx="134.07" cy="559.71" r="0.5"/><circle cx="114.52" cy="562.08" r="0.5"/><circle cx="100.05" cy="575.99" r="0.5"/><circle cx="107.4" cy="571.71" r="0.5"/><circle cx="109.79" cy="557.74" r="0.5"/><circle cx="109.76" cy="563.73" r="0.5"/><circle cx="108" cy="565.29" r="0.5"/><circle cx="110.04" cy="563.45" r="0.5"/><circle cx="116.91" cy="563.5" r="0.5"/><circle cx="108.4" cy="564.74" r="0.5"/><circle cx="106.63" cy="564.49" r="0.5"/><circle cx="109.19" cy="566.24" r="0.5"/><circle cx="103.42" cy="558.51" r="0.5"/><circle cx="108.29" cy="560.85" r="0.5"/><circle cx="115.28" cy="574.67" r="0.5"/><circle cx="111.51" cy="551.05" r="0.5"/><circle cx="99.59" cy="575.87" r="0.5"/><circle cx="100.6" cy="561.65" r="0.5"/><circle cx="97.1" cy="571.16" r="0.5"/><circle cx="103.98" cy="567.92" r="0.5"/><circle cx="107.61" cy="566" r="0.5"/><circle cx="104.81" cy="563.25" r="0.5"/><circle cx="118.31" cy="567.97" r="0.5"/><circle cx="103.22" cy="567.59" r="0.5"/><circle cx="121.48" cy="552.09" r="0.5"/><circle cx="103.02" cy="571.41" r="0.5"/><circle cx="116.01" cy="560.95" r="0.5"/><circle cx="117.54" cy="559.57" r="0.5"/><circle cx="111.15" cy="563.7" r="0.5"/><circle cx="112.04" cy="563.43" r="0.5"/><circle cx="121.56" cy="561.71" r="0.5"/><circle cx="120.91" cy="557.46" r="0.5"/><circle cx="102.78" cy="565.46" r="0.5"/><circle cx="107.61" cy="567.65" r="0.5"/><circle cx="107.37" cy="567.52" r="0.5"/><circle cx="110.06" cy="558.37" r="0.5"/><circle cx="102.83" cy="575.61" r="0.5"/><circle cx="109.49" cy="574.73" r="0.5"/><circle cx="104.43" cy="560.47" r="0.5"/><circle cx="99.59" cy="566.3" r="0.5"/><circle cx="123.9" cy="546.58" r="0.5"/><circle cx="91" cy="570.62" r="0.5"/><circle cx="115.14" cy="573.31" r="0.5"/><circle cx="114.68" cy="556.76" r="0.5"/><circle cx="123.66" cy="563.46" r="0.5"/><circle cx="106.38" cy="569.73" r="0.5"/><circle cx="112.04" cy="562.56" r="0.5"/><circle cx="105.18" cy="564.25" r="0.5"/><circle cx="111.65" cy="560.81" r="0.5"/><circle cx="117.39" cy="563.86" r="0.5"/><circle cx="99.34" cy="572.87" r="0.5"/><circle cx="110.23" cy="568.52" r="0.5"/><circle cx="109.86" cy="570.82" r="0.5"/><circle cx="117.64" cy="564.91" r="0.5"/><circle cx="110.92" cy="556.71" r="0.5"/><circle cx="111.77" cy="569.33" r="0.5"/><circle cx="117.41" cy="563.4" r="0.5"/><circle cx="109.43" cy="564.54" r="0.5"/><circle cx="96.03" cy="563.13" r="0.5"/><circle cx="110.32" cy="568.7" r="0.5"/><circle cx="106.62" cy="563.62" r="0.5"/><circle cx="111.44" cy="570.73" r="0.5"/><circle cx="105.18" cy="566.84" r="0.5"/><circle cx="114.55" cy="567.51" r="0.5"/><circle cx="111.5" cy="560.97" r="0.5"/><circle cx="103.56" cy="562.26" r="0.5"/><circle cx="110.54" cy="569.39" r="0.5"/><circle cx="109.96" cy="562.26" r="0.5"/><circle cx="101.19" cy="567.78" r="0.5"/><circle cx="116.5" cy="564.09" r="0.5"/><circle cx="114.89" cy="566.22" r="0.5"/><circle cx="118.85" cy="560.56" r="0.5"/><circle cx="109.92" cy="554.5" r="0.5"/><circle cx="113.61" cy="560.71" r="0.5"/><circle cx="109.51" cy="560.04" r="0.5"/><circle cx="105.31" cy="561.39" r="0.5"/><circle cx="106.92" cy="560.94" r="0.5"/><circle cx="116.37" cy="559.26" r="0.5"/><circle cx="109.47" cy="561.6" r="0.5"/><circle cx="107.31" cy="562.43" r="0.5"/><circle cx="105.01" cy="570.05" r="0.5"/><circle cx="102.35" cy="562.95" r="0.5"/><circle cx="112.14" cy="575.11" r="0.5"/><circle cx="117.78" cy="561.4" r="0.5"/><circle cx="112.56" cy="564.75" r="0.5"/><circle cx="118.04" cy="572.04" r="0.5"/><circle cx="120.94" cy="559.23" r="0.5"/><circle cx="95.86" cy="567.93" r="0.5"/><circle cx="110.66" cy="561.88" r="0.5"/><circle cx="112.33" cy="561.74" r="0.5"/><circle cx="114.35" cy="564.52" r="0.5"/><circle cx="103.83" cy="561.53" r="0.5"/><circle cx="106.25" cy="563.21" r="0.5"/><circle cx="103.73" cy="568.75" r="0.5"/><circle cx="117.54" cy="558.47" r="0.5"/><circle cx="104.8" cy="562.04" r="0.5"/><circle cx="112.51" cy="564.52" r="0.5"/><circle cx="114.87" cy="569.98" r="0.5"/><circle cx="114.27" cy="567.63" r="0.5"/><circle cx="108.5" cy="567.6" r="0.5"/><circle cx="105.89" cy="571.18" r="0.5"/><circle cx="118.02" cy="555.3" r="0.5"/><circle cx="104.96" cy="569.05" r="0.5"/><circle cx="112.05" cy="568.06" r="0.5"/><circle cx="90.3" cy="573.11" r="0.5"/><circle cx="114.18" cy="563.52" r="0.5"/><circle cx="104.14" cy="571.85" r="0.5"/><circle cx="111.01" cy="564.27" r="0.5"/><circle cx="108.15" cy="565.16" r="0.5"/><circle cx="111.08" cy="556.85" r="0.5"/><circle cx="87.73" cy="580.83" r="0.5"/><circle cx="93.47" cy="575.26" r="0.5"/><circle cx="110.93" cy="565.93" r="0.5"/><circle cx="103.49" cy="571.35" r="0.5"/><circle cx="106.67" cy="564.01" r="0.5"/><circle cx="106.23" cy="562.41" r="0.5"/><circle cx="119.8" cy="555.64" r="0.5"/><circle cx="109.14" cy="563.35" r="0.5"/><circle cx="111.37" cy="564.1" r="0.5"/><circle cx="107.99" cy="566.06" r="0.5"/><circle cx="111.6" cy="564.89" r="0.5"/><circle cx="117.16" cy="560.06" r="0.5"/><circle cx="110.5" cy="567.08" r="0.5"/><circle cx="109.94" cy="566.88" r="0.5"/><circle cx="109.17" cy="553.61" r="0.5"/><circle cx="109.78" cy="562.65" r="0.5"/><circle cx="96.11" cy="566.09" r="0.5"/><circle cx="102.4" cy="574.35" r="0.5"/><circle cx="118.06" cy="560.25" r="0.5"/><circle cx="106.81" cy="560.76" r="0.5"/><circle cx="127.91" cy="562.21" r="0.5"/><circle cx="109.93" cy="560.51" r="0.5"/><circle cx="107.62" cy="562.67" r="0.5"/><circle cx="98.98" cy="565.32" r="0.5"/><circle cx="102.04" cy="565.75" r="0.5"/><circle cx="110.68" cy="559.25" r="0.5"/><circle cx="113.67" cy="563.58" r="0.5"/><circle cx="119.76" cy="566.07" r="0.5"/><circle cx="128.32" cy="559.12" r="0.5"/><circle cx="106.76" cy="565.36" r="0.5"/><circle cx="126.95" cy="549.28" r="0.5"/><circle cx="113.28" cy="569.16" r="0.5"/><circle cx="111.12" cy="566.55" r="0.5"/><circle cx="124.47" cy="561.02" r="0.5"/><circle cx="111.81" cy="566.82" r="0.5"/><circle cx="113.7" cy="566.07" r="0.5"/><circle cx="113.46" cy="561.22" r="0.5"/><circle cx="111.17" cy="565.37" r="0.5"/><circle cx="107.62" cy="563.43" r="0.5"/><circle cx="111.62" cy="552.3" r="0.5"/><circle cx="110.69" cy="569.77" r="0.5"/><circle cx="109.64" cy="558.93" r="0.5"/><circle cx="107.77" cy="576.24" r="0.5"/><circle cx="114.59" cy="561.74" r="0.5"/><circle cx="110.04" cy="563.19" r="0.5"/><circle cx="110.57" cy="559.83" r="0.5"/><circle cx="111.04" cy="563.72" r="0.5"/><circle cx="113.52" cy="567.5" r="0.5"/><circle cx="97.45" cy="571.42" r="0.5"/><circle cx="111.7" cy="564.76" r="0.5"/><circle cx="110.7" cy="566.39" r="0.5"/><circle cx="116.48" cy="558.61" r="0.5"/><circle cx="113.21" cy="566.93" r="0.5"/><circle cx="111.29" cy="569.34" r="0.5"/><circle cx="108.09" cy="572.07" r="0.5"/><circle cx="115.12" cy="569.17" r="0.5"/><circle cx="117.52" cy="555.61" r="0.5"/><circle cx="117.68" cy="562.89" r="0.5"/><circle cx="109.85" cy="562.7" r="0.5"/><circle cx="112.19" cy="562.2" r="0.5"/><circle cx="110.37" cy="564.61" r="0.5"/><circle cx="110.12" cy="563.4" r="0.5"/><circle cx="100.96" cy="570.91" r="0.5"/><circle cx="87.98" cy="578.82" r="0.5"/><circle cx="108.85" cy="564.8" r="0.5"/><circle cx="107.07" cy="567.95" r="0.5"/><circle cx="112.36" cy="560.7" r="0.5"/><circle cx="103.53" cy="563.34" r="0.5"/><circle cx="102.63" cy="571.15" r="0.5"/><circle cx="112.46" cy="570.47" r="0.5"/><circle cx="96.85" cy="566.44" r="0.5"/><circle cx="109.83" cy="562.35" r="0.5"/><circle cx="110.29" cy="560.1" r="0.5"/><circle cx="117.91" cy="558.7" r="0.5"/><circle cx="114.84" cy="567.56" r="0.5"/><circle cx="100.8" cy="567.99" r="0.5"/><circle cx="104.56" cy="572.1" r="0.5"/><circle cx="96.53" cy="569.86" r="0.5"/><circle cx="107.36" cy="570.72" r="0.5"/><circle cx="121.19" cy="558.5" r="0.5"/><circle cx="124.31" cy="559.92" r="0.5"/><circle cx="100.23" cy="569.32" r="0.5"/><circle cx="104.66" cy="571.76" r="0.5"/><circle cx="113.55" cy="564.14" r="0.5"/><circle cx="103.38" cy="567.29" r="0.5"/><circle cx="101.35" cy="569.26" r="0.5"/><circle cx="119.01" cy="558.21" r="0.5"/><circle cx="120.04" cy="559.53" r="0.5"/><circle cx="108.96" cy="568.01" r="0.5"/><circle cx="103.41" cy="576.52" r="0.5"/><circle cx="109.09" cy="559.38" r="0.5"/><circle cx="112.77" cy="558.01" r="0.5"/><circle cx="118.79" cy="565.89" r="0.5"/><circle cx="113.76" cy="556.3" r="0.5"/><circle cx="109.81" cy="570.21" r="0.5"/><circle cx="114.29" cy="564.78" r="0.5"/><circle cx="128.27" cy="559.27" r="0.5"/><circle cx="105.49" cy="561.14" r="0.5"/><circle cx="102.01" cy="561.69" r="0.5"/><circle cx="104.63" cy="568.24" r="0.5"/><circle cx="101" cy="569.9" r="0.5"/><circle cx="107" cy="568.68" r="0.5"/><circle cx="99.18" cy="566.89" r="0.5"/><circle cx="111.11" cy="566.48" r="0.5"/><circle cx="103.62" cy="553.01" r="0.5"/><circle cx="103.73" cy="558.46" r="0.5"/><circle cx="106.23" cy="561.49" r="0.5"/><circle cx="101.56" cy="566.48" r="0.5"/><circle cx="112.67" cy="562.51" r="0.5"/><circle cx="113.11" cy="562.52" r="0.5"/><circle cx="109.17" cy="571.25" r="0.5"/><circle cx="121.18" cy="554.17" r="0.5"/><circle cx="106.95" cy="558.74" r="0.5"/><circle cx="107.7" cy="561.3" r="0.5"/><circle cx="119.21" cy="561.03" r="0.5"/><circle cx="113.49" cy="568" r="0.5"/><circle cx="105.48" cy="552.71" r="0.5"/><circle cx="124" cy="564.81" r="0.5"/><circle cx="113.11" cy="568.85" r="0.5"/><circle cx="109.57" cy="557.22" r="0.5"/><circle cx="102.04" cy="576.51" r="0.5"/><circle cx="119.37" cy="567.51" r="0.5"/><circle cx="122.41" cy="556.41" r="0.5"/><circle cx="116.13" cy="564.29" r="0.5"/><circle cx="115.9" cy="563.78" r="0.5"/><circle cx="106.99" cy="567.95" r="0.5"/><circle cx="97.78" cy="573.83" r="0.5"/><circle cx="104.82" cy="563.66" r="0.5"/><circle cx="112.73" cy="564.57" r="0.5"/><circle cx="109.99" cy="560.72" r="0.5"/><circle cx="104.73" cy="566.26" r="0.5"/><circle cx="107.68" cy="563.67" r="0.5"/><circle cx="102.58" cy="569.66" r="0.5"/><circle cx="104.65" cy="567.24" r="0.5"/><circle cx="97.2" cy="559.79" r="0.5"/><circle cx="111.02" cy="565.79" r="0.5"/><circle cx="110.41" cy="568.83" r="0.5"/><circle cx="110.24" cy="563.26" r="0.5"/></g>
<g fill="#555"><circle cx="114.3" cy="570.77" r="0.5"/><circle cx="139.47" cy="571.87" r="0.5"/><circle cx="128.3" cy="573.07" r="0.5"/><circle cx="134.43" cy="566.33" r="0.5"/><circle cx="131.18" cy="570.31" r="0.5"/><circle cx="116.04" cy="570.14" r="0.5"/><circle cx="108.19" cy="586.03" r="0.5"/><circle cx="125.32" cy="569.56" r="0.5"/><circle cx="101.23" cy="587.45" r="0.5"/><circle cx="118.79" cy="570.43" r="0.5"/><circle cx="119.53" cy="583.69" r="0.5"/><circle cx="134.66" cy="565.92" r="0.5"/><circle cx="123.09" cy="569.47" r="0.5"/><circle cx="119.87" cy="577.05" r="0.5"/><circle cx="113.73" cy="577.75" r="0.5"/><circle cx="132.79" cy="558.16" r="0.5"/><circle cx="118.57" cy="582.87" r="0.5"/><circle cx="125.1" cy="570.66" r="0.5"/><circle cx="111.28" cy="574.42" r="0.5"/><circle cx="126.25" cy="557.54" r="0.5"/><circle cx="124.25" cy="568.09" r="0.5"/><circle cx="116.21" cy="567.61" r="0.5"/><circle cx="130.43" cy="568.35" r="0.5"/><circle cx="124.88" cy="571.92" r="0.5"/><circle cx="110.23" cy="582.28" r="0.5"/><circle cx="125.45" cy="569.26" r="0.5"/><circle cx="94.13" cy="593.61" r="0.5"/><circle cx="120" cy="568.89" r="0.5"/><circle cx="124.8" cy="575.85" r="0.5"/><circle cx="123.55" cy="576.92" r="0.5"/><circle cx="115.25" cy="574.33" r="0.5"/><circle cx="121.8" cy="568.5" r="0.5"/><circle cx="107.63" cy="585.02" r="0.5"/><circle cx="122.75" cy="574.33" r="0.5"/><circle cx="113.04" cy="577.36" r="0.5"/><circle cx="124.63" cy="568.07" r="0.5"/><circle cx="120.11" cy="574.8" r="0.5"/><circle cx="115.52" cy="578.44" r="0.5"/><circle cx="109.86" cy="583.98" r="0.5"/><circle cx="145.95" cy="556.45" r="0.5"/><circle cx="114.55" cy="570.93" r="0.5"/><circle cx="110.85" cy="579.73" r="0.5"/><circle cx="115.89" cy="579.28" r="0.5"/><circle cx="124.37" cy="573.85" r="0.5"/><circle cx="121.28" cy="576.41" r="0.5"/><circle cx="131.33" cy="561.02" r="0.5"/><circle cx="120.29" cy="573.06" r="0.5"/><circle cx="123.2" cy="576.44" r="0.5"/><circle cx="116.66" cy="572.53" r="0.5"/><circle cx="106.84" cy="577.63" r="0.5"/><circle cx="122.57" cy="575.82" r="0.5"/><circle cx="120.22" cy="570.15" r="0.5"/><circle cx="118.13" cy="571.31" r="0.5"/><circle cx="130.48" cy="566.23" r="0.5"/><circle cx="135.5" cy="564.72" r="0.5"/><circle cx="124.94" cy="565.89" r="0.5"/><circle cx="125.09" cy="568.23" r="0.5"/><circle cx="117.29" cy="576.83" r="0.5"/><circle cx="136.62" cy="563.16" r="0.5"/><circle cx="140.4" cy="560.99" r="0.5"/><circle cx="108.96" cy="580.29" r="0.5"/><circle cx="139.18" cy="561.6" r="0.5"/><circle cx="121.61" cy="570.78" r="0.5"/><circle cx="124.27" cy="572.58" r="0.5"/><circle cx="118.29" cy="575.17" r="0.5"/><circle cx="122.07" cy="567.72" r="0.5"/><circle cx="118.33" cy="572.19" r="0.5"/><circle cx="114.8" cy="574.25" r="0.5"/><circle cx="115.04" cy="574.39" r="0.5"/><circle cx="136.47" cy="560.5" r="0.5"/><circle cx="123.51" cy="567.91" r="0.5"/><circle cx="124.21" cy="572.77" r="0.5"/><circle cx="139.26" cy="566.65" r="0.5"/><circle cx="122.21" cy="580.19" r="0.5"/><circle cx="125.45" cy="575.23" r="0.5"/><circle cx="123.22" cy="574.83" r="0.5"/><circle cx="118.64" cy="569.38" r="0.5"/><circle cx="126.49" cy="567.81" r="0.5"/><circle cx="121.84" cy="573.89" r="0.5"/><circle cx="131.85" cy="575.73" r="0.5"/><circle cx="112.38" cy="578.02" r="0.5"/><circle cx="117.11" cy="581.9" r="0.5"/><circle cx="118.73" cy="572.67" r="0.5"/><circle cx="126.51" cy="569.51" r="0.5"/><circle cx="123.82" cy="564.87" r="0.5"/><circle cx="123.77" cy="573.86" r="0.5"/><circle cx="120.1" cy="579.53" r="0.5"/><circle cx="119.99" cy="570.89" r="0.5"/><circle cx="120.01" cy="576.49" r="0.5"/><circle cx="130.07" cy="564.28" r="0.5"/><circle cx="126.41" cy="567.75" r="0.5"/><circle cx="112.73" cy="575.65" r="0.5"/><circle cx="127.55" cy="566.37" r="0.5"/><circle cx="127.06" cy="575.78" r="0.5"/><circle cx="129.8" cy="564.8" r="0.5"/><circle cx="120.57" cy="574.91" r="0.5"/><circle cx="106.19" cy="587.84" r="0.5"/><circle cx="117.81" cy="579.04" r="0.5"/><circle cx="115.59" cy="576.14" r="0.5"/><circle cx="130.41" cy="568.84" r="0.5"/><circle cx="136.33" cy="559.44" r="0.5"/><circle cx="120.34" cy="580.34" r="0.5"/><circle cx="124.37" cy="565.79" r="0.5"/><circle cx="119.2" cy="576.57" r="0.5"/><circle cx="115.18" cy="571.72" r="0.5"/><circle cx="123.54" cy="573.29" r="0.5"/><circle cx="135.09" cy="567.09" r="0.5"/><circle cx="127.08" cy="565.11" r="0.5"/><circle cx="110.05" cy="577.56" r="0.5"/><circle cx="128.76" cy="571.13" r="0.5"/><circle cx="107.71" cy="586.1" r="0.5"/><circle cx="132.63" cy="570.75" r="0.5"/><circle cx="130.39" cy="570.1" r="0.5"/><circle cx="123.44" cy="570.16" r="0.5"/><circle cx="120.78" cy="573.3" r="0.5"/><circle cx="112.3" cy="579.62" r="0.5"/><circle cx="129.73" cy="565.09" r="0.5"/><circle cx="130.52" cy="562.12" r="0.5"/><circle cx="123.96" cy="567.62" r="0.5"/><circle cx="132.34" cy="567.5" r="0.5"/><circle cx="131.71" cy="568.42" r="0.5"/><circle cx="128.54" cy="572.2" r="0.5"/><circle cx="118.55" cy="564.7" r="0.5"/><circle cx="124.14" cy="573.04" r="0.5"/><circle cx="105.33" cy="590.56" r="0.5"/><circle cx="123.48" cy="575.76" r="0.5"/><circle cx="119.91" cy="574.93" r="0.5"/><circle cx="114.55" cy="577.28" r="0.5"/><circle cx="109.41" cy="583.39" r="0.5"/><circle cx="117.28" cy="573.35" r="0.5"/><circle cx="113.68" cy="574.78" r="0.5"/><circle cx="121.4" cy="572.45" r="0.5"/><circle cx="122.11" cy="578.18" r="0.5"/><circle cx="111.94" cy="578.47" r="0.5"/><circle cx="110.26" cy="580.46" r="0.5"/><circle cx="116.45" cy="568.97" r="0.5"/><circle cx="120.32" cy="564.92" r="0.5"/><circle cx="116.65" cy="575.35" r="0.5"/><circle cx="113.66" cy="584.73" r="0.5"/><circle cx="120.31" cy="568.04" r="0.5"/><circle cx="125.58" cy="571.24" r="0.5"/><circle cx="115.19" cy="574.1" r="0.5"/><circle cx="134.3" cy="572.67" r="0.5"/><circle cx="128.08" cy="576.77" r="0.5"/><circle cx="103.92" cy="579.44" r="0.5"/><circle cx="121.02" cy="570.38" r="0.5"/><circle cx="127.58" cy="575.97" r="0.5"/><circle cx="113.9" cy="580.57" r="0.5"/><circle cx="118.64" cy="569.41" r="0.5"/><circle cx="117.32" cy="571.12" r="0.5"/><circle cx="122.6" cy="578.25" r="0.5"/><circle cx="132.62" cy="568.66" r="0.5"/><circle cx="121.7" cy="570.39" r="0.5"/><circle cx="139.03" cy="559.14" r="0.5"/><circle cx="127.52" cy="572.62" r="0.5"/><circle cx="121.47" cy="574.86" r="0.5"/><circle cx="122.11" cy="573.81" r="0.5"/><circle cx="126.42" cy="563.14" r="0.5"/><circle cx="121.34" cy="570.58" r="0.5"/><circle cx="120.71" cy="574.97" r="0.5"/><circle cx="129.63" cy="557.37" r="0.5"/><circle cx="134.67" cy="559.92" r="0.5"/><circle cx="112.98" cy="576.25" r="0.5"/><circle cx="123.36" cy="571.94" r="0.5"/><circle cx="103.32" cy="579.85" r="0.5"/><circle cx="129.39" cy="566.03" r="0.5"/><circle cx="104.83" cy="584.59" r="0.5"/><circle cx="122.02" cy="578.76" r="0.5"/><circle cx="113.46" cy="576.44" r="0.5"/><circle cx="118.68" cy="576.43" r="0.5"/><circle cx="126.83" cy="571.25" r="0.5"/><circle cx="135.77" cy="561.01" r="0.5"/><circle cx="134.91" cy="562.6" r="0.5"/><circle cx="130.02" cy="570.17" r="0.5"/><circle cx="134.47" cy="558.34" r="0.5"/><circle cx="136.2" cy="552.89" r="0.5"/><circle cx="119.79" cy="573.29" r="0.5"/><circle cx="124.14" cy="576.67" r="0.5"/><circle cx="104.71" cy="580.75" r="0.5"/><circle cx="132.98" cy="571.16" r="0.5"/><circle cx="110.93" cy="578.4" r="0.5"/><circle cx="128.13" cy="570.15" r="0.5"/><circle cx="108.04" cy="582.6" r="0.5"/><circle cx="114.15" cy="573.18" r="0.5"/><circle cx="117.91" cy="571.83" r="0.5"/><circle cx="115.05" cy="587.39" r="0.5"/><circle cx="114.45" cy="573.64" r="0.5"/><circle cx="136.08" cy="559.58" r="0.5"/><circle cx="112.18" cy="568.92" r="0.5"/><circle cx="111.09" cy="587" r="0.5"/><circle cx="113.18" cy="577.21" r="0.5"/><circle cx="119.82" cy="574.76" r="0.5"/><circle cx="134.14" cy="555.69" r="0.5"/><circle cx="111.06" cy="587.69" r="0.5"/><circle cx="129.08" cy="570.08" r="0.5"/><circle cx="132.51" cy="563.83" r="0.5"/><circle cx="130.01" cy="570.85" r="0.5"/><circle cx="134.45" cy="563.64" r="0.5"/><circle cx="110.36" cy="578.36" r="0.5"/><circle cx="119.1" cy="572.94" r="0.5"/><circle cx="129.14" cy="562.08" r="0.5"/><circle cx="125.08" cy="568.07" r="0.5"/><circle cx="126.38" cy="575.32" r="0.5"/><circle cx="129.33" cy="564.11" r="0.5"/><circle cx="123.99" cy="575.13" r="0.5"/><circle cx="124.29" cy="575.18" r="0.5"/><circle cx="132.22" cy="562.76" r="0.5"/><circle cx="130.8" cy="574.07" r="0.5"/><circle cx="125.84" cy="566.43" r="0.5"/><circle cx="133.2" cy="563.59" r="0.5"/><circle cx="120.57" cy="575.33" r="0.5"/><circle cx="127.12" cy="566.09" r="0.5"/><circle cx="126.18" cy="571.89" r="0.5"/><circle cx="128.77" cy="566.91" r="0.5"/><circle cx="115.86" cy="577.65" r="0.5"/><circle cx="125.67" cy="570.5" r="0.5"/><circle cx="130.39" cy="567.38" r="0.5"/><circle cx="111.63" cy="583.07" r="0.5"/><circle cx="126.05" cy="561.99" r="0.5"/><circle cx="129.86" cy="570.17" r="0.5"/><circle cx="126.91" cy="571.14" r="0.5"/><circle cx="116.82" cy="579" r="0.5"/><circle cx="124.38" cy="566.9" r="0.5"/><circle cx="129.47" cy="571.12" r="0.5"/><circle cx="124.69" cy="579.01" r="0.5"/><circle cx="125.78" cy="570.83" r="0.5"/><circle cx="128.22" cy="568.8" r="0.5"/><circle cx="121.37" cy="571.18" r="0.5"/><circle cx="105.8" cy="579.51" r="0.5"/><circle cx="126.26" cy="575.64" r="0.5"/><circle cx="113.14" cy="568.95" r="0.5"/><circle cx="125.92" cy="564.67" r="0.5"/><circle cx="115.62" cy="579.05" r="0.5"/><circle cx="123.83" cy="571.81" r="0.5"/><circle cx="116.26" cy="574.18" r="0.5"/><circle cx="128.35" cy="571.21" r="0.5"/><circle cx="130.56" cy="570.18" r="0.5"/><circle cx="128.19" cy="566.3" r="0.5"/><circle cx="126.41" cy="569.37" r="0.5"/><circle cx="118.99" cy="582.51" r="0.5"/><circle cx="130.72" cy="563.63" r="0.5"/><circle cx="119.22" cy="575.58" r="0.5"/><circle cx="122.05" cy="571.51" r="0.5"/><circle cx="123.87" cy="577.43" r="0.5"/><circle cx="118.55" cy="572.57" r="0.5"/><circle cx="132.77" cy="563.51" r="0.5"/><circle cx="118.01" cy="572.69" r="0.5"/><circle cx="121.59" cy="571.74" r="0.5"/><circle cx="119.97" cy="573.4" r="0.5"/><circle cx="121.35" cy="567.54" r="0.5"/><circle cx="113.81" cy="577.08" r="0.5"/><circle cx="121.41" cy="571.72" r="0.5"/><circle cx="122.44" cy="572.48" r="0.5"/><circle cx="118.97" cy="573.61" r="0.5"/><circle cx="137.1" cy="560.86" r="0.5"/><circle cx="120.26" cy="577.22" r="0.5"/><circle cx="123.51" cy="567.71" r="0.5"/><circle cx="129.4" cy="556.22" r="0.5"/><circle cx="126.93" cy="570.32" r="0.5"/><circle cx="127.76" cy="568.03" r="0.5"/><circle cx="99.92" cy="583.26" r="0.5"/><circle cx="122" cy="566.09" r="0.5"/><circle cx="136.03" cy="568.75" r="0.5"/><circle cx="110.43" cy="584.21" r="0.5"/><circle cx="133.8" cy="573.45" r="0.5"/><circle cx="117.61" cy="577.95" r="0.5"/><circle cx="126.87" cy="563.93" r="0.5"/><circle cx="115.75" cy="579.78" r="0.5"/><circle cx="119.03" cy="570.67" r="0.5"/><circle cx="112" cy="579.29" r="0.5"/><circle cx="116.7" cy="578.69" r="0.5"/><circle cx="124.29" cy="577.72" r="0.5"/><circle cx="117.83" cy="573.47" r="0.5"/><circle cx="127.16" cy="571.79" r="0.5"/><circle cx="112.45" cy="577.08" r="0.5"/><circle cx="111.66" cy="575.36" r="0.5"/><circle cx="121.39" cy="574.24" r="0.5"/><circle cx="114.11" cy="574.23" r="0.5"/><circle cx="116.59" cy="583.81" r="0.5"/><circle cx="124.68" cy="571.81" r="0.5"/><circle cx="114.73" cy="575.1" r="0.5"/><circle cx="118.81" cy="573.35" r="0.5"/><circle cx="110.92" cy="581.49" r="0.5"/><circle cx="117.91" cy="576.42" r="0.5"/><circle cx="128.31" cy="569.06" r="0.5"/><circle cx="121.23" cy="581.03" r="0.5"/><circle cx="134.78" cy="565.09" r="0.5"/><circle cx="129.97" cy="564.69" r="0.5"/><circle cx="129.25" cy="571.5" r="0.5"/><circle cx="127.86" cy="565.87" r="0.5"/><circle cx="119.4" cy="571.59" r="0.5"/><circle cx="122.9" cy="575.39" r="0.5"/><circle cx="104.09" cy="580.22" r="0.5"/><circle cx="123.22" cy="572.37" r="0.5"/><circle cx="124" cy="576.59" r="0.5"/><circle cx="115.27" cy="572.97" r="0.5"/><circle cx="117.68" cy="571.1" r="0.5"/><circle cx="136.63" cy="569.41" r="0.5"/><circle cx="121.2" cy="573.36" r="0.5"/><circle cx="125.76" cy="572.12" r="0.5"/></g>
<g transform="translate(130.5 545) rotate(-29)"><ellipse rx="26.5" ry="10.5" fill="url(#g_med)"/><g fill="none" stroke="#5a5a5a" stroke-width="0.4" opacity="0.7"><ellipse rx="26.5" ry="10.5"/><ellipse rx="22.94" ry="9.09"/><ellipse rx="19.38" ry="7.68"/><ellipse rx="15.82" ry="6.27"/><ellipse rx="12.27" ry="4.86"/><ellipse rx="8.71" ry="3.45"/><ellipse rx="5.15" ry="2.04"/><ellipse rx="1.59" ry="0.63"/></g></g>
<g transform="translate(141.5 556.2) rotate(-37)"><ellipse rx="24.5" ry="12.5" fill="url(#g_med)"/><g fill="none" stroke="#5a5a5a" stroke-width="0.4" opacity="0.7"><ellipse rx="24.5" ry="12.5"/><ellipse rx="21.62" ry="11.03"/><ellipse rx="18.74" ry="9.56"/><ellipse rx="15.86" ry="8.09"/><ellipse rx="12.99" ry="6.62"/><ellipse rx="10.11" ry="5.16"/><ellipse rx="7.23" ry="3.69"/><ellipse rx="4.35" ry="2.22"/><ellipse rx="1.47" ry="0.75"/></g></g>
<polygon points="103.3,554.9 135.3,528.1 155,533.3 118.5,565.2" fill="none" stroke="#111" stroke-width="2" stroke-linejoin="miter"/>
<polygon points="156,534.5 172.3,546.6 134.5,582.8 119.3,567.9" fill="none" stroke="#f08a24" stroke-width="2" stroke-linejoin="miter"/>
<g fill="#555"><circle cx="205.64" cy="560.12" r="0.42"/><circle cx="228.56" cy="542.02" r="0.42"/><circle cx="217.21" cy="546.48" r="0.42"/><circle cx="241.47" cy="558.58" r="0.42"/><circle cx="243.14" cy="551.95" r="0.42"/><circle cx="230.23" cy="558.51" r="0.42"/><circle cx="215.39" cy="567.58" r="0.42"/><circle cx="206.71" cy="566.48" r="0.42"/><circle cx="235.38" cy="559.56" r="0.42"/><circle cx="225.61" cy="581.26" r="0.42"/><circle cx="224.61" cy="557.99" r="0.42"/><circle cx="226.22" cy="557.95" r="0.42"/><circle cx="219.01" cy="562.04" r="0.42"/><circle cx="254.01" cy="552.48" r="0.42"/><circle cx="229.72" cy="566.87" r="0.42"/><circle cx="253.22" cy="550.67" r="0.42"/><circle cx="223.38" cy="584.5" r="0.42"/><circle cx="203.82" cy="567.43" r="0.42"/><circle cx="241.05" cy="576.45" r="0.42"/><circle cx="205.37" cy="549.32" r="0.42"/><circle cx="233.3" cy="555.38" r="0.42"/><circle cx="221.2" cy="568.16" r="0.42"/><circle cx="229.35" cy="563.74" r="0.42"/><circle cx="222.85" cy="574.6" r="0.42"/><circle cx="246.7" cy="555.22" r="0.42"/><circle cx="221.04" cy="570.53" r="0.42"/><circle cx="229.29" cy="552.43" r="0.42"/><circle cx="221.78" cy="572.95" r="0.42"/><circle cx="223.14" cy="560.72" r="0.42"/><circle cx="228.3" cy="561.36" r="0.42"/><circle cx="220.08" cy="548.2" r="0.42"/><circle cx="250.6" cy="555.22" r="0.42"/><circle cx="215.72" cy="574.56" r="0.42"/><circle cx="229.8" cy="561.25" r="0.42"/><circle cx="246.36" cy="574.32" r="0.42"/><circle cx="237.54" cy="571.78" r="0.42"/><circle cx="253.01" cy="543.96" r="0.42"/><circle cx="220.15" cy="571.22" r="0.42"/><circle cx="200.59" cy="569.45" r="0.42"/><circle cx="246.48" cy="563.91" r="0.42"/><circle cx="228.38" cy="545.48" r="0.42"/><circle cx="260.04" cy="554.78" r="0.42"/><circle cx="237.57" cy="562.48" r="0.42"/><circle cx="197.28" cy="560.72" r="0.42"/><circle cx="213.5" cy="583.36" r="0.42"/><circle cx="213.02" cy="565.14" r="0.42"/><circle cx="223.37" cy="568.3" r="0.42"/><circle cx="233.19" cy="562.15" r="0.42"/><circle cx="199.03" cy="545.58" r="0.42"/><circle cx="228.48" cy="563.86" r="0.42"/><circle cx="242.46" cy="555.61" r="0.42"/><circle cx="217.91" cy="568.92" r="0.42"/><circle cx="200.64" cy="562.84" r="0.42"/><circle cx="212" cy="570.03" r="0.42"/><circle cx="256.96" cy="557.71" r="0.42"/><circle cx="242.15" cy="558.63" r="0.42"/><circle cx="228.1" cy="557.89" r="0.42"/><circle cx="214.79" cy="545.88" r="0.42"/><circle cx="204.93" cy="559.19" r="0.42"/><circle cx="239.01" cy="563.39" r="0.42"/><circle cx="245.75" cy="568.54" r="0.42"/><circle cx="223.98" cy="572.2" r="0.42"/><circle cx="252.94" cy="552.6" r="0.42"/><circle cx="240.27" cy="555.88" r="0.42"/><circle cx="203" cy="571.88" r="0.42"/><circle cx="214.11" cy="567.74" r="0.42"/><circle cx="219.75" cy="567.48" r="0.42"/><circle cx="200.98" cy="589.33" r="0.42"/><circle cx="243.61" cy="553.09" r="0.42"/><circle cx="212.6" cy="567.39" r="0.42"/><circle cx="236.08" cy="562.42" r="0.42"/><circle cx="225.67" cy="545.83" r="0.42"/><circle cx="213.14" cy="578.6" r="0.42"/><circle cx="224.62" cy="550.03" r="0.42"/><circle cx="209.2" cy="556.27" r="0.42"/><circle cx="214.24" cy="576.82" r="0.42"/><circle cx="225.36" cy="572.35" r="0.42"/><circle cx="223.91" cy="550.3" r="0.42"/><circle cx="222.5" cy="583.52" r="0.42"/><circle cx="211.53" cy="558.68" r="0.42"/><circle cx="243.34" cy="556.95" r="0.42"/><circle cx="229.39" cy="573.95" r="0.42"/><circle cx="201.3" cy="575.09" r="0.42"/><circle cx="206.35" cy="557.47" r="0.42"/><circle cx="216.92" cy="575.78" r="0.42"/><circle cx="218.26" cy="549.37" r="0.42"/><circle cx="213.71" cy="580.2" r="0.42"/><circle cx="237.08" cy="548.97" r="0.42"/><circle cx="259.28" cy="547.18" r="0.42"/><circle cx="207.83" cy="567.91" r="0.42"/><circle cx="243.39" cy="570.16" r="0.42"/><circle cx="239.03" cy="554.02" r="0.42"/><circle cx="213.24" cy="554.46" r="0.42"/><circle cx="222.67" cy="558.51" r="0.42"/><circle cx="225.38" cy="551.68" r="0.42"/><circle cx="215.48" cy="558.64" r="0.42"/><circle cx="204.74" cy="559.91" r="0.42"/><circle cx="207.41" cy="558.95" r="0.42"/><circle cx="233.88" cy="560.48" r="0.42"/><circle cx="207.79" cy="573.57" r="0.42"/><circle cx="233.63" cy="572.42" r="0.42"/><circle cx="222.01" cy="562.11" r="0.42"/><circle cx="215.81" cy="567.27" r="0.42"/><circle cx="233" cy="561.45" r="0.42"/><circle cx="223.32" cy="568.37" r="0.42"/><circle cx="227.41" cy="564.12" r="0.42"/><circle cx="212.52" cy="569.19" r="0.42"/><circle cx="208.67" cy="561.44" r="0.42"/><circle cx="233.62" cy="578.05" r="0.42"/><circle cx="239.78" cy="557.5" r="0.42"/><circle cx="225.58" cy="571.24" r="0.42"/><circle cx="248.76" cy="564.83" r="0.42"/><circle cx="223.25" cy="565.13" r="0.42"/><circle cx="219.84" cy="562.24" r="0.42"/><circle cx="212.38" cy="565.27" r="0.42"/><circle cx="191" cy="564.77" r="0.42"/><circle cx="228.94" cy="553.35" r="0.42"/><circle cx="229.57" cy="549.92" r="0.42"/><circle cx="221.19" cy="567.68" r="0.42"/><circle cx="208.44" cy="562.65" r="0.42"/><circle cx="259.15" cy="544.48" r="0.42"/><circle cx="213.62" cy="561.99" r="0.42"/><circle cx="225.81" cy="562.32" r="0.42"/><circle cx="241.8" cy="563.63" r="0.42"/><circle cx="218.59" cy="562.08" r="0.42"/><circle cx="200.81" cy="558.62" r="0.42"/><circle cx="216.79" cy="572.2" r="0.42"/><circle cx="229.38" cy="568.24" r="0.42"/><circle cx="238.51" cy="556.5" r="0.42"/><circle cx="254.21" cy="547.66" r="0.42"/><circle cx="215.19" cy="562.68" r="0.42"/><circle cx="241.41" cy="555.68" r="0.42"/><circle cx="215.96" cy="569.92" r="0.42"/><circle cx="241.41" cy="555.9" r="0.42"/><circle cx="224.8" cy="572.36" r="0.42"/><circle cx="242.21" cy="564.81" r="0.42"/><circle cx="215.19" cy="568.88" r="0.42"/><circle cx="225.6" cy="547" r="0.42"/><circle cx="243" cy="557.16" r="0.42"/><circle cx="226.82" cy="581.88" r="0.42"/><circle cx="225.49" cy="556.4" r="0.42"/><circle cx="226.07" cy="567.36" r="0.42"/><circle cx="236.95" cy="558" r="0.42"/><circle cx="211" cy="561.88" r="0.42"/><circle cx="210.69" cy="558.9" r="0.42"/><circle cx="223.74" cy="559.04" r="0.42"/><circle cx="223.87" cy="556.07" r="0.42"/><circle cx="212.41" cy="565.82" r="0.42"/><circle cx="223.6" cy="573.37" r="0.42"/><circle cx="212.97" cy="569.02" r="0.42"/><circle cx="221.15" cy="552.87" r="0.42"/><circle cx="236.34" cy="560.19" r="0.42"/><circle cx="196.88" cy="578.31" r="0.42"/><circle cx="236.67" cy="551.68" r="0.42"/><circle cx="250.2" cy="555.02" r="0.42"/><circle cx="210.39" cy="573.05" r="0.42"/><circle cx="216.48" cy="554.32" r="0.42"/><circle cx="195.23" cy="575.81" r="0.42"/><circle cx="216.63" cy="571.49" r="0.42"/><circle cx="229.52" cy="556.69" r="0.42"/><circle cx="222.7" cy="579.03" r="0.42"/><circle cx="252.04" cy="559.54" r="0.42"/><circle cx="217.54" cy="557.04" r="0.42"/><circle cx="224.48" cy="577.48" r="0.42"/><circle cx="231.21" cy="558.07" r="0.42"/><circle cx="208.24" cy="570.4" r="0.42"/><circle cx="212.8" cy="567.4" r="0.42"/><circle cx="239.05" cy="567.02" r="0.42"/><circle cx="226.46" cy="559.35" r="0.42"/><circle cx="233.69" cy="575.31" r="0.42"/><circle cx="226.89" cy="550.02" r="0.42"/><circle cx="248.38" cy="556.51" r="0.42"/><circle cx="274.06" cy="540.92" r="0.42"/><circle cx="223.23" cy="560.92" r="0.42"/><circle cx="229.21" cy="556.3" r="0.42"/><circle cx="198.87" cy="555.71" r="0.42"/><circle cx="222.2" cy="559.41" r="0.42"/><circle cx="222.99" cy="581.94" r="0.42"/><circle cx="239.84" cy="566.89" r="0.42"/><circle cx="219.07" cy="567.6" r="0.42"/></g>
<g fill="#555"><circle cx="233.42" cy="560.56" r="0.5"/><circle cx="230.92" cy="558.99" r="0.5"/><circle cx="233.7" cy="560.51" r="0.5"/><circle cx="238.39" cy="553.25" r="0.5"/><circle cx="245.02" cy="539.23" r="0.5"/><circle cx="234.55" cy="564.7" r="0.5"/><circle cx="229.38" cy="558.72" r="0.5"/><circle cx="233.33" cy="564.33" r="0.5"/><circle cx="238.64" cy="550.41" r="0.5"/><circle cx="232.63" cy="557.72" r="0.5"/><circle cx="239.09" cy="555.38" r="0.5"/><circle cx="235.42" cy="565.23" r="0.5"/><circle cx="230.2" cy="563.2" r="0.5"/><circle cx="225.4" cy="562.61" r="0.5"/><circle cx="215.39" cy="564.28" r="0.5"/><circle cx="226.36" cy="560.01" r="0.5"/><circle cx="243.2" cy="543.9" r="0.5"/><circle cx="215.25" cy="569.93" r="0.5"/><circle cx="236.48" cy="559.62" r="0.5"/><circle cx="244.39" cy="565.95" r="0.5"/><circle cx="225.36" cy="557.12" r="0.5"/><circle cx="232.63" cy="566.74" r="0.5"/><circle cx="234.35" cy="558.8" r="0.5"/><circle cx="234.48" cy="561.26" r="0.5"/><circle cx="219.49" cy="569.08" r="0.5"/><circle cx="224.84" cy="563.02" r="0.5"/><circle cx="227.83" cy="563.29" r="0.5"/><circle cx="238.25" cy="556.99" r="0.5"/><circle cx="234.61" cy="564.44" r="0.5"/><circle cx="233.8" cy="556.68" r="0.5"/><circle cx="236.85" cy="556.59" r="0.5"/><circle cx="230.01" cy="563.01" r="0.5"/><circle cx="241.34" cy="552.17" r="0.5"/><circle cx="229.01" cy="563.18" r="0.5"/><circle cx="225.45" cy="564.67" r="0.5"/><circle cx="237.63" cy="549.15" r="0.5"/><circle cx="230.5" cy="558" r="0.5"/><circle cx="248.28" cy="556.5" r="0.5"/><circle cx="236.02" cy="558.52" r="0.5"/><circle cx="224.1" cy="565.07" r="0.5"/><circle cx="234.44" cy="560.03" r="0.5"/><circle cx="246.72" cy="558.14" r="0.5"/><circle cx="224.19" cy="562.69" r="0.5"/><circle cx="231.57" cy="555.03" r="0.5"/><circle cx="229.06" cy="559.19" r="0.5"/><circle cx="233.37" cy="561.09" r="0.5"/><circle cx="229.55" cy="568.75" r="0.5"/><circle cx="228.73" cy="566.06" r="0.5"/><circle cx="222.05" cy="560.76" r="0.5"/><circle cx="226.3" cy="561.62" r="0.5"/><circle cx="235" cy="551.96" r="0.5"/><circle cx="241.92" cy="550.25" r="0.5"/><circle cx="243.4" cy="556.77" r="0.5"/><circle cx="229.78" cy="566.44" r="0.5"/><circle cx="228.26" cy="562.81" r="0.5"/><circle cx="238.04" cy="573.11" r="0.5"/><circle cx="228.26" cy="572.71" r="0.5"/><circle cx="228.36" cy="559.13" r="0.5"/><circle cx="230.62" cy="568.18" r="0.5"/><circle cx="228.78" cy="558.56" r="0.5"/><circle cx="236.98" cy="560.17" r="0.5"/><circle cx="237.55" cy="552.64" r="0.5"/><circle cx="245.37" cy="561.08" r="0.5"/><circle cx="225.79" cy="562.22" r="0.5"/><circle cx="234.78" cy="558.48" r="0.5"/><circle cx="238.84" cy="560.84" r="0.5"/><circle cx="229.31" cy="556.41" r="0.5"/><circle cx="217.09" cy="569.41" r="0.5"/><circle cx="224.43" cy="570.32" r="0.5"/><circle cx="245.16" cy="555.5" r="0.5"/><circle cx="240.63" cy="563.37" r="0.5"/><circle cx="235.63" cy="553.54" r="0.5"/><circle cx="223.2" cy="562.51" r="0.5"/><circle cx="230.64" cy="557.26" r="0.5"/><circle cx="235.77" cy="565.93" r="0.5"/><circle cx="228.7" cy="562.61" r="0.5"/><circle cx="224.01" cy="564.07" r="0.5"/><circle cx="241.19" cy="563.58" r="0.5"/><circle cx="231.87" cy="557" r="0.5"/><circle cx="242.4" cy="545.56" r="0.5"/><circle cx="226.85" cy="559.46" r="0.5"/><circle cx="232.86" cy="563.58" r="0.5"/><circle cx="235.47" cy="577.81" r="0.5"/><circle cx="248.97" cy="557.57" r="0.5"/><circle cx="225.12" cy="556.38" r="0.5"/><circle cx="242.48" cy="560.68" r="0.5"/><circle cx="238.18" cy="565.68" r="0.5"/><circle cx="232.65" cy="553.45" r="0.5"/><circle cx="216.83" cy="566.19" r="0.5"/><circle cx="234.05" cy="563.31" r="0.5"/><circle cx="233.55" cy="559.41" r="0.5"/><circle cx="226.79" cy="566.37" r="0.5"/><circle cx="236.14" cy="556.12" r="0.5"/><circle cx="223.7" cy="562.79" r="0.5"/><circle cx="224.55" cy="565.61" r="0.5"/><circle cx="223.34" cy="566.75" r="0.5"/><circle cx="226.29" cy="566.19" r="0.5"/><circle cx="247.71" cy="547.88" r="0.5"/><circle cx="237.34" cy="570.94" r="0.5"/><circle cx="239.1" cy="558.74" r="0.5"/><circle cx="235.27" cy="558.07" r="0.5"/><circle cx="215.76" cy="555.07" r="0.5"/><circle cx="224.9" cy="561.13" r="0.5"/><circle cx="240.59" cy="558.42" r="0.5"/><circle cx="220.7" cy="568.63" r="0.5"/><circle cx="224.46" cy="570.62" r="0.5"/><circle cx="225.39" cy="568.43" r="0.5"/><circle cx="231.5" cy="558.63" r="0.5"/><circle cx="239.39" cy="556.37" r="0.5"/><circle cx="213.77" cy="571.6" r="0.5"/><circle cx="223.48" cy="562.76" r="0.5"/><circle cx="234.86" cy="563.46" r="0.5"/><circle cx="230.72" cy="556.1" r="0.5"/><circle cx="223.87" cy="558.75" r="0.5"/><circle cx="228.23" cy="559.15" r="0.5"/><circle cx="235.99" cy="555.41" r="0.5"/><circle cx="242.35" cy="565.47" r="0.5"/><circle cx="234.83" cy="558.61" r="0.5"/><circle cx="238.79" cy="553.21" r="0.5"/><circle cx="233.68" cy="567.05" r="0.5"/><circle cx="235.56" cy="558.39" r="0.5"/><circle cx="228.33" cy="559.99" r="0.5"/><circle cx="246.66" cy="564.37" r="0.5"/><circle cx="242.89" cy="556.09" r="0.5"/><circle cx="232.47" cy="556.36" r="0.5"/><circle cx="224.52" cy="567.86" r="0.5"/><circle cx="234.08" cy="553.32" r="0.5"/><circle cx="222.9" cy="566.95" r="0.5"/><circle cx="223.57" cy="570.51" r="0.5"/><circle cx="238.49" cy="552.08" r="0.5"/><circle cx="230.99" cy="566.24" r="0.5"/><circle cx="239.18" cy="557.43" r="0.5"/><circle cx="230" cy="560.4" r="0.5"/><circle cx="236.91" cy="561.71" r="0.5"/><circle cx="228.76" cy="559.74" r="0.5"/><circle cx="230.23" cy="560.6" r="0.5"/><circle cx="225.58" cy="557.17" r="0.5"/><circle cx="233.58" cy="564.31" r="0.5"/><circle cx="234.57" cy="565.98" r="0.5"/><circle cx="235.78" cy="562.95" r="0.5"/><circle cx="233.9" cy="549.52" r="0.5"/><circle cx="239.01" cy="563.21" r="0.5"/><circle cx="218.9" cy="557.31" r="0.5"/><circle cx="223.24" cy="563.24" r="0.5"/><circle cx="230.81" cy="553.27" r="0.5"/><circle cx="227.44" cy="556.78" r="0.5"/><circle cx="232.68" cy="559.72" r="0.5"/><circle cx="231.62" cy="558.06" r="0.5"/><circle cx="229.52" cy="566.49" r="0.5"/><circle cx="222.48" cy="565" r="0.5"/><circle cx="226.13" cy="561.88" r="0.5"/><circle cx="227.72" cy="568.94" r="0.5"/><circle cx="238.07" cy="556.52" r="0.5"/><circle cx="246.79" cy="554.98" r="0.5"/><circle cx="240.58" cy="551.19" r="0.5"/><circle cx="225.96" cy="560.31" r="0.5"/><circle cx="249.08" cy="557.88" r="0.5"/><circle cx="229.36" cy="563.6" r="0.5"/><circle cx="230.45" cy="561.05" r="0.5"/><circle cx="226.51" cy="568.29" r="0.5"/><circle cx="232.93" cy="556.52" r="0.5"/><circle cx="236.26" cy="563.7" r="0.5"/><circle cx="233" cy="558.96" r="0.5"/><circle cx="238.05" cy="562.08" r="0.5"/><circle cx="245.58" cy="552" r="0.5"/><circle cx="234.51" cy="559.9" r="0.5"/><circle cx="228.33" cy="563.08" r="0.5"/><circle cx="219.62" cy="562.65" r="0.5"/><circle cx="221.7" cy="567.05" r="0.5"/><circle cx="226.74" cy="558.48" r="0.5"/><circle cx="229.17" cy="565.05" r="0.5"/><circle cx="223.34" cy="551.65" r="0.5"/><circle cx="247.67" cy="551.83" r="0.5"/><circle cx="236.24" cy="553.48" r="0.5"/><circle cx="228.75" cy="562.97" r="0.5"/><circle cx="232.64" cy="558.08" r="0.5"/><circle cx="243.78" cy="551.75" r="0.5"/><circle cx="233.17" cy="571.41" r="0.5"/><circle cx="229.44" cy="553.51" r="0.5"/><circle cx="237.84" cy="561.16" r="0.5"/><circle cx="245.85" cy="564.71" r="0.5"/><circle cx="234.76" cy="565.48" r="0.5"/><circle cx="230.59" cy="557.05" r="0.5"/><circle cx="223.58" cy="560.19" r="0.5"/><circle cx="223.32" cy="573.24" r="0.5"/><circle cx="223.86" cy="558.08" r="0.5"/><circle cx="228.61" cy="556.11" r="0.5"/><circle cx="243.89" cy="565.47" r="0.5"/><circle cx="235.24" cy="559.06" r="0.5"/><circle cx="230.15" cy="564.61" r="0.5"/><circle cx="240.69" cy="562.16" r="0.5"/><circle cx="229.27" cy="563.74" r="0.5"/><circle cx="221.62" cy="567.1" r="0.5"/><circle cx="241.33" cy="562.43" r="0.5"/><circle cx="221.97" cy="558.17" r="0.5"/><circle cx="247.32" cy="554.16" r="0.5"/><circle cx="230.84" cy="563.4" r="0.5"/><circle cx="231.19" cy="564.38" r="0.5"/><circle cx="235.12" cy="556.15" r="0.5"/><circle cx="220.42" cy="563.81" r="0.5"/><circle cx="209.23" cy="576.3" r="0.5"/><circle cx="224.96" cy="559.04" r="0.5"/><circle cx="236.32" cy="562.55" r="0.5"/><circle cx="227.56" cy="558.51" r="0.5"/><circle cx="217.44" cy="563.28" r="0.5"/><circle cx="223.02" cy="557.08" r="0.5"/><circle cx="231.11" cy="563.18" r="0.5"/><circle cx="233.79" cy="571.17" r="0.5"/><circle cx="233.6" cy="563.17" r="0.5"/><circle cx="262.73" cy="555.59" r="0.5"/><circle cx="233.87" cy="562.43" r="0.5"/><circle cx="231.48" cy="562.78" r="0.5"/><circle cx="228.14" cy="555.66" r="0.5"/><circle cx="223.52" cy="569.07" r="0.5"/><circle cx="245.64" cy="556.02" r="0.5"/><circle cx="222.32" cy="559.43" r="0.5"/><circle cx="247.24" cy="563.83" r="0.5"/><circle cx="240.46" cy="556.93" r="0.5"/><circle cx="230.76" cy="567.39" r="0.5"/><circle cx="228.28" cy="557.78" r="0.5"/><circle cx="213.87" cy="566.52" r="0.5"/><circle cx="228.73" cy="558.16" r="0.5"/><circle cx="241.36" cy="552.32" r="0.5"/><circle cx="241.07" cy="557.92" r="0.5"/><circle cx="231.98" cy="565.41" r="0.5"/><circle cx="225.61" cy="571.26" r="0.5"/><circle cx="227.29" cy="561.2" r="0.5"/><circle cx="236.62" cy="560.39" r="0.5"/><circle cx="227.67" cy="567.79" r="0.5"/><circle cx="224.78" cy="564.82" r="0.5"/><circle cx="225.97" cy="563.45" r="0.5"/><circle cx="236.87" cy="558.07" r="0.5"/><circle cx="227.22" cy="568.96" r="0.5"/><circle cx="234.64" cy="555.86" r="0.5"/><circle cx="227.63" cy="560.58" r="0.5"/><circle cx="251.8" cy="553.06" r="0.5"/><circle cx="244.92" cy="558.83" r="0.5"/><circle cx="238.71" cy="559.09" r="0.5"/><circle cx="216.55" cy="567.57" r="0.5"/><circle cx="232.91" cy="557.01" r="0.5"/><circle cx="244.67" cy="555.89" r="0.5"/><circle cx="227.53" cy="551.93" r="0.5"/><circle cx="241.72" cy="562.34" r="0.5"/><circle cx="218.79" cy="560.7" r="0.5"/><circle cx="236.87" cy="552.18" r="0.5"/><circle cx="233.52" cy="559.02" r="0.5"/><circle cx="242.02" cy="556.17" r="0.5"/><circle cx="235.02" cy="558.25" r="0.5"/><circle cx="216.92" cy="567.35" r="0.5"/><circle cx="241.59" cy="555.46" r="0.5"/><circle cx="233.38" cy="560.08" r="0.5"/><circle cx="237.7" cy="561.05" r="0.5"/><circle cx="238.33" cy="552.86" r="0.5"/><circle cx="219.87" cy="571.98" r="0.5"/><circle cx="228.25" cy="562.87" r="0.5"/><circle cx="242.4" cy="553.65" r="0.5"/><circle cx="244.91" cy="555.07" r="0.5"/><circle cx="216.91" cy="568.14" r="0.5"/><circle cx="233.18" cy="561.29" r="0.5"/><circle cx="235.5" cy="571.91" r="0.5"/><circle cx="244.47" cy="559.97" r="0.5"/><circle cx="228.41" cy="562.43" r="0.5"/><circle cx="238.3" cy="566.1" r="0.5"/><circle cx="223.5" cy="571.92" r="0.5"/><circle cx="242.19" cy="558.67" r="0.5"/><circle cx="234.46" cy="557.3" r="0.5"/><circle cx="233.24" cy="567.25" r="0.5"/><circle cx="239.66" cy="564.18" r="0.5"/><circle cx="237.24" cy="556.9" r="0.5"/><circle cx="243" cy="565.2" r="0.5"/><circle cx="247.01" cy="557.6" r="0.5"/><circle cx="222.63" cy="570.01" r="0.5"/><circle cx="222.76" cy="574.52" r="0.5"/><circle cx="224.84" cy="559.17" r="0.5"/><circle cx="242.08" cy="559.6" r="0.5"/><circle cx="236.35" cy="567.15" r="0.5"/><circle cx="231.47" cy="564.89" r="0.5"/><circle cx="237.05" cy="561.97" r="0.5"/><circle cx="237.64" cy="561.6" r="0.5"/><circle cx="217.62" cy="565.85" r="0.5"/><circle cx="231.76" cy="556.86" r="0.5"/><circle cx="237.6" cy="556.67" r="0.5"/><circle cx="225.3" cy="567.28" r="0.5"/><circle cx="224.24" cy="561.64" r="0.5"/><circle cx="228.82" cy="560.06" r="0.5"/><circle cx="235.61" cy="564.07" r="0.5"/><circle cx="227.8" cy="564.76" r="0.5"/><circle cx="229.52" cy="561.74" r="0.5"/><circle cx="226.26" cy="566.61" r="0.5"/><circle cx="228.56" cy="561.31" r="0.5"/><circle cx="226.13" cy="559.54" r="0.5"/><circle cx="235.45" cy="558.55" r="0.5"/><circle cx="224.04" cy="570.16" r="0.5"/><circle cx="243.17" cy="552.6" r="0.5"/><circle cx="237.09" cy="555.61" r="0.5"/><circle cx="234.7" cy="563.92" r="0.5"/><circle cx="223.25" cy="559.96" r="0.5"/><circle cx="228.77" cy="564.37" r="0.5"/><circle cx="235.75" cy="556.52" r="0.5"/><circle cx="236.85" cy="568.5" r="0.5"/><circle cx="231.38" cy="554.37" r="0.5"/><circle cx="232.7" cy="554.43" r="0.5"/><circle cx="225.87" cy="560.82" r="0.5"/><circle cx="243.97" cy="565.99" r="0.5"/><circle cx="244.2" cy="561.02" r="0.5"/><circle cx="230.32" cy="569.7" r="0.5"/><circle cx="240.61" cy="552.2" r="0.5"/><circle cx="247.53" cy="555.63" r="0.5"/><circle cx="234.55" cy="564.08" r="0.5"/><circle cx="245.95" cy="554.02" r="0.5"/><circle cx="243.12" cy="564.38" r="0.5"/><circle cx="234.48" cy="567.19" r="0.5"/><circle cx="232.84" cy="559.25" r="0.5"/><circle cx="234.84" cy="562.43" r="0.5"/><circle cx="245.45" cy="563.54" r="0.5"/><circle cx="238.94" cy="559" r="0.5"/><circle cx="232.95" cy="560.1" r="0.5"/><circle cx="220.05" cy="569.35" r="0.5"/><circle cx="242.2" cy="551.92" r="0.5"/><circle cx="234.54" cy="560.67" r="0.5"/><circle cx="229.85" cy="556.89" r="0.5"/><circle cx="221.68" cy="566.69" r="0.5"/><circle cx="232.93" cy="557.19" r="0.5"/><circle cx="237.9" cy="557.58" r="0.5"/><circle cx="233.86" cy="559.07" r="0.5"/><circle cx="242.55" cy="558.03" r="0.5"/><circle cx="229.61" cy="555.44" r="0.5"/><circle cx="249.55" cy="557.75" r="0.5"/><circle cx="244.39" cy="550.63" r="0.5"/><circle cx="231.96" cy="560.85" r="0.5"/><circle cx="228.46" cy="564.16" r="0.5"/><circle cx="235.63" cy="565.31" r="0.5"/><circle cx="236.6" cy="553.59" r="0.5"/><circle cx="238.86" cy="557.57" r="0.5"/><circle cx="245.16" cy="560.13" r="0.5"/><circle cx="237.19" cy="554.97" r="0.5"/><circle cx="236.23" cy="566.47" r="0.5"/><circle cx="234.11" cy="565.42" r="0.5"/><circle cx="220.96" cy="562.26" r="0.5"/><circle cx="231.28" cy="559.46" r="0.5"/><circle cx="226.73" cy="567.34" r="0.5"/><circle cx="232.06" cy="563.08" r="0.5"/><circle cx="233.9" cy="565.81" r="0.5"/><circle cx="214.81" cy="559.16" r="0.5"/><circle cx="237.45" cy="565.01" r="0.5"/><circle cx="234.34" cy="562.85" r="0.5"/><circle cx="232.82" cy="566.11" r="0.5"/><circle cx="234.62" cy="556.64" r="0.5"/><circle cx="243.32" cy="553.33" r="0.5"/><circle cx="222.62" cy="571.71" r="0.5"/><circle cx="232.55" cy="562.02" r="0.5"/><circle cx="223.32" cy="567.23" r="0.5"/><circle cx="231.6" cy="560.77" r="0.5"/><circle cx="243.62" cy="556.62" r="0.5"/><circle cx="238.84" cy="555.52" r="0.5"/><circle cx="231.71" cy="558.45" r="0.5"/><circle cx="239.1" cy="562.43" r="0.5"/><circle cx="235.67" cy="559.08" r="0.5"/><circle cx="220.99" cy="564.99" r="0.5"/><circle cx="245.92" cy="556.19" r="0.5"/><circle cx="240.47" cy="566.21" r="0.5"/><circle cx="230.13" cy="561.31" r="0.5"/><circle cx="236.19" cy="564.5" r="0.5"/><circle cx="244.61" cy="558.32" r="0.5"/><circle cx="229.45" cy="563.78" r="0.5"/><circle cx="237.5" cy="566.18" r="0.5"/><circle cx="225.3" cy="567.02" r="0.5"/><circle cx="235.75" cy="563.42" r="0.5"/><circle cx="235.18" cy="565.26" r="0.5"/><circle cx="233.84" cy="561.42" r="0.5"/><circle cx="249.26" cy="549.45" r="0.5"/><circle cx="248.24" cy="556.3" r="0.5"/><circle cx="232.17" cy="567.21" r="0.5"/><circle cx="229.39" cy="562.42" r="0.5"/><circle cx="229.95" cy="566.74" r="0.5"/><circle cx="223.03" cy="563.68" r="0.5"/><circle cx="228.39" cy="567.59" r="0.5"/><circle cx="242.69" cy="561.64" r="0.5"/><circle cx="227.8" cy="561.64" r="0.5"/><circle cx="224.74" cy="566.35" r="0.5"/><circle cx="227.23" cy="563.75" r="0.5"/><circle cx="223.38" cy="565.96" r="0.5"/><circle cx="246.48" cy="553.79" r="0.5"/><circle cx="231.29" cy="557.07" r="0.5"/><circle cx="225.82" cy="563.75" r="0.5"/><circle cx="219.98" cy="562.01" r="0.5"/><circle cx="231.59" cy="549.79" r="0.5"/><circle cx="230.25" cy="553.57" r="0.5"/><circle cx="227.69" cy="564.28" r="0.5"/><circle cx="227.71" cy="567.61" r="0.5"/><circle cx="224.27" cy="565.79" r="0.5"/><circle cx="253.1" cy="552.56" r="0.5"/><circle cx="228.83" cy="565.89" r="0.5"/><circle cx="234.95" cy="555.95" r="0.5"/><circle cx="232.14" cy="559.04" r="0.5"/><circle cx="230.12" cy="561.96" r="0.5"/><circle cx="219.42" cy="566.99" r="0.5"/><circle cx="234.01" cy="567.57" r="0.5"/><circle cx="229.89" cy="557.29" r="0.5"/><circle cx="239.94" cy="564.77" r="0.5"/></g>
<g fill="#555"><circle cx="239.94" cy="585.8" r="0.5"/><circle cx="249.99" cy="569.11" r="0.5"/><circle cx="253.36" cy="564.65" r="0.5"/><circle cx="266.6" cy="561.12" r="0.5"/><circle cx="249.87" cy="575.02" r="0.5"/><circle cx="241.21" cy="580.8" r="0.5"/><circle cx="258.18" cy="569.41" r="0.5"/><circle cx="250.55" cy="566.79" r="0.5"/><circle cx="248.49" cy="567.17" r="0.5"/><circle cx="249.32" cy="569.69" r="0.5"/><circle cx="245.08" cy="578.84" r="0.5"/><circle cx="266.76" cy="564.99" r="0.5"/><circle cx="245.61" cy="573.49" r="0.5"/><circle cx="241.02" cy="576.38" r="0.5"/><circle cx="251.04" cy="572.87" r="0.5"/><circle cx="245.96" cy="574.99" r="0.5"/><circle cx="239.62" cy="577.68" r="0.5"/><circle cx="261.37" cy="568.5" r="0.5"/><circle cx="252.92" cy="569.8" r="0.5"/><circle cx="249.18" cy="569.47" r="0.5"/><circle cx="241.48" cy="580.49" r="0.5"/><circle cx="241.7" cy="579.81" r="0.5"/><circle cx="240.19" cy="578.97" r="0.5"/><circle cx="261.89" cy="564.8" r="0.5"/><circle cx="248.55" cy="573.83" r="0.5"/><circle cx="239.46" cy="583.75" r="0.5"/><circle cx="241.41" cy="574.91" r="0.5"/><circle cx="243.64" cy="576.81" r="0.5"/><circle cx="242.31" cy="574.91" r="0.5"/><circle cx="252.25" cy="570.53" r="0.5"/><circle cx="259.04" cy="567.77" r="0.5"/><circle cx="254.96" cy="562.98" r="0.5"/><circle cx="250.25" cy="573.5" r="0.5"/><circle cx="254.35" cy="566.85" r="0.5"/><circle cx="255.21" cy="571.96" r="0.5"/><circle cx="240.23" cy="575.64" r="0.5"/><circle cx="243.14" cy="577.84" r="0.5"/><circle cx="240.63" cy="578.92" r="0.5"/><circle cx="243.21" cy="572.73" r="0.5"/><circle cx="240.25" cy="588.46" r="0.5"/><circle cx="259.66" cy="568.27" r="0.5"/><circle cx="239.03" cy="583.67" r="0.5"/><circle cx="243.56" cy="571.41" r="0.5"/><circle cx="243.55" cy="574.62" r="0.5"/><circle cx="260.42" cy="563.99" r="0.5"/><circle cx="249.16" cy="574.07" r="0.5"/><circle cx="249.53" cy="566.79" r="0.5"/><circle cx="257.29" cy="566.75" r="0.5"/><circle cx="259.11" cy="571.29" r="0.5"/><circle cx="250.82" cy="580.35" r="0.5"/><circle cx="245.71" cy="573.74" r="0.5"/><circle cx="235.65" cy="588.4" r="0.5"/><circle cx="246.06" cy="572.28" r="0.5"/><circle cx="245.74" cy="577.18" r="0.5"/><circle cx="257.79" cy="568.38" r="0.5"/><circle cx="245.42" cy="572.35" r="0.5"/><circle cx="233.79" cy="581.53" r="0.5"/><circle cx="251.03" cy="569.08" r="0.5"/><circle cx="264.32" cy="564.33" r="0.5"/><circle cx="247.48" cy="575.59" r="0.5"/><circle cx="248.61" cy="569.51" r="0.5"/><circle cx="243.27" cy="570.61" r="0.5"/><circle cx="248.42" cy="577.03" r="0.5"/><circle cx="248.71" cy="579.59" r="0.5"/><circle cx="248.74" cy="575.61" r="0.5"/><circle cx="250.73" cy="568.33" r="0.5"/><circle cx="241.45" cy="580.03" r="0.5"/><circle cx="254.25" cy="568.17" r="0.5"/><circle cx="242.04" cy="566.23" r="0.5"/><circle cx="245.88" cy="578.55" r="0.5"/><circle cx="256.89" cy="567.72" r="0.5"/><circle cx="244.87" cy="579.16" r="0.5"/><circle cx="248.18" cy="576.23" r="0.5"/><circle cx="257.14" cy="562.22" r="0.5"/><circle cx="247.25" cy="574.79" r="0.5"/><circle cx="251.71" cy="570.7" r="0.5"/><circle cx="256.7" cy="570.14" r="0.5"/><circle cx="244.55" cy="575.42" r="0.5"/><circle cx="253.99" cy="564.14" r="0.5"/><circle cx="240.55" cy="570.48" r="0.5"/><circle cx="246.34" cy="582.38" r="0.5"/><circle cx="263.1" cy="559.89" r="0.5"/><circle cx="262.76" cy="563.73" r="0.5"/><circle cx="251.66" cy="569.96" r="0.5"/><circle cx="254.34" cy="562.48" r="0.5"/><circle cx="259.92" cy="564.98" r="0.5"/><circle cx="245.82" cy="567.97" r="0.5"/><circle cx="267.78" cy="561.37" r="0.5"/><circle cx="251.44" cy="571.09" r="0.5"/><circle cx="255.35" cy="565.76" r="0.5"/><circle cx="253.27" cy="572.56" r="0.5"/><circle cx="243.31" cy="574.43" r="0.5"/><circle cx="256.03" cy="563.62" r="0.5"/><circle cx="244.51" cy="578.28" r="0.5"/><circle cx="267.68" cy="565.5" r="0.5"/><circle cx="246.86" cy="582.81" r="0.5"/><circle cx="239.26" cy="578.59" r="0.5"/><circle cx="254.26" cy="572.41" r="0.5"/><circle cx="255.94" cy="569.38" r="0.5"/><circle cx="233.22" cy="578.5" r="0.5"/><circle cx="250.44" cy="573.63" r="0.5"/><circle cx="248.27" cy="570.7" r="0.5"/><circle cx="253.27" cy="573.25" r="0.5"/><circle cx="231.1" cy="591.83" r="0.5"/><circle cx="263.15" cy="564.45" r="0.5"/><circle cx="244.89" cy="575.96" r="0.5"/><circle cx="253.85" cy="577.31" r="0.5"/><circle cx="253.55" cy="572.49" r="0.5"/><circle cx="256.9" cy="567.2" r="0.5"/><circle cx="241.78" cy="571.57" r="0.5"/><circle cx="246.14" cy="578.07" r="0.5"/><circle cx="251.44" cy="562.92" r="0.5"/><circle cx="246.37" cy="574.75" r="0.5"/><circle cx="253.77" cy="567.11" r="0.5"/><circle cx="246.32" cy="574.52" r="0.5"/><circle cx="251.98" cy="570.18" r="0.5"/><circle cx="242.67" cy="576.31" r="0.5"/><circle cx="248.41" cy="570.5" r="0.5"/><circle cx="247.23" cy="572.91" r="0.5"/><circle cx="241.33" cy="585.72" r="0.5"/><circle cx="249.84" cy="575.1" r="0.5"/><circle cx="263.3" cy="562.67" r="0.5"/><circle cx="243.09" cy="576.98" r="0.5"/><circle cx="242.63" cy="576.01" r="0.5"/><circle cx="252.74" cy="566.54" r="0.5"/><circle cx="253.5" cy="569.89" r="0.5"/><circle cx="260.87" cy="565.23" r="0.5"/><circle cx="256.3" cy="569.34" r="0.5"/><circle cx="245.29" cy="574.13" r="0.5"/><circle cx="239.96" cy="574.87" r="0.5"/><circle cx="261.64" cy="558.39" r="0.5"/><circle cx="256.67" cy="565.58" r="0.5"/><circle cx="241.09" cy="578.79" r="0.5"/><circle cx="256.79" cy="570.17" r="0.5"/><circle cx="256.78" cy="566.13" r="0.5"/><circle cx="250.53" cy="568.5" r="0.5"/><circle cx="244.59" cy="578.68" r="0.5"/><circle cx="254.74" cy="567.02" r="0.5"/><circle cx="247.54" cy="571.07" r="0.5"/><circle cx="246.59" cy="569.53" r="0.5"/><circle cx="249.67" cy="571.67" r="0.5"/><circle cx="251.43" cy="578.79" r="0.5"/><circle cx="243.65" cy="577.62" r="0.5"/><circle cx="252" cy="566.76" r="0.5"/><circle cx="253.17" cy="565.47" r="0.5"/><circle cx="251.75" cy="570.77" r="0.5"/><circle cx="255.72" cy="560.34" r="0.5"/><circle cx="265.02" cy="571.09" r="0.5"/><circle cx="250.96" cy="566.44" r="0.5"/><circle cx="247.22" cy="568.68" r="0.5"/><circle cx="254.53" cy="568.63" r="0.5"/><circle cx="243.85" cy="583.52" r="0.5"/><circle cx="249.76" cy="577.84" r="0.5"/><circle cx="245.29" cy="573.62" r="0.5"/><circle cx="240.38" cy="580.28" r="0.5"/><circle cx="245.57" cy="571.16" r="0.5"/><circle cx="260.91" cy="562.35" r="0.5"/><circle cx="263.49" cy="562.22" r="0.5"/><circle cx="232.5" cy="578.97" r="0.5"/><circle cx="253.38" cy="575.74" r="0.5"/><circle cx="244.92" cy="571.41" r="0.5"/><circle cx="244.63" cy="580" r="0.5"/><circle cx="258.69" cy="563.83" r="0.5"/><circle cx="239.33" cy="574.96" r="0.5"/><circle cx="251.38" cy="565.84" r="0.5"/><circle cx="247.4" cy="572.39" r="0.5"/><circle cx="256.72" cy="558.4" r="0.5"/><circle cx="239.02" cy="577.55" r="0.5"/><circle cx="255.77" cy="564.84" r="0.5"/><circle cx="253.82" cy="565.27" r="0.5"/><circle cx="232.21" cy="581.5" r="0.5"/><circle cx="255.65" cy="564.51" r="0.5"/><circle cx="239.07" cy="578.64" r="0.5"/><circle cx="242.09" cy="578.4" r="0.5"/><circle cx="250.85" cy="574.1" r="0.5"/><circle cx="256.02" cy="576.29" r="0.5"/><circle cx="238.56" cy="584.98" r="0.5"/><circle cx="226.32" cy="592.39" r="0.5"/><circle cx="241.99" cy="575.65" r="0.5"/><circle cx="244.12" cy="577.5" r="0.5"/><circle cx="247.07" cy="576.68" r="0.5"/><circle cx="249.07" cy="576.12" r="0.5"/><circle cx="266.05" cy="560.46" r="0.5"/><circle cx="249.06" cy="568.73" r="0.5"/><circle cx="249.06" cy="571.09" r="0.5"/><circle cx="239.59" cy="575.96" r="0.5"/><circle cx="259.23" cy="556.55" r="0.5"/><circle cx="235.7" cy="577.81" r="0.5"/><circle cx="246.58" cy="572.42" r="0.5"/><circle cx="251.71" cy="571.37" r="0.5"/><circle cx="246.41" cy="569.67" r="0.5"/><circle cx="245.23" cy="578.98" r="0.5"/><circle cx="255.1" cy="565.72" r="0.5"/><circle cx="250.22" cy="567.93" r="0.5"/><circle cx="238.62" cy="574.53" r="0.5"/><circle cx="258.7" cy="572.8" r="0.5"/><circle cx="250.85" cy="573.02" r="0.5"/><circle cx="253.2" cy="568.37" r="0.5"/><circle cx="235.19" cy="587.14" r="0.5"/><circle cx="253.86" cy="574.19" r="0.5"/><circle cx="247.03" cy="572.17" r="0.5"/><circle cx="267.2" cy="565.54" r="0.5"/><circle cx="250.69" cy="565.58" r="0.5"/><circle cx="241.13" cy="574.9" r="0.5"/><circle cx="249.49" cy="571.36" r="0.5"/><circle cx="248.75" cy="575.68" r="0.5"/><circle cx="234.18" cy="576.36" r="0.5"/><circle cx="249.39" cy="573.89" r="0.5"/><circle cx="252.91" cy="577.15" r="0.5"/><circle cx="244.74" cy="574.01" r="0.5"/><circle cx="244.59" cy="571.66" r="0.5"/><circle cx="254.82" cy="568.94" r="0.5"/><circle cx="255.13" cy="559.53" r="0.5"/><circle cx="241.19" cy="582.89" r="0.5"/><circle cx="251.09" cy="569.81" r="0.5"/><circle cx="252.37" cy="573.01" r="0.5"/><circle cx="245.95" cy="579.69" r="0.5"/><circle cx="252.97" cy="568.89" r="0.5"/><circle cx="249.27" cy="576.82" r="0.5"/><circle cx="246.8" cy="571.66" r="0.5"/><circle cx="238.23" cy="578.44" r="0.5"/><circle cx="247.44" cy="569.68" r="0.5"/><circle cx="246.78" cy="578.78" r="0.5"/><circle cx="244.41" cy="578.92" r="0.5"/><circle cx="246.43" cy="563.45" r="0.5"/><circle cx="252.71" cy="569.19" r="0.5"/><circle cx="239.19" cy="578.6" r="0.5"/><circle cx="243.53" cy="575.64" r="0.5"/><circle cx="246.98" cy="577.45" r="0.5"/><circle cx="253.38" cy="573.21" r="0.5"/><circle cx="255.56" cy="563.85" r="0.5"/><circle cx="252.6" cy="572.01" r="0.5"/><circle cx="242.3" cy="583.13" r="0.5"/><circle cx="251.52" cy="570.6" r="0.5"/><circle cx="250.49" cy="567.82" r="0.5"/><circle cx="254.22" cy="572.79" r="0.5"/><circle cx="260.02" cy="565.23" r="0.5"/><circle cx="249.86" cy="570.65" r="0.5"/><circle cx="231.54" cy="584.43" r="0.5"/><circle cx="247.65" cy="576.43" r="0.5"/><circle cx="248.61" cy="572.39" r="0.5"/><circle cx="258.35" cy="566.41" r="0.5"/><circle cx="250.38" cy="566.46" r="0.5"/><circle cx="243.68" cy="572.52" r="0.5"/><circle cx="253.97" cy="567.48" r="0.5"/><circle cx="243.88" cy="575.27" r="0.5"/><circle cx="247.74" cy="578.53" r="0.5"/><circle cx="260.55" cy="566.2" r="0.5"/><circle cx="252.58" cy="576.58" r="0.5"/><circle cx="257.02" cy="570.29" r="0.5"/><circle cx="243.13" cy="576.91" r="0.5"/><circle cx="247.94" cy="567.01" r="0.5"/><circle cx="242.36" cy="580.29" r="0.5"/><circle cx="239.15" cy="583.07" r="0.5"/><circle cx="250.81" cy="571.1" r="0.5"/><circle cx="245.79" cy="574.11" r="0.5"/><circle cx="256.35" cy="560.61" r="0.5"/><circle cx="250.1" cy="573.93" r="0.5"/><circle cx="249.7" cy="570.59" r="0.5"/><circle cx="244.88" cy="575.35" r="0.5"/></g>
<g transform="translate(261.9 546.2) rotate(-33)"><ellipse rx="23" ry="9" fill="url(#g_light)"/><g fill="none" stroke="#666" stroke-width="0.4" opacity="0.7"><ellipse rx="23" ry="9"/><ellipse rx="18.86" ry="7.38"/><ellipse rx="14.72" ry="5.76"/><ellipse rx="10.58" ry="4.14"/><ellipse rx="6.44" ry="2.52"/><ellipse rx="2.3" ry="0.9"/></g></g>
<g transform="translate(272.9 556.5) rotate(-40)"><ellipse rx="25.5" ry="12.5" fill="url(#g_med)"/><g fill="none" stroke="#5a5a5a" stroke-width="0.4" opacity="0.7"><ellipse rx="25.5" ry="12.5"/><ellipse rx="22.5" ry="11.03"/><ellipse rx="19.51" ry="9.56"/><ellipse rx="16.51" ry="8.09"/><ellipse rx="13.52" ry="6.62"/><ellipse rx="10.52" ry="5.16"/><ellipse rx="7.52" ry="3.69"/><ellipse rx="4.53" ry="2.22"/><ellipse rx="1.53" ry="0.75"/></g></g>
<polygon points="231.2,554.9 263.2,528.1 282.9,533.3 246.4,565.2" fill="none" stroke="#111" stroke-width="2" stroke-linejoin="miter"/>
<polygon points="283.9,534.5 300.2,546.6 262.4,582.8 247.2,567.9" fill="none" stroke="#f08a24" stroke-width="2" stroke-linejoin="miter"/>
<g transform="translate(95.4 960.1) rotate(0)"><ellipse rx="8.5" ry="7" fill="url(#g_light)"/><g fill="none" stroke="#777" stroke-width="0.4" opacity="0.7"><ellipse rx="8.5" ry="7"/><ellipse rx="6.69" ry="5.51"/><ellipse rx="4.89" ry="4.02"/><ellipse rx="3.08" ry="2.54"/><ellipse rx="1.28" ry="1.05"/></g></g>
<g transform="translate(110.9 964.7) rotate(-10)"><ellipse rx="19" ry="7.5" fill="url(#g_light)"/><g fill="none" stroke="#888" stroke-width="0.4" opacity="0.7"><ellipse rx="19" ry="7.5"/><ellipse rx="15.83" ry="6.25"/><ellipse rx="12.67" ry="5"/><ellipse rx="9.5" ry="3.75"/></g></g>
<g transform="translate(135.4 958.2) rotate(-40)"><ellipse rx="25" ry="20.5" fill="url(#g_ring)"/><g fill="none" stroke="#5a5a5a" stroke-width="0.4" opacity="0.7"><ellipse rx="25" ry="20.5"/><ellipse rx="23.3" ry="19.1"/><ellipse rx="21.59" ry="17.7"/><ellipse rx="19.89" ry="16.31"/><ellipse rx="18.18" ry="14.91"/><ellipse rx="16.48" ry="13.51"/><ellipse rx="14.77" ry="12.11"/><ellipse rx="13.07" ry="10.72"/><ellipse rx="11.36" ry="9.32"/><ellipse rx="9.66" ry="7.92"/><ellipse rx="7.95" ry="6.52"/><ellipse rx="6.25" ry="5.12"/></g></g>
<g transform="translate(143.9 956.5) rotate(-40)"><ellipse rx="9" ry="7.5" fill="url(#g_med)"/><g fill="none" stroke="#5a5a5a" stroke-width="0.4" opacity="0.7"><ellipse rx="9" ry="7.5"/><ellipse rx="6.6" ry="5.5"/><ellipse rx="4.2" ry="3.5"/><ellipse rx="1.8" ry="1.5"/></g></g>
<g transform="translate(119.4 958.7) rotate(0)"><ellipse rx="6.5" ry="6" fill="url(#g_med)"/><g fill="none" stroke="#5a5a5a" stroke-width="0.4" opacity="0.7"><ellipse rx="6.5" ry="6"/><ellipse rx="3.9" ry="3.6"/><ellipse rx="1.3" ry="1.2"/></g></g>
<polygon points="112.4,932.4 145.4,933.1 114.5,985.9 92.5,979.8" fill="none" stroke="#111" stroke-width="2" stroke-linejoin="miter"/>
<polygon points="149.1,933.3 170.5,943.6 139.9,992.2 117.5,986.4" fill="none" stroke="#f08a24" stroke-width="2" stroke-linejoin="miter"/>
<g transform="translate(223 960.2) rotate(0)"><ellipse rx="13.5" ry="12.5" fill="url(#g_med)"/><g fill="none" stroke="#5a5a5a" stroke-width="0.4" opacity="0.7"><ellipse rx="13.5" ry="12.5"/><ellipse rx="12.02" ry="11.12"/><ellipse rx="10.53" ry="9.75"/><ellipse rx="9.04" ry="8.38"/><ellipse rx="7.56" ry="7"/><ellipse rx="6.07" ry="5.62"/><ellipse rx="4.59" ry="4.25"/><ellipse rx="3.1" ry="2.88"/><ellipse rx="1.62" ry="1.5"/></g></g>
<g transform="translate(250.7 952.8) rotate(-45)"><ellipse rx="22.7" ry="10.5" fill="url(#g_med)"/><g fill="none" stroke="#5a5a5a" stroke-width="0.4" opacity="0.7"><ellipse rx="22.7" ry="10.5"/><ellipse rx="19.78" ry="9.15"/><ellipse rx="16.86" ry="7.8"/><ellipse rx="13.94" ry="6.45"/><ellipse rx="11.03" ry="5.1"/><ellipse rx="8.11" ry="3.75"/><ellipse rx="5.19" ry="2.4"/><ellipse rx="2.27" ry="1.05"/></g></g>
<g transform="translate(253.9 948.7) rotate(-55)"><ellipse rx="12" ry="5" fill="url(#g_dark)"/><g fill="none" stroke="#5a5a5a" stroke-width="0.4" opacity="0.7"><ellipse rx="12" ry="5"/><ellipse rx="7.2" ry="3"/><ellipse rx="2.4" ry="1"/></g></g>
<polygon points="240.9,932.4 273.9,933.1 243,985.9 221,979.8" fill="none" stroke="#111" stroke-width="2" stroke-linejoin="miter"/>
<polygon points="277.6,933.3 299,943.6 268.4,992.2 246,986.4" fill="none" stroke="#f08a24" stroke-width="2" stroke-linejoin="miter"/>
</svg>
</body></html>
